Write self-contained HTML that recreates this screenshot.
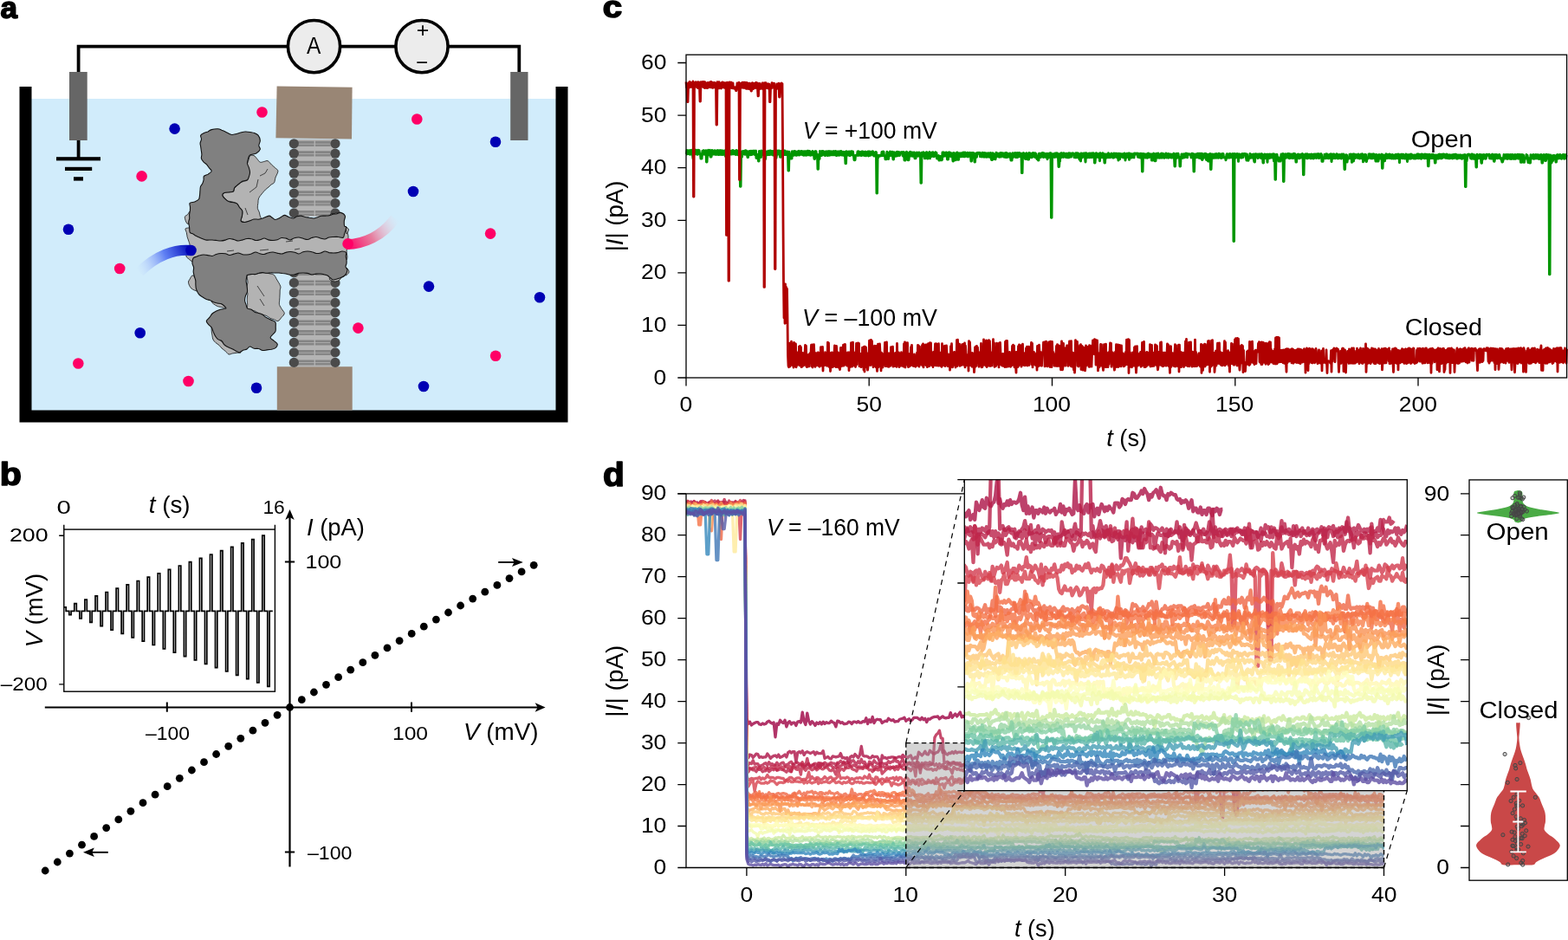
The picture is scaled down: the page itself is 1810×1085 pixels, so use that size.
<!DOCTYPE html>
<html><head><meta charset="utf-8"><title>Figure</title>
<style>html,body{margin:0;padding:0;background:#fff;}svg{display:block;}</style></head>
<body><svg width="1810" height="1085" viewBox="0 0 1810 1085" font-family="Liberation Sans, sans-serif" fill="#000">
<rect x="36" y="114" width="606" height="360" fill="#d1ecfb"/>
<path d="M29.5 100V480.5H648.5V100" fill="none" stroke="#000" stroke-width="14"/>
<path d="M90.6 83V53.6H599.3V83" fill="none" stroke="#000" stroke-width="3.8"/>
<rect x="80" y="83" width="20.7" height="79" fill="#666"/>
<rect x="589.2" y="83" width="20.3" height="79" fill="#666"/>
<path d="M90.6 162V183" stroke="#000" stroke-width="3.8"/>
<rect x="65" y="181.2" width="51" height="4.2" fill="#000"/>
<rect x="75" y="192.8" width="31.2" height="4.2" fill="#000"/>
<rect x="85" y="204.2" width="11" height="4.4" fill="#000"/>
<circle cx="362.5" cy="53.6" r="30.1" fill="#ececec" stroke="#000" stroke-width="3.6"/>
<circle cx="487.0" cy="53.6" r="30.1" fill="#ececec" stroke="#000" stroke-width="3.6"/>
<text transform="translate(353.9 62.4) scale(0.864 1)" font-size="28.4">A</text>
<text transform="translate(480.7 43.2) scale(1.017 1)" font-size="24.5">+</text>
<text transform="translate(480 79.6) scale(1.003 1)" font-size="24">−</text>
<polygon points="319.6,99.6 406.6,100.8 406,160.6 318.4,159.2" fill="#998675"/>
<rect x="319.8" y="423.2" width="86.9" height="50.3" fill="#998675"/>
<rect x="341" y="160.6" width="45" height="89.4" fill="#b4b4b4"/>
<rect x="341" y="312" width="45" height="111.2" fill="#b4b4b4"/>
<path d="M343.8 164.3H362.6M363.9 164.3H381.6M343.8 175.8H362.6M363.9 175.8H381.6M343.8 187.2H362.6M363.9 187.2H381.6M343.8 198.7H362.6M363.9 198.7H381.6M343.8 210.1H362.6M363.9 210.1H381.6M343.8 221.6H362.6M363.9 221.6H381.6M343.8 233H362.6M363.9 233H381.6M343.8 244.4H362.6M363.9 244.4H381.6M343.8 313.4H362.6M363.9 313.4H381.6M343.8 324.9H362.6M363.9 324.9H381.6M343.8 336.4H362.6M363.9 336.4H381.6M343.8 347.9H362.6M363.9 347.9H381.6M343.8 359.4H362.6M363.9 359.4H381.6M343.8 370.9H362.6M363.9 370.9H381.6M343.8 382.4H362.6M363.9 382.4H381.6M343.8 393.9H362.6M363.9 393.9H381.6M343.8 405.4H362.6M363.9 405.4H381.6M343.8 416.9H362.6M363.9 416.9H381.6" stroke="#848484" stroke-width="2.9"/>
<path d="M343.8 167.7H362.6M363.9 167.7H381.6M343.8 179.2H362.6M363.9 179.2H381.6M343.8 190.6H362.6M363.9 190.6H381.6M343.8 202.1H362.6M363.9 202.1H381.6M343.8 213.5H362.6M363.9 213.5H381.6M343.8 225H362.6M363.9 225H381.6M343.8 236.4H362.6M363.9 236.4H381.6M343.8 247.8H362.6M363.9 247.8H381.6M343.8 316.8H362.6M363.9 316.8H381.6M343.8 328.3H362.6M363.9 328.3H381.6M343.8 339.8H362.6M363.9 339.8H381.6M343.8 351.3H362.6M363.9 351.3H381.6M343.8 362.8H362.6M363.9 362.8H381.6M343.8 374.3H362.6M363.9 374.3H381.6M343.8 385.8H362.6M363.9 385.8H381.6M343.8 397.3H362.6M363.9 397.3H381.6M343.8 408.8H362.6M363.9 408.8H381.6M343.8 420.3H362.6M363.9 420.3H381.6" stroke="#868686" stroke-width="2.4"/>
<g fill="#4a4a4a"><circle cx="339.3" cy="165.8" r="5.6"/><circle cx="387" cy="165.8" r="5.6"/><circle cx="339.3" cy="177.2" r="5.6"/><circle cx="387" cy="177.2" r="5.6"/><circle cx="339.3" cy="188.7" r="5.6"/><circle cx="387" cy="188.7" r="5.6"/><circle cx="339.3" cy="200.2" r="5.6"/><circle cx="387" cy="200.2" r="5.6"/><circle cx="339.3" cy="211.6" r="5.6"/><circle cx="387" cy="211.6" r="5.6"/><circle cx="339.3" cy="223.1" r="5.6"/><circle cx="387" cy="223.1" r="5.6"/><circle cx="339.3" cy="234.5" r="5.6"/><circle cx="387" cy="234.5" r="5.6"/><circle cx="339.3" cy="245.9" r="5.6"/><circle cx="387" cy="245.9" r="5.6"/><circle cx="339.3" cy="314.9" r="5.6"/><circle cx="387" cy="314.9" r="5.6"/><circle cx="339.3" cy="326.4" r="5.6"/><circle cx="387" cy="326.4" r="5.6"/><circle cx="339.3" cy="337.9" r="5.6"/><circle cx="387" cy="337.9" r="5.6"/><circle cx="339.3" cy="349.4" r="5.6"/><circle cx="387" cy="349.4" r="5.6"/><circle cx="339.3" cy="360.9" r="5.6"/><circle cx="387" cy="360.9" r="5.6"/><circle cx="339.3" cy="372.4" r="5.6"/><circle cx="387" cy="372.4" r="5.6"/><circle cx="339.3" cy="383.9" r="5.6"/><circle cx="387" cy="383.9" r="5.6"/><circle cx="339.3" cy="395.4" r="5.6"/><circle cx="387" cy="395.4" r="5.6"/><circle cx="339.3" cy="406.9" r="5.6"/><circle cx="387" cy="406.9" r="5.6"/><circle cx="339.3" cy="418.4" r="5.6"/><circle cx="387" cy="418.4" r="5.6"/></g>
<path d="M285.5 188.7C285.7 187.2 286.6 185.8 287.1 184.4C287.6 182.9 287.5 180.8 288.5 180C289.5 179.2 291.6 179 293 179.5C294.4 180 295.5 182 296.7 183.3C297.9 184.6 299 186.7 300.3 187.2C301.6 187.7 303.2 186.8 304.7 186.5C306.2 186.3 307.6 185.1 309.1 185.7C310.6 186.3 312.1 188.8 313.5 190.1C314.9 191.4 316.2 192.3 317.4 193.6C318.7 194.8 320.8 195.6 320.9 197.5C321 199.4 318.7 202.7 318 204.9C317.3 207.1 317.3 209.4 316.5 210.8C315.7 212.2 314.1 212.2 313 213.1C311.9 214 311.1 215 310 216C308.9 217 307.5 217.9 306.3 219C305.2 220.1 304.5 221 303.2 222.6C301.9 224.2 299.7 226.5 298.8 228.5C297.9 230.5 298.1 232.4 297.9 234.4C297.6 236.3 297.1 238.6 297.3 240.3C297.5 242 298.7 243.1 299.2 244.6C299.6 246 299.8 247.6 300.2 249.1C300.6 250.6 302.2 252.6 301.7 253.5C301.2 254.4 298.5 254.2 297 254.5C295.4 254.8 293.8 255.2 292.2 255.3C290.6 255.4 288.9 255 287.3 255.2C285.7 255.4 284.1 256.5 282.6 256.5C281.1 256.5 278.6 256.2 278.1 255C277.6 253.8 279.2 251.1 279.4 249.2C279.7 247.2 280.1 244.8 279.6 243.2C279.1 241.6 277.2 240.8 276.2 239.5C275.2 238.1 274.8 236.1 273.7 235.1C272.6 234.1 271.2 233.9 269.9 233.5C268.6 233 267.2 232.9 265.9 232.5C264.5 232.2 263.4 232.6 261.9 231.4C260.4 230.2 257.3 227 256.8 225.5C256.3 224 257.8 223.2 259 222.6C260.2 222 262.4 221.9 264.1 221.7C265.8 221.4 268.2 221.8 269.3 221C270.4 220.2 269.6 218.3 270.8 216.7C272 215.1 275 212.7 276.7 211.5C278.4 210.3 279.5 210 281 209.4C282.5 208.8 284.7 208.9 285.5 207.8C286.3 206.7 285.7 204.6 285.7 203C285.7 201.4 285.4 199.8 285.4 198.2C285.5 196.7 285.7 195.1 285.7 193.5C285.7 191.9 285.3 190.2 285.5 188.7Z" fill="#b3b3b3" stroke="#111" stroke-width="0.8" stroke-linejoin="round"/>
<path d="M214 264C214.4 263 216.7 263.3 218 262.9C219.3 262.6 220.7 262.1 222 262C223.3 261.9 224.7 262 226 262.1C227.4 262.2 228.7 262.5 230.1 262.5C231.4 262.5 232.8 262 234.1 262C235.5 261.9 236.8 262 238.2 262C239.5 262 240.9 262.2 242.2 262.1C243.6 262 244.9 261.6 246.3 261.6C247.6 261.6 249 261.9 250.3 262C251.7 262.1 253 262.1 254.4 262.2C255.7 262.2 257.1 262.5 258.4 262.4C259.8 262.2 261.1 261.6 262.5 261.5C263.8 261.4 265.2 261.8 266.5 261.8C267.8 261.8 269.2 261.4 270.5 261.5C271.9 261.6 273.2 262.3 274.6 262.4C275.9 262.5 277.3 262.4 278.6 262.2C280 262.1 281.3 261.4 282.7 261.5C284 261.5 285.4 262.4 286.7 262.6C288.1 262.8 289.4 262.6 290.8 262.6C292.1 262.5 293.5 262.3 294.8 262.2C296.2 262.1 297.5 262.2 298.9 262.1C300.2 262 301.6 261.7 302.9 261.6C304.3 261.5 305.6 261.3 307 261.4C308.3 261.5 309.7 262 311 262C312.3 262 313.7 261.5 315 261.5C316.4 261.4 317.7 261.6 319.1 261.6C320.4 261.7 321.8 261.7 323.1 261.7C324.5 261.7 325.8 261.4 327.2 261.4C328.5 261.5 329.9 261.9 331.2 262C332.6 262 333.9 261.9 335.3 261.9C336.6 262 338 262.4 339.3 262.4C340.7 262.4 342 262.1 343.4 262C344.7 262 346.1 262.2 347.4 262.2C348.8 262.2 350.1 262 351.5 262C352.8 262 354.2 262.2 355.5 262.2C356.8 262.2 358.2 262 359.5 261.9C360.9 261.9 362.2 261.6 363.6 261.7C364.9 261.8 366.3 262.5 367.6 262.6C369 262.7 370.3 262.6 371.7 262.6C373 262.6 374.4 262.5 375.7 262.4C377.1 262.4 378.4 262.4 379.8 262.2C381.1 262.1 382.5 261.9 383.8 261.8C385.2 261.7 386.5 261.7 387.9 261.7C389.2 261.7 390.6 261.8 391.9 261.7C393.3 261.7 394.6 261.4 396 261.5C397.3 261.5 399.2 261.1 400 262C400.8 262.9 400.4 265.4 400.7 267.1C401 268.7 401.8 270.5 402 272C402.2 273.5 402 274.7 401.8 276C401.7 277.3 401.1 278.6 401 280C400.9 281.3 401.4 282.7 401.3 284C401.2 285.3 400.5 286.6 400.3 288C400.1 289.3 400.1 290.6 400.2 292C400.3 293.3 400.9 294.7 400.9 296C400.9 297.4 400.8 299.3 400 300C399.2 300.7 397.3 300.5 396 300.4C394.6 300.3 393.3 299.6 391.9 299.6C390.6 299.6 389.2 300.2 387.9 300.2C386.5 300.2 385.2 299.6 383.8 299.6C382.5 299.6 381.1 300.2 379.8 300.4C378.4 300.5 377.1 300.8 375.7 300.8C374.4 300.8 373 300.3 371.7 300.2C370.3 300 369 299.9 367.6 300C366.3 300.1 364.9 300.5 363.6 300.7C362.2 300.8 360.9 300.9 359.6 300.9C358.2 301 356.9 300.9 355.5 300.7C354.2 300.5 352.8 300.1 351.4 300C350.1 299.9 348.8 300.1 347.4 300.3C346.1 300.5 344.7 301 343.4 301.1C342 301.2 340.7 301 339.3 301C338 301 336.6 301.2 335.3 301.2C333.9 301.3 332.6 301.4 331.2 301.3C329.9 301.2 328.5 300.5 327.2 300.5C325.8 300.5 324.5 301.2 323.1 301.3C321.8 301.3 320.4 300.9 319.1 300.8C317.7 300.8 316.4 300.9 315 301C313.7 301.1 312.4 301.4 311 301.4C309.7 301.3 308.3 300.7 307 300.8C305.6 300.8 304.3 301.5 302.9 301.5C301.6 301.6 300.2 300.9 298.9 301C297.5 301 296.2 301.6 294.8 301.6C293.5 301.7 292.1 301.3 290.8 301.3C289.4 301.3 288.1 301.6 286.7 301.6C285.4 301.7 284 301.7 282.7 301.6C281.3 301.5 280 300.9 278.6 300.8C277.3 300.7 275.9 300.9 274.6 301C273.2 301.2 271.9 301.7 270.5 301.7C269.2 301.7 267.8 301 266.5 301C265.1 301.1 263.8 301.8 262.5 301.9C261.1 302 259.8 301.8 258.4 301.7C257.1 301.6 255.7 301.2 254.4 301.2C253 301.2 251.7 301.3 250.3 301.5C249 301.7 247.6 302.3 246.3 302.2C244.9 302.2 243.6 301.2 242.2 301.2C240.9 301.2 239.5 302 238.2 302.2C236.8 302.3 235.5 302.3 234.1 302.2C232.8 302.1 231.4 301.6 230.1 301.6C228.7 301.6 227.4 302.1 226 302.2C224.7 302.2 223.3 302.5 222 302C220.7 301.5 219.5 300.2 218.3 299.2C217.2 298.2 215.4 297.3 215 296C214.6 294.7 215.5 293 215.8 291.5C216.2 290 216.7 288.6 217.2 287.2C217.7 285.8 218.9 284.5 219 283C219.1 281.5 218.3 279.8 217.8 278.2C217.4 276.7 216.6 275.2 216.2 273.6C215.8 272 215.7 270.3 215.4 268.7C215 267.1 213.6 265 214 264Z" fill="#b3b3b3" stroke="#111" stroke-width="0.8" stroke-linejoin="round"/>
<path d="M285.5 317.5C286.2 316.7 288.4 317 289.9 316.7C291.4 316.5 292.9 316.4 294.4 316.2C295.9 316 297.3 315.8 298.8 315.5C300.3 315.2 301.7 314.7 303.2 314.6C304.7 314.5 306.2 314.9 307.7 315.1C309.2 315.4 310.7 315.6 312.2 316C313.7 316.4 315.3 316.5 316.5 317.5C317.7 318.5 318.2 320.4 319.1 321.9C320 323.3 320.9 324.7 321.7 326.2C322.5 327.7 323.6 329.4 323.9 330.8C324.2 332.2 323.4 333.5 323.2 334.9C323.1 336.3 323.1 337.6 323.1 339C323 340.4 323 341.8 322.9 343.2C322.8 344.5 322.7 345.9 322.6 347.3C322.6 348.6 322 349.8 322.4 351.4C322.8 353 324.2 354.9 325.2 356.6C326.2 358.4 328.3 360.1 328.3 361.7C328.3 363.3 326.2 364.9 324.9 366.4C323.7 367.9 322.3 370.2 320.9 370.6C319.5 371 317.9 369.4 316.4 368.8C314.9 368.3 313.3 368 311.9 367.3C310.5 366.6 309.3 365.3 307.8 364.6C306.4 363.9 304.7 363.7 303.2 363.2C301.7 362.7 300 362.5 298.6 361.8C297.1 361.2 296 359.8 294.5 359.1C293 358.5 291.2 358.7 289.7 358.1C288.2 357.6 286.2 356.9 285.5 355.8C284.8 354.7 285.8 353 285.7 351.5C285.7 350.1 285.4 348.7 285.3 347.3C285.2 345.9 285.3 344.5 285.4 343C285.5 341.6 286 340.2 285.9 338.8C285.8 337.4 285.1 335.9 284.9 334.5C284.8 333.1 284.8 331.7 285 330.3C285.2 328.8 285.9 327.4 286 326C286.1 324.6 285.6 323.2 285.5 321.8C285.4 320.3 284.8 318.3 285.5 317.5Z" fill="#b3b3b3" stroke="#111" stroke-width="0.8" stroke-linejoin="round"/>
<path d="M243 374C242.8 374 243.8 376.9 244 378.5C244.2 380 244.1 381.5 244.3 383C244.4 384.6 244.7 386 245 387.5C245.3 389 245.3 390.7 246 392C246.7 393.3 247.9 394.6 249 395.6C250.2 396.7 251.8 397.3 252.9 398.4C254.1 399.5 254.8 400.9 256 402C257.2 403.1 258.9 404.1 260.2 405.3C261.5 406.4 262.6 408.6 264 409C265.4 409.4 267.1 408.2 268.6 407.9C270.2 407.6 271.7 407.5 273.3 407.3C274.9 407.2 277.9 407.4 278 407C278.1 406.6 275.5 405.3 274.1 404.7C272.8 404.1 271.2 404 269.8 403.4C268.5 402.8 267.3 401.7 266 401C264.7 400.2 263.2 399.7 262 399C260.8 398.3 259.6 397.4 258.5 396.5C257.4 395.6 256.4 394.6 255.3 393.7C254.3 392.7 253.3 391.8 252.2 390.8C251.1 389.9 249.8 389.3 249 388C248.2 386.7 248 384.7 247.4 383.2C246.7 381.6 245.8 380.1 245.1 378.6C244.4 377.1 243.2 374 243 374Z" fill="#b3b3b3" stroke="#111" stroke-width="0.8" stroke-linejoin="round"/>
<path d="M219.2 244C218.6 243.8 217.6 246.5 216.6 247.6C215.6 248.7 213.4 248.9 213.3 250.6C213.2 252.3 214.7 256.8 216 258C217.3 259.2 220.2 258.8 221 258C221.8 257.2 220.8 254.9 220.6 253.3C220.5 251.7 220.2 250.2 220 248.6C219.7 247.1 219.8 244.2 219.2 244Z" fill="#b3b3b3" stroke="#111" stroke-width="0.8" stroke-linejoin="round"/>
<path d="M222 318C220.9 318.3 220 320.5 219.3 321.9C218.5 323.3 217.2 324.4 217.5 326.3C217.8 328.2 219.2 331.4 221 333C222.8 334.6 227 336.2 228 336C229 335.8 227 333.4 226.9 332.1C226.8 330.7 227.4 329.3 227.3 328C227.1 326.6 226.3 325.4 226.1 324.1C225.9 322.7 226.7 321 226 320C225.3 319 223.1 317.7 222 318Z" fill="#b3b3b3" stroke="#111" stroke-width="0.8" stroke-linejoin="round"/>
<path d="M244 348C243.5 346.2 245.7 343.2 247 342C248.3 340.8 250.6 340.7 252 341C253.4 341.3 254.1 342.9 255.1 343.9C256.1 344.9 257.2 345.7 258 347C258.8 348.3 259.1 349.9 259.6 351.4C260.2 352.9 261.9 355.3 261.2 355.8C260.5 356.3 257.4 355 255.6 354.5C253.7 354 251.9 354.1 250 353C248.1 351.9 244.5 349.8 244 348Z" fill="#b3b3b3" stroke="#111" stroke-width="0.8" stroke-linejoin="round"/>
<path d="M396 250C395 248.3 391.7 246.6 390 246C388.3 245.4 387.3 246.3 386 246.5C384.7 246.6 383.3 246.1 382 247C380.7 247.9 377.9 250.9 378 252C378.1 253.1 380.9 252.9 382.4 253.4C383.9 253.8 385.4 254.3 386.9 254.5C388.4 254.8 390 254.5 391.6 254.8C393.1 255 395.3 256.8 396 256C396.7 255.2 397 251.7 396 250Z" fill="#b3b3b3" stroke="#111" stroke-width="0.8" stroke-linejoin="round"/>
<path d="M395 318C394.3 319.5 393.5 321.8 392 323C390.5 324.2 388 325.2 386 325C384 324.8 380.4 322.9 380 322C379.6 321.1 382.5 320.3 383.8 319.7C385.2 319 386.7 318.8 388.1 318.2C389.4 317.5 390.6 316.5 391.9 315.8C393.2 315.1 395.5 313.6 396 314C396.5 314.4 395.7 316.5 395 318Z" fill="#b3b3b3" stroke="#111" stroke-width="0.8" stroke-linejoin="round"/>
<path d="M399 262C399.5 261.8 402.3 263.7 402.5 265C402.7 266.3 400.5 269.8 400 270C399.5 270.2 399.9 267.3 399.7 266C399.5 264.6 398.5 262.2 399 262Z" fill="#b3b3b3" stroke="#111" stroke-width="0.8" stroke-linejoin="round"/>
<path d="M400 309C400.5 309.1 403.2 312.5 403 314C402.8 315.5 399.5 318.1 399 318C398.5 317.9 399.8 315.1 400 313.6C400.2 312.1 399.5 308.9 400 309Z" fill="#b3b3b3" stroke="#111" stroke-width="0.8" stroke-linejoin="round"/>
<path d="M231.7 156.2C232.2 155 234.3 154.3 235.6 153.6C237 152.9 238.6 152.5 240.1 151.9C241.5 151.2 242.3 150.1 244.2 149.6C246.1 149.1 249.7 148.7 251.6 148.8C253.5 148.9 254.5 149.6 255.9 150.2C257.3 150.7 258.7 151.4 260 152C261.3 152.6 262.5 153.3 263.8 153.9C265.1 154.5 266.3 155.4 267.8 155.5C269.3 155.6 271.3 154.9 273 154.5C274.7 154.1 276.3 153.4 278 153C279.7 152.6 281.5 152.1 283.2 152C285 151.9 286.8 152.2 288.5 152.5C290.2 152.8 292 152.9 293.6 153.5C295.2 154.2 296.9 154.8 298 156.2C299.1 157.6 300.2 160.1 300.3 162.1C300.4 164.1 298.8 166.3 298.8 168C298.8 169.7 300.8 170.9 300.3 172.4C299.8 173.9 297.8 175.8 295.8 176.9C293.8 178 290.1 177.9 288.5 179C286.9 180.1 286.9 182.1 286.4 183.7C285.9 185.3 285.3 187 285.5 188.7C285.7 190.4 286.9 192 287.4 193.7C287.9 195.4 288.5 197.4 288.5 199C288.5 200.6 288 202.1 287.5 203.6C287 205 286.6 206.9 285.5 207.8C284.4 208.7 282.2 208.2 280.8 208.8C279.3 209.4 278.4 210.2 276.7 211.5C275 212.8 272 215.1 270.8 216.7C269.6 218.3 270.4 220.1 269.3 221C268.2 221.9 265.9 221.6 264.2 221.9C262.4 222.1 260.2 222 259 222.6C257.8 223.2 256.3 224 256.8 225.5C257.3 227 260.4 230.1 261.9 231.4C263.4 232.7 264.3 232.8 265.7 233.2C267 233.6 268.4 233.5 269.8 233.8C271.1 234.1 272.6 234.2 273.7 235.1C274.8 236 275.5 237.9 276.4 239.3C277.4 240.6 279.1 241.6 279.6 243.2C280.1 244.8 279.7 247.2 279.5 249.2C279.2 251.1 277.6 253.8 278.1 255C278.6 256.2 281 256.5 282.6 256.5C284.2 256.5 286.1 255.6 287.9 255C289.6 254.4 291.3 253.3 293 253C294.7 252.7 296.5 253.3 298.2 253.2C299.9 253 301.1 252.7 303.2 252C305.3 251.3 308.8 249.2 310.6 249.1C312.4 249 313 250.6 314.3 251.3C315.5 252.1 316.5 253.5 318 253.5C319.5 253.5 321.6 252.2 323.3 251.3C325.1 250.5 326.6 248.5 328.3 248.4C330 248.3 331.6 249.9 333.3 250.5C335.1 251.1 337 252.1 338.6 252C340.2 251.9 341.3 250.3 342.8 249.8C344.2 249.3 345.8 249 347.4 249.1C349 249.2 350.6 250.2 352.2 250.5C353.9 250.9 355.6 250.9 357.2 251.2C358.9 251.4 360.6 252.1 362.2 252C363.8 251.9 365.1 251.1 366.6 250.7C368 250.2 369.4 249.5 370.9 249.2C372.4 249 374 249.2 375.5 249.1C377 249 378.6 249.1 380.1 248.8C381.5 248.5 382.9 247.6 384.3 247.2C385.8 246.9 387.4 247 388.9 246.7C390.3 246.4 391.6 245 393.2 245.4C394.8 245.8 397.6 247.5 398.3 249.1C399 250.7 397.4 253 397.3 255C397.2 256.9 397.2 259.7 397.6 260.9C398 262.1 399.8 260.9 399.8 262.4C399.8 263.9 398.2 267.8 397.6 269.8C397 271.8 397.3 273.6 396.1 274.2C394.9 274.8 392.4 273.6 390.6 273.5C388.7 273.3 386.8 273.4 385 273.5C383.2 273.6 381.5 273.6 379.8 274C378.1 274.4 376.6 275.8 375 276C373.4 276.2 371.6 275.4 370 274.9C368.3 274.5 366.7 273.6 365 273.5C363.3 273.4 361.5 274 359.8 274.5C358.2 275 356.6 276.4 355 276.5C353.4 276.6 351.6 275.8 350 275.3C348.3 274.9 346.7 274.1 345 274C343.3 273.9 341.4 274.2 339.8 274.7C338.1 275.2 336.6 276.9 335 277C333.4 277.1 331.8 275.5 330.2 275.1C328.5 274.7 326.7 274.2 325 274.5C323.3 274.8 321.9 276.2 320.2 276.7C318.5 277.2 316.7 277.5 315 277.5C313.3 277.5 311.5 277.3 309.8 276.9C308.2 276.5 306.6 275 305 275C303.4 275 301.8 276.3 300.1 276.7C298.5 277.2 296.7 277.7 295 277.5C293.3 277.3 291.8 276 290.2 275.7C288.5 275.3 286.7 275.3 285 275.5C283.3 275.7 281.7 276.4 280 276.9C278.4 277.3 276.7 278.1 275 278C273.3 277.9 271.7 276.9 270.1 276.5C268.4 276.1 266.7 275.4 265 275.5C263.3 275.6 261.8 276.7 260.1 277.1C258.4 277.5 256.7 277.9 255 278C253.3 278.1 251.7 277.7 250 277.5C248.3 277.3 247 277.1 245 277C243 276.9 240.1 277.3 238.3 277.1C236.5 276.9 235.5 276.3 234.1 275.7C232.7 275.2 231.3 274.6 230 274C228.7 273.4 227.5 273 226.3 272.3C225.1 271.7 224.1 270.7 222.9 270.1C221.7 269.4 219.9 269.6 219.2 268.3C218.5 267 218.9 264.3 218.6 262.4C218.4 260.4 217.7 258.2 217.7 256.5C217.7 254.8 218.6 253.6 218.7 252.1C218.9 250.7 218.5 249.2 218.6 247.7C218.7 246.2 219.2 244.8 219.4 243.3C219.5 241.8 219.6 240.3 219.5 238.9C219.5 237.4 218.3 235.4 219.2 234.4C220.1 233.4 223 233.7 224.7 233C226.4 232.3 228.5 231.4 229.5 230C230.5 228.6 230.3 226.6 230.6 224.8C230.8 223.1 230.8 221.2 231 219.6C231.2 218 231 216.7 231.5 215.4C232 214.1 233.2 213 233.8 211.7C234.4 210.4 234.8 209 235.1 207.7C235.4 206.3 234.6 204.5 235.4 203.4C236.2 202.3 238.7 202 240.2 201.1C241.7 200.1 244 198.7 244.2 197.5C244.4 196.3 242.3 195 241.3 193.7C240.4 192.5 239.7 191.1 238.6 189.9C237.5 188.8 236 188 234.9 186.8C233.9 185.6 232.7 184.2 232.4 182.8C232.1 181.4 232.9 179.8 232.9 178.4C232.9 176.9 232.5 175.4 232.3 173.9C232.1 172.5 231.9 171 231.7 169.5C231.5 168 231 166.6 231.1 165.1C231.3 163.6 232.4 162.1 232.5 160.6C232.5 159.1 231.2 157.4 231.7 156.2Z" fill="#808080" stroke="#111" stroke-width="1.1" stroke-linejoin="round"/>
<path d="M223 298C223.8 296.7 225.6 296.8 226.8 296.2C228.1 295.7 229.4 295 230.8 294.7C232.1 294.3 233.5 294 235 294C236.5 294 238.4 294.3 240 294.6C241.7 294.8 243.4 295.7 245 295.5C246.6 295.3 248.2 293.9 249.8 293.4C251.5 292.9 253.3 292.6 255 292.5C256.7 292.4 258.5 292.4 260.2 292.7C261.8 293.1 263.4 294.4 265 294.5C266.6 294.6 268.3 293.5 270 293.1C271.6 292.7 273.4 291.9 275 292C276.6 292.1 278.2 293.4 279.9 293.7C281.5 294.1 283.3 294.1 285 294C286.7 293.9 288.5 293.5 290.2 293C291.8 292.5 293.4 291.1 295 291C296.6 290.9 298.2 292.3 299.9 292.7C301.6 293.1 303.3 293.7 305 293.5C306.7 293.3 308.2 292.2 309.9 291.8C311.5 291.3 313.3 290.9 315 291C316.7 291.1 318.3 291.7 320 292.1C321.7 292.4 323.3 293.1 325 293C326.7 292.9 328.2 291.8 329.9 291.4C331.6 290.9 333.3 290.5 335 290.5C336.7 290.5 338.5 290.8 340.1 291.2C341.8 291.6 343.4 293.1 345 293C346.6 292.9 348.1 291.3 349.8 290.8C351.5 290.3 353.3 290 355 290C356.7 290 358.5 290.3 360.1 290.8C361.8 291.2 363.3 292.3 365 292.5C366.7 292.7 368.5 292.4 370.2 292C371.9 291.6 373.4 290.1 375 290C376.6 289.9 378.2 291.2 379.9 291.6C381.6 291.9 383.3 292 385 292C386.7 292 388.4 291.9 390.1 291.5C391.8 291.2 393.4 290 395 290C396.6 290 398.8 290.5 399.5 291.5C400.2 292.5 399.1 294.4 399.2 295.8C399.3 297.2 399.9 298.6 400 300C400.1 301.4 400.2 302.7 400 304.1C399.9 305.4 398.8 306.7 399 308C399.2 309.3 401.2 310.3 401 312C400.8 313.7 399.5 316.5 398 318C396.5 319.5 394.2 320.2 392 321C389.8 321.8 386.8 323 385 323C383.2 323 382.5 321.6 381.3 320.8C380.1 319.9 379.2 318.7 378 318C376.8 317.3 375.4 317.1 374.1 316.8C372.7 316.4 371.5 316.1 370 316C368.5 315.9 366.6 315.9 365 316.1C363.3 316.3 361.6 317.1 360 317C358.4 316.9 356.8 315.7 355.1 315.4C353.5 315 351.7 315 350 315C348.3 315 346.5 315 344.9 315.3C343.2 315.7 341.7 316.7 340 317C338.3 317.3 336.6 317.4 334.9 317.2C333.3 317.1 331.5 316.3 330 316C328.5 315.7 327.3 315.6 326 315.5C324.7 315.3 323.4 315.1 322 315C320.7 314.9 319.5 315 318 315C316.5 315 314.7 314.8 313 314.9C311.3 314.9 309.7 315.4 308 315.3C306.3 315.3 304.6 314.6 303 314.6C301.4 314.6 300.1 314.9 298.7 315.3C297.2 315.6 295.9 316.4 294.4 316.6C293 316.8 291.5 316.3 290 316.5C288.5 316.7 286.4 317.1 285.5 317.5C284.6 317.9 285 317.8 284.8 319C284.6 320.2 284.1 322.7 284.1 324.5C284.2 326.3 284.8 328 285 330C285.2 332 285.8 334.8 285.5 336.7C285.2 338.6 283.9 340 283.4 341.7C282.9 343.4 282.5 345.4 282.6 347C282.7 348.6 283.5 350 284 351.4C284.5 352.9 284.5 354.8 285.5 355.8C286.5 356.8 288.6 356.6 290.1 357.3C291.5 358 292.6 359.5 294.1 360.2C295.5 360.9 297.2 361 298.7 361.5C300.2 362 301.9 362.4 303.2 363.2C304.5 364 305.4 365.2 306.5 366C307.7 366.8 309 367.5 310.3 368.1C311.6 368.8 313 369.2 314.3 369.8C315.6 370.5 317.4 370.8 318 372C318.6 373.2 318.2 375.5 318.2 377.2C318.2 378.9 318.5 380.9 318 382.4C317.5 383.9 315.9 384.8 314.9 386C313.9 387.2 311.9 388.6 312.1 389.8C312.3 391 314.9 392.1 316.2 393.4C317.6 394.6 319.9 395.7 320.2 397.1C320.5 398.5 319.2 400.6 318 401.6C316.8 402.6 314.8 402.8 313.2 403.2C311.6 403.5 309.9 403.7 308.2 403.9C306.5 404.1 304.8 404.7 303.2 404.5C301.6 404.3 300.1 402.8 298.5 402.5C296.8 402.1 294.8 402.7 293.2 402.3C291.5 401.9 289.9 399.9 288.5 400C287.1 400.1 286.3 402.2 285 402.9C283.6 403.7 281.9 403.6 280.5 404.3C279.1 404.9 278 406.5 276.7 406.7C275.4 406.9 274.1 406 272.8 405.4C271.6 404.8 270.5 403.9 269.3 403.3C268.1 402.7 266.8 402.3 265.6 401.7C264.3 401.2 263.1 400.7 261.9 400C260.7 399.3 259.4 398.4 258.4 397.3C257.4 396.2 257 394.4 255.9 393.5C254.8 392.5 252.8 392.5 251.6 391.6C250.4 390.8 249.6 389.7 248.7 388.3C247.8 386.9 247.1 384.9 246.3 383.2C245.6 381.5 245.1 379.4 244.2 378C243.3 376.6 241.8 375.9 240.8 374.6C239.8 373.4 238.1 372 238.3 370.6C238.5 369.2 240.7 367.9 241.8 366.4C243 365 243.7 363.2 245 362C246.3 360.8 248.2 360 249.8 359.1C251.5 358.3 253.1 357.5 255 357C256.9 356.5 260.8 357 261 356C261.2 355 257.7 352 256 351C254.3 350 252.6 350.4 250.9 350C249.3 349.6 247.4 349.1 246 348.5C244.6 347.9 243.6 347.1 242.3 346.6C241 346.1 239.7 346.1 238.3 345.5C236.9 344.9 235.2 343.8 233.7 342.8C232.3 341.8 230.7 341.1 229.5 339.6C228.3 338.1 227.1 335.5 226.5 333.7C225.9 331.9 226 330.4 225.9 328.8C225.7 327.1 226 325.4 225.8 323.8C225.5 322.2 224.7 320.6 224.3 319C223.9 317.4 223.4 315.6 223.2 313.9C223.1 312.2 223.8 310.3 223.6 308.7C223.4 307.1 222.1 305.8 222 304C221.9 302.2 222.2 299.3 223 298Z" fill="#808080" stroke="#111" stroke-width="1.1" stroke-linejoin="round"/>
<path d="M300 203l6-3 3-5M288 222l8-6 2-9M262 290l8-1M300 289l10-1M330 279l8-1M340 288l6-1M283 240l3 8M297 330l8 12M300 345l5 8" fill="none" stroke="#111" stroke-width="0.7"/>
<defs><linearGradient id="gb" gradientUnits="userSpaceOnUse" x1="221" y1="289" x2="160" y2="316"><stop offset="0" stop-color="#0008b8"/><stop offset="0.45" stop-color="#4a6cf2" stop-opacity="0.85"/><stop offset="1" stop-color="#bcd0ff" stop-opacity="0"/></linearGradient><linearGradient id="gp" gradientUnits="userSpaceOnUse" x1="400" y1="282" x2="457" y2="250"><stop offset="0" stop-color="#ff0066"/><stop offset="0.45" stop-color="#ea6a8e" stop-opacity="0.85"/><stop offset="1" stop-color="#f4d0dc" stop-opacity="0"/></linearGradient></defs>
<path d="M221 289C202 287 180 295 161 314" fill="none" stroke="url(#gb)" stroke-width="12"/>
<path d="M400 282C420 282 442 272 456 252" fill="none" stroke="url(#gp)" stroke-width="12"/>
<g fill="#0000b4"><circle cx="201.6" cy="148.6" r="6.3"/><circle cx="572" cy="163.8" r="6.3"/><circle cx="477" cy="221" r="6.3"/><circle cx="79" cy="264.7" r="6.3"/><circle cx="161.7" cy="384.3" r="6.3"/><circle cx="296" cy="447.7" r="6.3"/><circle cx="495" cy="330.6" r="6.3"/><circle cx="623" cy="343.3" r="6.3"/><circle cx="489" cy="446" r="6.3"/><circle cx="220.5" cy="289" r="6.3"/></g>
<g fill="#ff0066"><circle cx="302.5" cy="129.5" r="6.3"/><circle cx="481.3" cy="137.5" r="6.3"/><circle cx="163.6" cy="203.4" r="6.3"/><circle cx="566.1" cy="269.6" r="6.3"/><circle cx="138.2" cy="310" r="6.3"/><circle cx="90.3" cy="419.5" r="6.3"/><circle cx="217.5" cy="440" r="6.3"/><circle cx="413.4" cy="378.6" r="6.3"/><circle cx="572.1" cy="410.8" r="6.3"/><circle cx="401.6" cy="281.4" r="6.3"/></g>
<text stroke="#000" stroke-width="1.6" stroke-linejoin="round" transform="translate(0.5 20.5) scale(1.010 1)" font-size="34.7" font-weight="bold">a</text>
<text stroke="#000" stroke-width="1.6" stroke-linejoin="round" transform="translate(-0.3 560.3) scale(1.097 1)" font-size="37.6" font-weight="bold">b</text>
<path d="M51.8 816.5H622M334.5 1000.4V596" stroke="#000" stroke-width="2.2" fill="none"/>
<path d="M629.6 816.5l-12 -5.2 3 5.2 -3 5.2z" fill="#000"/>
<path d="M334.5 588l-5.2 12 5.2 -3 5.2 3z" fill="#000"/>
<path d="M192.8 810.6v11.2M475 810.6v11.2M328.9 648.5h11.2M328.9 983.5h11.2" stroke="#000" stroke-width="2"/>
<g fill="#000"><circle cx="52.2" cy="1005" r="4.4"/><circle cx="66.3" cy="995" r="4.4"/><circle cx="80.4" cy="985.1" r="4.4"/><circle cx="94.5" cy="975.2" r="4.4"/><circle cx="108.6" cy="965.4" r="4.4"/><circle cx="122.7" cy="955.6" r="4.4"/><circle cx="136.8" cy="945.9" r="4.4"/><circle cx="150.9" cy="936.3" r="4.4"/><circle cx="165" cy="926.7" r="4.4"/><circle cx="179.1" cy="917.2" r="4.4"/><circle cx="193.2" cy="907.7" r="4.4"/><circle cx="207.3" cy="898.3" r="4.4"/><circle cx="221.4" cy="889" r="4.4"/><circle cx="235.5" cy="879.7" r="4.4"/><circle cx="249.6" cy="870.5" r="4.4"/><circle cx="263.7" cy="861.3" r="4.4"/><circle cx="277.8" cy="852.3" r="4.4"/><circle cx="291.9" cy="843.2" r="4.4"/><circle cx="306" cy="834.3" r="4.4"/><circle cx="320.1" cy="825.3" r="4.4"/><circle cx="334.5" cy="816.5" r="4.4"/><circle cx="348.3" cy="807.7" r="4.4"/><circle cx="362.4" cy="799" r="4.4"/><circle cx="376.5" cy="790.3" r="4.4"/><circle cx="390.6" cy="781.7" r="4.4"/><circle cx="404.7" cy="773.2" r="4.4"/><circle cx="418.8" cy="764.7" r="4.4"/><circle cx="432.9" cy="756.3" r="4.4"/><circle cx="447" cy="747.9" r="4.4"/><circle cx="461.1" cy="739.6" r="4.4"/><circle cx="475.2" cy="731.4" r="4.4"/><circle cx="489.3" cy="723.2" r="4.4"/><circle cx="503.4" cy="715.1" r="4.4"/><circle cx="517.5" cy="707" r="4.4"/><circle cx="531.6" cy="699" r="4.4"/><circle cx="545.7" cy="691.1" r="4.4"/><circle cx="559.8" cy="683.2" r="4.4"/><circle cx="573.9" cy="675.4" r="4.4"/><circle cx="588" cy="667.6" r="4.4"/><circle cx="602.1" cy="659.9" r="4.4"/><circle cx="616.2" cy="652.3" r="4.4"/></g>
<path d="M575.2 649H595" stroke="#000" stroke-width="1.9"/><path d="M603.8 649L591 644 593.6 649 591 654z" fill="#000"/>
<path d="M124.8 983.8H105" stroke="#000" stroke-width="1.9"/><path d="M96 983.8L108.8 978.6 106.3 983.8 108.8 989z" fill="#000"/>
<text transform="translate(352.4 655.6) scale(1.118 1)" font-size="22.5">100</text>
<text transform="translate(355 991.6) scale(1.029 1)" font-size="22.5">–100</text>
<text transform="translate(168 853.5) scale(1.019 1)" font-size="22.5">–100</text>
<text transform="translate(452.9 853.5) scale(1.098 1)" font-size="22.5">100</text>
<text transform="translate(535 853.5) scale(0.995 1)" font-size="28"><tspan font-style="italic">V</tspan> (mV)</text>
<text transform="translate(354 617.9) scale(0.978 1)" font-size="28"><tspan font-style="italic">I</tspan> (pA)</text>
<rect x="73.8" y="611.1" width="243.6" height="187.1" fill="#fff" stroke="#000" stroke-width="1.4"/>
<path d="M68.2 618.2h5.6M68.2 789.9h5.6M73.8 611.1v-5.4M317.4 611.1v-5.4" stroke="#000" stroke-width="1.4"/>
<path d="M73.8 700.9L76.2 700.9L76.2 705.3L79.8 705.3L79.8 709.7L82.1 709.7L82.1 705.3L85.8 705.3L85.8 696.6L88.3 696.6L88.3 705.3L91.9 705.3L91.9 714L94.2 714L94.2 705.3L97.9 705.3L97.9 692.2L100.3 692.2L100.3 705.3L103.9 705.3L103.9 718.4L106.2 718.4L106.2 705.3L110 705.3L110 687.9L112.4 687.9L112.4 705.3L116 705.3L116 722.7L118.3 722.7L118.3 705.3L122 705.3L122 683.5L124.4 683.5L124.4 705.3L128 705.3L128 727.1L130.3 727.1L130.3 705.3L134.1 705.3L134.1 679.2L136.5 679.2L136.5 705.3L140.1 705.3L140.1 731.4L142.4 731.4L142.4 705.3L146.1 705.3L146.1 674.8L148.5 674.8L148.5 705.3L152.1 705.3L152.1 735.8L154.4 735.8L154.4 705.3L158.2 705.3L158.2 670.5L160.6 670.5L160.6 705.3L164.2 705.3L164.2 740.1L166.5 740.1L166.5 705.3L170.2 705.3L170.2 666.1L172.6 666.1L172.6 705.3L176.2 705.3L176.2 744.5L178.5 744.5L178.5 705.3L182.2 705.3L182.2 661.8L184.7 661.8L184.7 705.3L188.3 705.3L188.3 748.8L190.6 748.8L190.6 705.3L194.3 705.3L194.3 657.4L196.7 657.4L196.7 705.3L200.3 705.3L200.3 753.2L202.6 753.2L202.6 705.3L206.4 705.3L206.4 653L208.8 653L208.8 705.3L212.4 705.3L212.4 757.6L214.7 757.6L214.7 705.3L218.4 705.3L218.4 648.7L220.8 648.7L220.8 705.3L224.4 705.3L224.4 761.9L226.7 761.9L226.7 705.3L230.5 705.3L230.4 644.3L232.9 644.3L232.9 705.3L236.5 705.3L236.5 766.3L238.8 766.3L238.8 705.3L242.5 705.3L242.5 640L244.9 640L244.9 705.3L248.5 705.3L248.5 770.6L250.8 770.6L250.8 705.3L254.6 705.3L254.6 635.6L257 635.6L257 705.3L260.6 705.3L260.6 775L262.9 775L262.9 705.3L266.6 705.3L266.6 631.3L269 631.3L269 705.3L272.6 705.3L272.6 779.3L274.9 779.3L274.9 705.3L278.7 705.3L278.7 626.9L281.1 626.9L281.1 705.3L284.7 705.3L284.7 783.7L287 783.7L287 705.3L290.7 705.3L290.7 622.6L293.1 622.6L293.1 705.3L296.7 705.3L296.7 788L299 788L299 705.3L302.8 705.3L302.8 618.2L305.2 618.2L305.2 705.3L308.8 705.3L308.8 792.4L311.1 792.4L311.1 705.3L314.8 705.3" fill="none" stroke="#000" stroke-width="1.7" stroke-linejoin="miter"/>
<text transform="translate(65.5 592.6) scale(1.366 1)" font-size="21.5">0</text>
<text transform="translate(303.4 592.6) scale(1.062 1)" font-size="21.5">16</text>
<text transform="translate(171.7 591.9) scale(0.994 1)" font-size="28"><tspan font-style="italic">t</tspan> (s)</text>
<text transform="translate(10.9 624.5) scale(1.217 1)" font-size="22">200</text>
<text transform="translate(0.8 796.5) scale(1.104 1)" font-size="22">–200</text>
<text transform="translate(49.3 747.5) rotate(-90) scale(0.983 1)" font-size="28"><tspan font-style="italic">V</tspan> (mV)</text>
<text stroke="#000" stroke-width="1.6" stroke-linejoin="round" transform="translate(695.8 20.4) scale(1.134 1)" font-size="35.5" font-weight="bold">c</text>
<path d="M792 178l0.5 0 0.5-4.4 0.5 0.2 0.5 0.3 0.5 3.4 0.5-3.8 0.5 3.4 0.5-3 0.5 4.1 0.5-4.8 0.5 4 0.5-3.7 0.5 4.5 0.5-5 0.5 4.9 0.5 4.7 0.5-5.1 0.5-4.2 0.5 3.7 0.5 0.6 0.5-3.9 0.5-0.7 0.5 1 0.5-0.7 0.5 4.7 0.5-4.2 0.5 4.2 0.5-4.9 0.5 3.9 0.5-3.7 0.5 3.7 0.5 0.6 0.5-0.1 0.5 5.4 0.5 0 0.5 0 0.5-5.5 0.5-3.4 0.5 3.8 0.5-4.2 0.5 4.3 0.5-4 0.5 3.5 0.5 0.6 0.5-0.4 0.5-4 0.5 13.2 0.5 0 0.5-8.7 0.5-4 0.5-0.9 0.5 0.6 0.5 4.4 0.5-4.5 0.5-0.6 0.5 7.6 0.5 0 0.5 0 0.5-2.8 0.5-4.5 0.5 0.3 0.5 0.3 0.5 3.9 0.5-3.8 0.5 3.8 0.5-4.4 0.5 4.1 0.5 0.5 0.5-0.7 0.5-3.6 0.5 4.3 0.5-4.3 0.5-0.4 0.5 0.2 0.5 4.7 0.5 0 0.5-4.8 0.5 4.6 0.5-4 0.5-0.6 0.5 4.7 0.5-4.3 0.5 3.9 0.5-4 0.5 4.5 0.5-4.3 0.5 3.7 0.5-3.4 0.5-0.4 0.5-0.3 0.5 6.6 0.5 0 0.5 0 0.5-1.8 0.5-0.9 0.5-4.1 0.5 4 0.5-3.5 0.5 3.4 0.5 1 0.5-0.1 0.5-4 0.5 3.7 0.5-3.8 0.5 3.8 0.5-4.1 0.5 0.5 0.5-0.9 0.5 4.2 0.5-3.7 0.5 3.5 0.5-3 0.5 3.2 0.5-3.5 0.5 4.3 0.5-5 0.5 4.5 0.5-4 0.5 4.2 0.5 0.3 0.5-0.6 0.5-4.2 0.5 0.4 0.5-0.2 0.5 41.3 0.5 0 0.5-36.9 0.5 2.7 0.5 0 0.5-6.4 0.5 3.1 0.5-3.3 0.5 3.3 0.5-3.1 0.5-0.2 0.5 3.8 0.5-4.6 0.5 0.7 0.5 3.7 0.5-3.8 0.5 4.1 0.5 3.1 0.5 0 0.5-3.4 0.5 0.4 0.5-4.1 0.5 4.2 0.5-0.7 0.5 0.8 0.5-4.5 0.5 4.3 0.5-0.2 0.5-0.2 0.5-3.8 0.5 0.5 0.5 0 0.5-0.6 0.5 4.1 0.5 0.4 0.5-3.9 0.5-0.6 0.5 8.3 0.5 0 0.5-3.9 0.5-0.2 0.5 0 0.5 7.6 0.5 0 0.5-11.4 0.5 3.8 0.5 0.2 0.5-3.9 0.5 6.8 0.5-7.5 0.5 4.9 0.5-0.8 0.5 0.2 0.5-3.7 0.5 3.3 0.5-0.1 0.5 0.3 0.5 5.4 0.5 0 0.5-4.9 0.5-0.5 0.5-3.2 0.5 3.2 0.5 0.5 0.5-0.2 0.5-4.1 0.5 4.1 0.5-3.7 0.5 3.7 0.5-4.5 0.5 4.2 0.5-3.9 0.5 4 0.5-3.4 0.5-0.2 0.5 3.4 0.5 1 0.5-4.4 0.5 0.2 0.5 0.2 0.5 0 0.5 3.2 0.5 4.1 0.5 0 0.5-3.2 0.5-5.1 0.5 4.2 0.5-3.8 0.5-0.4 0.5 1 0.5-0.9 0.5 0.5 0.5 6.6 0.5 0 0.5 0 0.5-6.7 0.5 3.6 0.5-3.9 0.5 4.8 0.5-4.4 0.5 0.1 0.5-0.7 0.5 4.5 0.5-4.4 0.5 0.6 0.5 0 0.5 3.8 0.5-0.4 0.5-3.2 0.5 0 0.5 3.2 0.5 18.9 0.5 0 0.5-21.8 0.5 3 0.5 0.9 0.5-0.9 0.5 4.8 0.5 0 0.5 0 0.5-8.3 0.5 4.3 0.5-0.9 0.5-2.9 0.5 4 0.5-4.8 0.5 4 0.5-3.7 0.5 0.3 0.5 4.2 0.5 0 0.5-4 0.5 3.6 0.5-3.7 0.5-0.3 0.5-0.4 0.5 4.6 0.5-3.9 0.5 3.5 0.5-3.8 0.5 0.1 0.5-0.4 0.5-0.1 0.5 4.2 0.5 0.1 0.5-3.4 0.5-0.4 0.5 4.4 0.5-0.5 0.5-4.1 0.5 4.2 0.5-4.2 0.5 4.5 0.5-4.1 0.5-0.1 0.5-0.7 0.5 4.5 0.5-4.5 0.5 4.1 0.5-3.9 0.5 4.3 0.5-4 0.5 4.5 0.5-0.9 0.5 0.5 0.5-0.3 0.5 0.1 0.5-4.2 0.5 4.3 0.5 0.4 0.5-0.9 0.5 5.1 0.5 0 0.5-8.7 0.5 3.9 0.5-3.9 0.5 3.9 0.5 0.2 0.5-0.4 0.5 16.8 0.5 0 0.5-16.6 0.5 4.9 0.5 0 0.5-9 0.5 1 0.5 2.9 0.5 0.1 0.5 1 0.5-4.9 0.5 3.8 0.5-4 0.5 0.9 0.5-0.1 0.5 3.9 0.5-3.8 0.5 4.3 0.5-4.5 0.5 4 0.5-4.2 0.5 3.9 0.5-4.1 0.5 4.9 0.5-0.4 0.5-3.7 0.5-0.9 0.5 4.6 0.5-4.2 0.5-0.2 0.5 4 0.5 0 0.5-3.8 0.5 3.6 0.5-3.7 0.5 3.8 0.5-3.4 0.5-0.7 0.5 0.4 0.5 3.8 0.5-4 0.5-0.3 0.5 0.1 0.5 4.9 0.5-4.2 0.5 3.9 0.5-4.2 0.5 3.7 0.5-3.8 0.5 4.3 0.5-4.1 0.5-0.3 0.5 0.8 0.5 3.2 0.5-4.2 0.5 4.3 0.5 0 0.5-3.3 0.5-0.2 0.5 3.9 0.5-3.6 0.5 3.3 0.5-3.5 0.5 3.3 0.5 9.9 0.5 0 0.5-14 0.5 0.6 0.5 0.4 0.5 3.4 0.5-3.9 0.5 3.9 0.5-4.2 0.5 0 0.5 4.8 0.5-0.5 0.5-3.7 0.5-0.8 0.5 0.1 0.5 4 0.5 0.1 0.5-3.8 0.5 4.6 0.5 0.1 0.5 4.9 0.5 0 0.5 0 0.5-5.3 0.5 0.2 0.5-0.2 0.5-0.1 0.5-0.3 0.5-3.9 0.5 4.3 0.5-4.6 0.5 4.2 0.5-0.1 0.5 0.3 0.5-3.7 0.5 3.8 0.5-3.6 0.5 3.9 0.5-4.6 0.5 3.8 0.5-3.9 0.5 4 0.5-3.3 0.5 3.8 0.5-3.9 0.5 0.2 0.5-0.6 0.5 4.7 0.5-0.7 0.5-0.1 0.5-3.6 0.5 3.6 0.5-4.1 0.5 5 0.5-4.9 0.5 4.4 0.5-4.3 0.5 4.2 0.5-3.8 0.5 3.5 0.5-3 0.5-0.8 0.5 0.6 0.5-0.9 0.5 0.5 0.5 4.2 0.5 0.4 0.5-0.7 0.5-0.4 0.5 0.3 0.5-3.7 0.5 0.4 0.5 47.1 0.5 0 0.5-40.5 0.5 0 0.5-3.3 0.5 0.4 0.5 0.5 0.5-0.9 0.5 0.8 0.5-0.1 0.5-0.2 0.5-0.1 0.5-4.1 0.5 3.6 0.5 0.6 0.5-4.7 0.5 0.3 0.5 4.3 0.5 0 0.5 0.5 0.5 3.6 0.5 0 0.5 0 0.5-3.9 0.5-4.6 0.5 4.5 0.5-3.5 0.5 7.4 0.5-3.8 0.5-0.6 0.5 0.5 0.5-4.6 0.5 1.1 0.5 3 0.5-3.1 0.5 3.8 0.5-4.7 0.5 4.1 0.5 4.6 0.5 0 0.5-8.2 0.5 4.4 0.5-0.8 0.5 0.4 0.5 0.5 0.5-0.6 0.5-4.2 0.5 4.3 0.5-4.5 0.5 4.5 0.5-4.3 0.5 0.9 0.5-0.4 0.5 3.5 0.5-3.5 0.5 0 0.5 0.2 0.5-0.2 0.5-0.3 0.5 0.1 0.5 3.8 0.5 0.6 0.5-4.5 0.5 0.3 0.5 9.1 0.5 0 0.5 0 0.5-5.3 0.5-3.6 0.5-0.8 0.5 0.8 0.5 3.4 0.5 5.2 0.5 0 0.5 0 0.5-4.9 0.5-4.1 0.5 0.7 0.5-1 0.5 4.5 0.5-3.9 0.5 3.9 0.5-3.7 0.5 4.1 0.5-4.3 0.5 0.4 0.5-0.3 0.5-0.1 0.5 6.8 0.5 0 0.5 0 0.5-3.2 0.5 0.7 0.5-4.2 0.5 3.9 0.5 0.2 0.5-0.7 0.5 0.5 0.5-4 0.5 4 0.5-0.5 0.5 0 0.5 31.8 0.5 0 0.5-35.1 0.5 0.3 0.5-0.3 0.5 4.1 0.5-4.6 0.5 4.7 0.5-3.8 0.5 6.2 0.5 0 0.5-2.3 0.5-0.3 0.5-4.5 0.5 0.2 0.5 7 0.5 0 0.5-2.7 0.5 0.1 0.5-0.4 0.5-4.3 0.5 7.2 0.5-6.5 0.5 3.9 0.5-0.5 0.5 0.8 0.5-4.5 0.5 0.5 0.5-0.7 0.5 4.4 0.5 0.5 0.5-0.1 0.5-4 0.5 3.3 0.5-4.1 0.5 3.9 0.5-3.1 0.5 6.4 0.5 0 0.5 0 0.5-2.9 0.5-0.4 0.5 5.3 0.5 0 0.5-4.6 0.5 0 0.5 4.4 0.5 0 0.5 0 0.5-0.7 0.5-8 0.5 3.9 0.5-4.1 0.5 4.3 0.5-3.9 0.5 3.6 0.5-3.3 0.5-0.3 0.5-0.3 0.5 4.3 0.5-4.1 0.5 7.8 0.5 0 0.5 0 0.5-7.7 0.5-0.5 0.5 1.1 0.5 3.4 0.5-4.1 0.5 4.2 0.5-0.5 0.5 0.5 0.5-3.5 0.5 3 0.5 6.1 0.5 0 0.5-9.6 0.5 4.6 0.5 3.7 0.5 0 0.5 0 0.5-3.9 0.5-4.4 0.5 4.4 0.5-4.8 0.5 8.3 0.5 0 0.5 0 0.5-7.4 0.5 3.9 0.5-3.8 0.5 3.3 0.5-3.4 0.5 3.8 0.5-4 0.5 3.9 0.5-3.8 0.5 3.6 0.5-4.4 0.5 4.7 0.5-4.2 0.5 4.3 0.5-4.9 0.5 0.8 0.5 0.3 0.5 3.3 0.5-3.4 0.5 3.6 0.5-4.2 0.5 4.6 0.5-0.8 0.5-3.1 0.5-0.3 0.5-0.5 0.5 0.4 0.5 4.1 0.5 5.3 0.5 0 0.5-9.5 0.5 4 0.5-4 0.5 4.5 0.5-4.2 0.5 3.8 0.5 6.4 0.5 0 0.5-9.8 0.5 3 0.5-3.1 0.5 4.1 0.5-4.8 0.5 0.2 0.5-0.3 0.5 0.8 0.5-0.2 0.5-0.3 0.5-0.3 0.5 4.5 0.5-0.5 0.5-0.1 0.5-2.9 0.5 3.8 0.5-4.8 0.5 4 0.5-3.9 0.5 3.8 0.5 1 0.5-4.7 0.5 0.3 0.5 0 0.5 0.3 0.5 4.2 0.5-4.3 0.5 3.5 0.5 0.6 0.5-0.2 0.5-4.1 0.5 4.1 0.5-3.6 0.5 3.1 0.5 1 0.5-4.8 0.5 4.4 0.5 3.4 0.5 0 0.5 0 0.5-7.7 0.5 0.7 0.5 0 0.5 3.3 0.5 2.8 0.5 0 0.5 0.3 0.5-3.1 0.5-4.4 0.5 4.4 0.5-3.8 0.5 0 0.5 3.5 0.5 0.1 0.5-3 0.5 3.8 0.5-4.2 0.5-0.4 0.5 4.2 0.5 0.1 0.5-4.5 0.5 0.6 0.5 0.3 0.5-0.6 0.5 0.7 0.5 3.5 0.5-3.9 0.5 3.8 0.5 0.4 0.5 0.1 0.5-5 0.5 5 0.5-4.8 0.5 4.9 0.5-0.6 0.5-0.1 0.5-3.3 0.5 3.5 0.5-3.5 0.5 3.2 0.5-3.6 0.5 3.8 0.5 4.1 0.5 0 0.5 0 0.5-4.5 0.5-3.7 0.5 4.6 0.5-0.9 0.5-3.3 0.5-0.3 0.5 0.5 0.5-0.7 0.5 4.9 0.5-4.9 0.5 4.5 0.5-4.5 0.5 4.9 0.5-5.1 0.5 4.4 0.5-4 0.5 3.7 0.5-4 0.5 4 0.5-3.3 0.5 3.9 0.5-3.8 0.5 22.2 0.5 0 0.5-22.7 0.5 0.1 0.5-0.3 0.5 4.5 0.5 0.2 0.5-3.8 0.5 5.8 0.5 0 0.5 0 0.5-6.7 0.5 4.7 0.5-0.8 0.5 3.5 0.5 0 0.5 0 0.5-7.6 0.5 4.7 0.5-4.1 0.5 4.4 0.5-4.3 0.5 3.5 0.5 1 0.5-1 0.5-4.1 0.5-0.1 0.5 0.6 0.5 3.6 0.5-3.6 0.5 4.1 0.5-4.4 0.5 4.9 0.5-4.3 0.5 3.2 0.5 3 0.5 0 0.5 0 0.5 1.3 0.5 0 0.5-7.7 0.5 3.6 0.5 0.5 0.5-4.1 0.5 4.2 0.5-3.9 0.5-0.3 0.5-0.6 0.5 0.4 0.5-0.4 0.5 4.9 0.5-3.9 0.5-0.6 0.5 0.5 0.5 0.1 0.5 3.7 0.5-3.6 0.5 3 0.5-3.4 0.5 6.4 0.5-2.3 0.5-4 0.5 3.5 0.5 0.4 0.5-4.2 0.5-0.3 0.5 4.8 0.5-4.9 0.5 74.5 0.5 0 0.5-69.7 0.5-0.4 0.5-3.4 0.5 3.6 0.5-0.3 0.5-3.5 0.5 3.9 0.5-4.5 0.5 4 0.5-3.9 0.5 3.9 0.5-4.2 0.5 0.6 0.5-0.1 0.5 3.6 0.5 11.7 0.5 0 0.5-6.4 0.5 0 0.5-8.9 0.5 3.9 0.5-4.4 0.5 4.7 0.5-4.3 0.5 3.7 0.5 0 0.5 0.6 0.5-4.7 0.5 4.1 0.5-3.5 0.5 3.8 0.5-3.3 0.5 3.6 0.5-4.1 0.5 0 0.5 4.4 0.5-0.3 0.5-3.9 0.5 4.3 0.5-5.1 0.5 4.8 0.5-0.7 0.5-3.7 0.5 0.7 0.5 3.2 0.5-3.7 0.5 0 0.5-0.4 0.5 0.3 0.5-0.1 0.5 0.2 0.5 4.3 0.5-0.7 0.5 0.9 0.5-0.1 0.5-4.9 0.5 5 0.5-4.9 0.5 4.2 0.5-4.3 0.5 4.9 0.5-4.4 0.5 3.5 0.5 3.1 0.5 0 0.5 0 0.5 2 0.5-9 0.5 4.2 0.5-0.1 0.5 0.7 0.5-4.5 0.5 0 0.5 0 0.5-0.3 0.5 0.1 0.5 4.1 0.5 5.8 0.5-10.2 0.5 0.2 0.5 4.5 0.5-3.9 0.5 4.3 0.5-4.2 0.5-0.2 0.5-0.2 0.5 4.5 0.5-4.6 0.5 4.5 0.5-3.9 0.5 3.5 0.5-4.2 0.5 4.5 0.5-4.6 0.5 4 0.5-4.1 0.5 0.6 0.5 0.2 0.5 10.4 0.5 0 0.5-6 0.5-5 0.5-0.2 0.5 0.1 0.5 4.4 0.5-0.3 0.5 0.4 0.5-3.7 0.5 3.3 0.5-3.7 0.5 8.4 0.5-8.9 0.5 5 0.5-3.9 0.5 3.1 0.5-3.7 0.5 4.4 0.5-4.9 0.5 4.7 0.5-4.1 0.5 3.4 0.5 7.2 0.5 0 0.5-10.1 0.5 3.6 0.5 0.5 0.5 0 0.5-4 0.5 3.2 0.5-0.1 0.5-4.3 0.5 5 0.5-0.6 0.5 0.1 0.5 0.4 0.5-3.7 0.5-0.2 0.5-0.7 0.5 0.5 0.5 0.1 0.5 4.2 0.5-0.2 0.5 0.2 0.5-4.8 0.5 4.4 0.5-3.7 0.5-0.6 0.5 0.2 0.5-0.2 0.5 0 0.5 4.6 0.5-3.8 0.5 3.1 0.5 3.9 0.5-7.8 0.5 6.6 0.5 0 0.5-6.4 0.5 3.5 0.5 0.2 0.5-0.1 0.5-3.2 0.5 3.4 0.5-3.2 0.5 3.7 0.5-4.3 0.5 4.3 0.5-4.8 0.5 0.8 0.5 7.2 0.5-3.6 0.5 0.6 0.5-0.2 0.5-4.5 0.5 4 0.5-3.3 0.5 3.6 0.5-4.5 0.5 7.3 0.5-7.1 0.5 0.1 0.5 4.1 0.5 0.4 0.5 0.2 0.5-4.2 0.5 0 0.5 3.6 0.5-3.5 0.5 3.5 0.5 0.4 0.5-4.7 0.5 0.2 0.5 0.2 0.5-0.5 0.5 0.9 0.5-0.6 0.5 0.4 0.5-0.7 0.5 4.2 0.5 0.1 0.5-0.2 0.5-3.5 0.5 4.2 0.5-4 0.5 4.2 0.5-4.8 0.5 4.1 0.5-3.9 0.5 20.6 0.5 0 0.5-20.6 0.5 4.3 0.5 0.3 0.5-4.2 0.5 3.4 0.5 0.4 0.5 0.4 0.5-4 0.5 3.3 0.5-0.2 0.5 1.1 0.5-4.9 0.5 0.7 0.5-0.8 0.5 4.3 0.5-3.4 0.5 0 0.5-0.2 0.5 0.2 0.5-0.1 0.5 7.1 0.5 0 0.5 0 0.5-7.4 0.5-0.5 0.5 4.8 0.5-4.4 0.5 8.1 0.5 0 0.5 0 0.5-7.5 0.5-0.9 0.5 4.5 0.5 0.1 0.5-0.5 0.5-4.3 0.5 5 0.5-1 0.5 1.1 0.5-0.2 0.5 0.1 0.5-4.5 0.5-0.3 0.5-0.2 0.5 5 0.5-0.7 0.5-3.4 0.5-0.5 0.5 4.1 0.5 0.5 0.5-0.5 0.5-3.6 0.5 3.5 0.5-4.4 0.5 4.8 0.5-0.6 0.5 0 0.5-3.5 0.5 4.4 0.5-4.6 0.5 3.8 0.5-3.4 0.5 3.4 0.5 0.3 0.5-3.7 0.5 0.1 0.5 4 0.5-0.2 0.5-0.1 0.5-3.8 0.5-0.2 0.5-0.6 0.5 4.2 0.5 10.6 0.5 0 0.5-10.4 0.5-3.4 0.5-0.8 0.5 4.9 0.5-4.1 0.5 3.4 0.5-4.4 0.5 4.1 0.5 0.8 0.5-0.8 0.5 10.7 0.5 0 0.5-9.9 0.5 0 0.5-4.2 0.5 3.9 0.5-3.7 0.5 4.2 0.5-0.3 0.5-0.4 0.5-3.9 0.5 4.1 0.5-3.9 0.5 0 0.5-0.7 0.5 0.9 0.5-0.9 0.5 4.6 0.5-4 0.5 0 0.5 0.5 0.5-0.4 0.5-0.1 0.5 0.5 0.5 0 0.5 0 0.5 3.6 0.5-0.7 0.5-4 0.5 0.4 0.5-0.1 0.5 3.7 0.5 16.8 0.5 0 0.5-15.7 0.5-4.4 0.5 3.5 0.5 0.3 0.5-3.7 0.5 3.4 0.5-4 0.5 4.1 0.5-4.2 0.5 0.2 0.5 4.7 0.5-0.1 0.5-4.8 0.5 5.1 0.5-4 0.5 3.1 0.5-4.2 0.5 7.2 0.5 0 0.5-6.7 0.5 0.2 0.5 4.2 0.5-4.1 0.5-0.2 0.5-0.5 0.5 4.3 0.5-4.1 0.5 6.9 0.5 0 0.5 0 0.5-6.3 0.5 7.7 0.5 0 0.5 0 0.5-8 0.5 4.1 0.5-4.6 0.5 18.1 0.5 0 0.5-13.6 0.5-4 0.5 0 0.5 4.4 0.5-0.5 0.5 0.4 0.5 0.1 0.5-4.4 0.5 3.8 0.5-0.3 0.5 0.7 0.5-4.6 0.5 4.5 0.5-3.9 0.5 4 0.5-3.9 0.5 4 0.5-4.9 0.5 4.4 0.5-4 0.5 4.1 0.5-3.7 0.5 4.3 0.5-4.3 0.5 4.1 0.5-4.6 0.5 0.7 0.5-0.8 0.5 4.3 0.5 0 0.5 0 0.5 0 0.5 0 0.5 3 0.5-3.1 0.5-3.4 0.5-0.7 0.5 4.2 0.5 0.2 0.5-3.7 0.5 3.8 0.5-4.3 0.5 4.3 0.5-4.7 0.5 4 0.5-3.5 0.5 0.5 0.5-0.3 0.5 4 0.5-4.6 0.5 4.2 0.5 96.8 0.5 0 0.5-101.1 0.5 4.5 0.5-4.1 0.5 4.1 0.5-3.5 0.5-0.2 0.5-0.7 0.5 0.8 0.5-0.3 0.5 8.3 0.5-8.3 0.5 4.1 0.5-4.2 0.5 0.5 0.5 3 0.5 0.6 0.5 0.1 0.5 0 0.5-4.7 0.5 4.2 0.5-0.1 0.5-3.9 0.5-0.1 0.5-0.1 0.5 0.1 0.5 0.6 0.5-0.2 0.5 4.3 0.5 2.9 0.5-7 0.5 4.3 0.5-0.1 0.5 3 0.5-2.8 0.5-0.6 0.5 0.4 0.5-4.9 0.5 4.8 0.5-3.9 0.5 3.8 0.5-0.2 0.5-3.5 0.5 3.2 0.5 0.7 0.5-4.2 0.5 6.8 0.5 2.1 0.5 0 0.5-9.1 0.5-0.2 0.5 0.5 0.5-0.3 0.5 0.1 0.5 3.6 0.5 0.9 0.5-0.3 0.5-4.2 0.5 0 0.5 0 0.5 0.1 0.5-0.1 0.5 4.4 0.5-4.2 0.5-0.5 0.5 0.9 0.5 3.3 0.5 6.1 0.5 0 0.5-9.5 0.5 3.4 0.5-3.8 0.5 4.3 0.5-3.9 0.5 3.2 0.5-3.4 0.5-0.1 0.5 9 0.5-9 0.5 4.1 0.5-0.5 0.5-3.6 0.5 4.2 0.5-4.3 0.5 4 0.5-0.1 0.5-3.5 0.5-0.4 0.5 3.5 0.5-3.1 0.5 3.9 0.5-4.6 0.5 8 0.5-3.4 0.5-4.2 0.5 29.1 0.5 0 0.5-28.9 0.5 4.2 0.5-4.4 0.5 4 0.5-0.1 0.5-0.4 0.5 4.3 0.5 0 0.5 0 0.5-0.5 0.5 0.5 0.5-3.7 0.5-4.2 0.5 3.6 0.5-3.3 0.5 3.5 0.5-4.3 0.5 31.9 0.5 0 0.5-27.4 0.5-3.8 0.5-0.4 0.5 4.2 0.5 0.1 0.5-4.3 0.5 0.1 0.5 0.5 0.5-0.8 0.5 0.8 0.5 3.7 0.5-4.6 0.5 5.1 0.5-4.4 0.5 3.9 0.5-4.2 0.5 3.9 0.5-3.7 0.5 4.1 0.5-3.8 0.5 4 0.5-4.9 0.5 4 0.5-4 0.5 4.6 0.5-4.4 0.5 4.4 0.5 4.8 0.5 0 0.5-5.1 0.5-0.2 0.5-3.6 0.5-0.1 0.5 0.3 0.5 4.4 0.5 0.1 0.5-0.9 0.5-3.5 0.5 3.5 0.5 0 0.5-3.9 0.5-0.1 0.5-0.3 0.5 0.6 0.5 23.5 0.5 0 0.5-23 0.5 3.6 0.5-3.9 0.5-0.5 0.5 0.5 0.5 0.2 0.5 4.2 0.5-5.1 0.5 5 0.5-0.9 0.5 0.2 0.5-3.6 0.5 3.7 0.5-3.9 0.5 4.4 0.5 0.2 0.5-0.2 0.5-4.7 0.5 4.3 0.5-3.7 0.5 4.3 0.5-0.7 0.5 0.7 0.5-4.9 0.5 4.2 0.5-3.5 0.5-0.6 0.5 0 0.5 4.4 0.5-4.2 0.5 3.8 0.5-4.2 0.5 0.4 0.5-0.4 0.5 4.8 0.5-4.6 0.5 3.9 0.5-3.2 0.5-0.3 0.5-0.7 0.5 1 0.5 7.6 0.5 0 0.5 0 0.5-3.9 0.5-0.6 0.5 0.8 0.5-4.4 0.5 4.2 0.5 0.3 0.5-0.6 0.5-4.4 0.5 0.6 0.5-0.2 0.5 4.5 0.5-0.4 0.5 0.5 0.5-3.9 0.5 3.5 0.5-4.1 0.5 3.6 0.5 0.6 0.5-4.7 0.5 8.8 0.5-4.4 0.5 0.3 0.5 0.2 0.5-4.6 0.5 4.6 0.5-4.7 0.5 4.3 0.5 0.4 0.5-0.3 0.5-0.1 0.5 0.1 0.5-4.6 0.5 0.3 0.5 0.3 0.5 4.6 0.5-0.4 0.5-0.1 0.5 0.1 0.5-4.1 0.5 0.4 0.5 3.5 0.5-0.3 0.5 0.9 0.5-4.9 0.5 0.8 0.5-0.1 0.5 3.1 0.5-3.8 0.5 4.6 0.5 12.9 0.5 0 0.5-13.4 0.5 0.4 0.5-3.7 0.5 0.1 0.5 8.1 0.5-4.1 0.5-1 0.5 0.7 0.5 0.3 0.5-0.1 0.5-4.6 0.5 4.1 0.5 0.3 0.5-4.7 0.5 0.6 0.5 8.8 0.5-4.9 0.5-0.6 0.5-3.9 0.5 8 0.5-8 0.5 4.1 0.5-3.3 0.5 3.7 0.5-3.8 0.5 3.4 0.5-3.1 0.5-0.2 0.5 0 0.5 3.7 0.5-4.5 0.5 4 0.5 0 0.5 1.1 0.5-4.1 0.5-0.2 0.5-0.6 0.5 4.4 0.5-4 0.5-0.7 0.5 1 0.5 8 0.5-1.6 0.5-2.3 0.5-4 0.5-0.6 0.5 0.4 0.5-0.2 0.5 7.9 0.5 0 0.5-3.4 0.5-0.8 0.5 0.2 0.5 0.2 0.5-4.7 0.5 0.1 0.5 0.3 0.5-0.4 0.5 0.8 0.5 4.1 0.5-3.9 0.5 3.8 0.5-4.6 0.5 4.6 0.5-4.5 0.5-0.4 0.5 4.3 0.5 0.3 0.5-3.8 0.5 3.8 0.5 3.7 0.5 0 0.5-7.6 0.5 0.4 0.5 7.2 0.5 0 0.5 0 0.5-3.3 0.5-4.2 0.5 4 0.5-0.4 0.5 0.6 0.5-0.8 0.5-3.5 0.5-0.5 0.5 16.3 0.5 0 0.5-11.8 0.5-3.6 0.5 3 0.5 3.9 0.5 0 0.5-3.2 0.5-3.8 0.5-0.9 0.5 4.7 0.5-3.9 0.5 3.9 0.5-4 0.5 3.5 0.5-3.2 0.5 3.4 0.5-4.4 0.5 4.6 0.5-3.9 0.5 3.8 0.5-3.4 0.5 3.9 0.5-0.2 0.5-4.1 0.5 3.8 0.5 0.5 0.5-0.3 0.5-0.3 0.5-3.4 0.5 4.2 0.5-4.7 0.5-0.1 0.5 0.3 0.5 3.8 0.5-3.6 0.5 3.7 0.5-4.4 0.5 3.9 0.5-3.6 0.5 9.2 0.5-8.7 0.5 3.1 0.5-3.6 0.5 0.2 0.5-0.4 0.5 4.4 0.5-4 0.5 4.1 0.5-4.4 0.5 4 0.5-0.1 0.5 0.8 0.5-0.4 0.5-0.3 0.5-4.2 0.5 4.3 0.5-0.2 0.5 4.2 0.5-7.6 0.5 4 0.5-4 0.5 4.2 0.5-4 0.5 3.5 0.5-4.2 0.5 4.8 0.5-5 0.5 4.3 0.5-3.7 0.5 0.4 0.5 3.1 0.5-0.1 0.5 0.7 0.5-3.7 0.5 2.9 0.5 0.9 0.5-3.8 0.5 3.6 0.5-3.6 0.5 3.4 0.5-4.5 0.5 4.3 0.5-4.3 0.5 4.7 0.5-4.5 0.5 0.6 0.5 3.8 0.5-3.9 0.5 3.5 0.5 0.9 0.5-5.1 0.5 4.4 0.5-0.1 0.5-4 0.5 3.8 0.5 0.1 0.5-3.1 0.5 3.6 0.5-4.7 0.5 4.6 0.5-3.5 0.5 3.5 0.5-4.4 0.5 0.8 0.5-0.3 0.5 13.1 0.5 0 0.5-8.6 0.5-4.9 0.5 4.4 0.5-3.6 0.5 3.3 0.5-3.7 0.5 3.9 0.5-4 0.5 4 0.5-4.3 0.5 0.3 0.5 0.1 0.5 3.5 0.5 0.9 0.5 4.9 0.5 0 0.5-9.1 0.5 3.9 0.5 0 0.5-3.6 0.5 3.9 0.5-4.3 0.5 4.3 0.5-4.9 0.5-0.1 0.5 4.2 0.5-3.8 0.5 3.8 0.5 0.6 0.5-4.7 0.5 4.4 0.5-3.7 0.5 3.2 0.5-4 0.5 1.1 0.5-0.8 0.5-0.2 0.5 0.6 0.5 3.5 0.5-3.5 0.5-0.4 0.5-0.3 0.5 4.3 0.5-3.7 0.5 3.9 0.5-3.6 0.5 3.2 0.5 0.7 0.5-4.1 0.5 0.4 0.5 3.3 0.5-3.5 0.5-0.1 0.5 3.4 0.5 0.5 0.5-4 0.5 3.7 0.5-4.1 0.5 4.2 0.5-4.1 0.5-0.2 0.5 0.9 0.5-0.9 0.5 0.1 0.5 4.7 0.5-0.4 0.5 0.2 0.5-3.9 0.5-0.1 0.5 3.3 0.5-0.1 0.5-3.1 0.5 3.4 0.5-3.4 0.5 3.1 0.5-2.9 0.5 4.1 0.5-0.3 0.5-0.5 0.5-3.4 0.5 3.3 0.5-3.5 0.5 0.4 0.5-0.8 0.5 37.1 0.5 0 0.5-29.7 0.5 0 0.5-3.1 0.5-4.4 0.5 0.3 0.5 0.3 0.5-0.9 0.5 0.5 0.5 0.6 0.5-0.1 0.5 3.5 0.5-4.2 0.5 4.8 0.5-5.1 0.5 4.8 0.5-4.6 0.5 4.6 0.5 0.3 0.5 0.1 0.5-4.6 0.5 3.8 0.5 0.2 0.5 0 0.5 10.3 0.5 0 0.5-14.7 0.5 4.1 0.5-3.5 0.5 3.8 0.5-0.5 0.5 0 0.5-3.6 0.5 3.9 0.5-4.1 0.5 4.6 0.5 5.2 0.5 0 0.5-9.4 0.5 4.3 0.5-4.2 0.5 4.3 0.5-4.7 0.5 4.2 0.5-3.8 0.5 4 0.5 0.3 0.5-0.9 0.5-4 0.5 0.1 0.5 0.7 0.5 0.2 0.5-0.6 0.5 0.6 0.5-1.1 0.5 4.5 0.5-3.8 0.5 3.3 0.5 0.6 0.5 0.2 0.5-4.3 0.5-0.5 0.5 4.9 0.5-4.6 0.5 0.3 0.5 7.4 0.5 0 0.5-2.8 0.5-5 0.5 4 0.5-3.2 0.5-0.7 0.5 0.5 0.5 3.7 0.5-3.5 0.5 3.1 0.5-3.2 0.5-0.6 0.5 0.2 0.5 4.1 0.5 0.3 0.5-0.1 0.5-0.5 0.5 2.6 0.5 1.9 0.5 0 0.5-2 0.5-2.5 0.5-3.9 0.5 3.7 0.5 0.7 0.5-0.3 0.5-0.1 0.5-4.2 0.5 4.7 0.5-0.1 0.5 0.4 0.5-4.9 0.5 0.9 0.5-0.6 0.5 4.1 0.5-4.1 0.5 4.4 0.5-0.6 0.5-4 0.5 4.8 0.5-4.1 0.5 3.8 0.5-4.5 0.5 0.3 0.5 4.4 0.5-4 0.5 3.3 0.5 0.6 0.5-4.8 0.5 4.8 0.5-4.2 0.5-0.1 0.5 0.2 0.5-0.6 0.5-0.2 0.5 4.7 0.5-0.5 0.5 0.5 0.5-4.6 0.5 0 0.5 0.5 0.5 8.4 0.5 0 0.5 0 0.5-8.7 0.5 0.2 0.5 4.1 0.5-3.9 0.5 8.3 0.5 0 0.5-4.2 0.5-0.2 0.5 0.1 0.5-0.4 0.5-4 0.5 4.2 0.5-3.5 0.5 3.5 0.5 4.8 0.5 0 0.5 0 0.5-5.2 0.5 5.6 0.5 0 0.5-9.3 0.5 3.7 0.5 0 0.5 0.3 0.5-3.6 0.5 3.4 0.5-3.9 0.5 4.7 0.5-4.3 0.5 4 0.5-3.8 0.5-0.7 0.5 0.9 0.5 3.3 0.5-3.9 0.5 3.6 0.5-3.6 0.5 4.3 0.5-4.1 0.5 4.4 0.5-4.3 0.5 3.7 0.5 0.5 0.5 0 0.5-4.9 0.5 4 0.5 5.6 0.5 0 0.5-5.1 0.5-4.2 0.5-0.1 0.5 4 0.5-3.7 0.5 6.5 0.5 0 0.5 0 0.5-7.1 0.5 4.8 0.5-4.4 0.5 3.8 0.5-3.7 0.5 4 0.5-4 0.5 137.9 0.5 0 0.5-133.5 0.5-4.2 0.5 4.1 0.5 4.9 0.5-2.4 0.5 0 0.5 0 0.5-6.1 0.5 3 0.5 0.9 0.5-4 0.5 3.6 0.5-0.1 0.5 4.1 0.5 0 0.5-7.8 0.5-0.5 0.5 3.9 0.5 0.3 0.5-4.2 0.5 4 0.5-3.3 0.5 3 0.5-4 0.5 4 0.5-3.1 0.5 4 0.5-3.9 0.5 0.1 0.5-0.8 0.5-0.3 0.5 0 0.5 4.8 0.5-0.1 0.5-4.2 0.5-0.2 0.5 4.1 0.5-4 0.5 0" fill="none" stroke="#009600" stroke-width="3" stroke-linejoin="round"/>
<path d="M792 94.5l0.5 6.7 0.5-0.2 0.5 16.7 0.5 0 0.5-16.5 0.5-5.6 0.5 5.5 0.5-6.8 0.5 6.2 0.5-5.4 0.5 0.1 0.5 5 0.5 0.3 0.5 0.1 0.5 0.1 0.5-6.7 0.5 133 0.5 0 0.5-125.5 0.5-6.1 0.5 0.1 0.5-0.8 0.5 1 0.5 0 0.5 5.1 0.5-5.8 0.5 6.5 0.5-6.8 0.5 0.2 0.5 5.9 0.5-0.4 0.5 16.6 0.5 0 0.5-22.3 0.5 5.6 0.5-5.1 0.5 0.7 0.5-1.4 0.5 1.1 0.5 4.9 0.5-6.1 0.5 6.5 0.5 0.6 0.5-6.7 0.5 6.5 0.5-5.5 0.5 5.2 0.5 0 0.5 0.6 0.5-6.2 0.5 5.7 0.5-5.2 0.5-0.5 0.5 0.1 0.5 4.9 0.5-5.7 0.5 6.1 0.5-6.4 0.5 0.7 0.5 0 0.5 6.2 0.5 0.1 0.5-0.9 0.5-5.1 0.5 5.3 0.5-5.3 0.5 0.6 0.5 5.9 0.5-1.2 0.5 43.3 0.5 0 0.5-49.3 0.5 6.7 0.5-5.4 0.5 5.8 0.5-7.2 0.5 7.3 0.5-0.6 0.5-0.7 0.5-4.7 0.5 6.1 0.5-6.7 0.5 5.4 0.5-5.9 0.5 0.4 0.5 0.1 0.5 5.8 0.5-5.5 0.5 5.3 0.5-4.6 0.5 5.7 0.5-6.4 0.5 175.8 0.5 0 0.5-176.3 0.5 1.3 0.5 4.8 0.5 223 0.5 0 0.5-229.4 0.5 6.9 0.5-0.4 0.5-5.7 0.5-0.6 0.5 0.9 0.5 5.7 0.5 0.2 0.5-5.9 0.5 5.6 0.5 0.5 0.5 0.2 0.5-1.3 0.5 1.4 0.5-1.6 0.5 3.9 0.5 0 0.5-3.6 0.5-5.1 0.5 6.2 0.5-5.5 0.5-1 0.5-0.3 0.5 112.1 0.5 0 0.5-111.1 0.5 0 0.5-0.2 0.5 5 0.5-5 0.5-1 0.5 0.6 0.5 5.7 0.5-0.1 0.5-6.2 0.5 0.9 0.5-0.9 0.5 6.7 0.5-5.9 0.5 6.5 0.5-6.9 0.5 6.4 0.5-5.8 0.5 6.3 0.5-6.3 0.5 6.4 0.5-1.4 0.5-5 0.5 5.8 0.5 0.7 0.5 2.4 0.5 0 0.5-9.2 0.5-0.1 0.5 0.2 0.5 6.8 0.5-6.3 0.5-0.1 0.5 0.3 0.5 4.6 0.5 0.3 0.5-6.1 0.5 0.2 0.5 5.7 0.5-5.3 0.5 6 0.5 8.8 0.5 0 0.5-14.3 0.5 6.3 0.5-6.5 0.5 6 0.5 0 0.5-0.8 0.5-0.2 0.5 0.6 0.5-6.1 0.5 6.8 0.5-6.7 0.5 1.1 0.5 234.4 0.5 0 0.5-235.7 0.5 6.5 0.5-6.6 0.5 5.8 0.5-4.2 0.5 4.2 0.5-4.6 0.5 5 0.5-4.9 0.5 5.4 0.5-5.1 0.5 20.5 0.5 0 0.5-15.1 0.5-1.1 0.5 0.5 0.5-6.3 0.5 0.7 0.5-0.4 0.5 0.2 0.5 0.1 0.5 5.5 0.5-5.4 0.5 214.1 0.5 0 0.5-207.3 0.5-0.2 0.5-1.4 0.5-4.7 0.5 5.2 0.5-0.3 0.5 0.8 0.5-6.5 0.5 15.9 0.5 0 0.5-9 0.5-1.2 0.5-5.6 0.5-0.2 0.5 1.2 0.5-0.6 0.5 66.8 0.5 90.9 0.5 72.7 0.5 40 0.5-31.7 0.5 38 0.5-45.5 0.5 44.9 0.5-41.2 0.5 35.1 0.5-33.3 0.5 34.4 0.5 42.3 0.5 12 0.5 1.7 0.5-1 0.5-26.6 0.5 26.9 0.5-15.3 0.5 0.4 0.5-13.9 0.5 27.1 0.5-23.9 0.5 24.3 0.5-25 0.5 27.5 0.5-28.9 0.5 26.9 0.5-25.8 0.5 26.3 0.5-25.7 0.5 26.8 0.5-1.8 0.5-0.4 0.5-14.6 0.5 1.4 0.5-0.7 0.5 13.2 0.5-21.1 0.5 22 0.5-22.3 0.5 21.9 0.5-20.7 0.5 22.9 0.5 0 0.5-1.3 0.5-14.9 0.5 14.9 0.5-13.5 0.5-0.6 0.5 13.2 0.5-12.4 0.5-10.5 0.5 8.9 0.5-8.2 0.5 24 0.5 0.3 0.5-1.3 0.5-12.3 0.5 13.1 0.5-13.8 0.5 13.7 0.5-14.1 0.5-1 0.5 1.4 0.5-0.8 0.5-10.2 0.5 24.7 0.5-25 0.5 26.1 0.5-24.3 0.5 22 0.5-24 0.5 12.1 0.5-1.2 0.5 14.8 0.5-15.8 0.5 13.7 0.5-11.7 0.5 12.2 0.5-14.4 0.5 1 0.5-1.6 0.5 1 0.5 15 0.5 0.5 0.5-15.9 0.5 14.4 0.5-21.1 0.5 21.5 0.5-20.4 0.5 19.3 0.5-20.6 0.5 27.5 0.5-18.4 0.5 0 0.5-0.1 0.5 12.1 0.5-14.9 0.5 3.3 0.5-0.6 0.5 0.1 0.5 12.8 0.5-1.6 0.5-25.6 0.5 26.1 0.5-25.3 0.5 27.5 0.5-14 0.5-1.5 0.5 20.6 0.5-6.4 0.5-14.9 0.5 2.3 0.5-2.7 0.5 17 0.5-16.1 0.5 13.1 0.5 2.1 0.5-15 0.5-9 0.5 22.5 0.5-21.6 0.5 23.9 0.5-24.3 0.5 9.5 0.5 1 0.5 13.6 0.5-16.7 0.5 17.3 0.5-16.2 0.5 15.1 0.5 3.6 0.5-4 0.5-21.2 0.5 21.3 0.5-21.4 0.5 21.1 0.5-12.4 0.5-2.5 0.5-9.3 0.5 23.9 0.5-24.4 0.5 9.7 0.5-10 0.5 23.5 0.5-11.3 0.5 11.6 0.5 0.5 0.5 0.5 0.5-15.4 0.5 14.8 0.5-14.7 0.5 20.7 0.5-20.6 0.5 15 0.5-12 0.5 13.4 0.5-27.8 0.5 25.5 0.5-25.6 0.5 27.5 0.5-27.9 0.5 26.4 0.5-14.8 0.5 14.8 0.5-14 0.5 13.5 0.5 2.5 0.5-2.5 0.5-24.5 0.5 24.2 0.5-24.1 0.5 10.4 0.5-11.1 0.5 13.1 0.5-12.7 0.5 26.4 0.5-1 0.5 1.1 0.5-14.4 0.5 15.2 0.5-14.6 0.5 14.2 0.5-22.1 0.5 22.1 0.5-21.7 0.5 25.5 0.5-26.9 0.5 28.9 0.5-28.8 0.5 23.8 0.5-23.2 0.5 8.5 0.5-1.9 0.5 14.2 0.5 5.6 0.5-3.6 0.5-15.2 0.5 13.2 0.5-28.4 0.5 27.6 0.5-28.1 0.5 28.8 0.5-29.2 0.5 28.5 0.5-27.2 0.5 15.6 0.5-1.8 0.5 16.4 0.5-2.3 0.5 1.1 0.5-23.5 0.5 21.7 0.5-21.4 0.5 24.3 0.5-24.3 0.5 24 0.5 4.9 0.5-5.6 0.5-25.5 0.5 26.4 0.5-26.2 0.5 25 0.5-25.4 0.5 10.3 0.5 2.4 0.5 18.2 0.5-20.8 0.5 15.1 0.5-13.8 0.5 15.6 0.5-15.2 0.5 11.9 0.5-12.1 0.5 0.8 0.5-13.9 0.5 27.1 0.5-24.6 0.5 24.6 0.5-27.6 0.5 26.7 0.5-13.8 0.5 15.3 0.5-15.3 0.5 15.5 0.5-15.4 0.5 13.2 0.5-13.3 0.5 14.4 0.5-21.6 0.5 7.1 0.5-6.6 0.5 19.8 0.5-20.8 0.5 22.9 0.5-14.6 0.5 13 0.5 0.4 0.5 0.6 0.5-15 0.5 0.5 0.5 1.6 0.5 13.8 0.5-26.9 0.5 24.4 0.5-11.8 0.5 12 0.5-14.2 0.5 16.8 0.5-3 0.5-11.9 0.5 0.5 0.5 12.9 0.5-15.5 0.5 14.1 0.5 0.3 0.5 1.1 0.5-14.1 0.5 15.1 0.5-26.3 0.5 24.1 0.5-26.2 0.5 29.2 0.5-28.3 0.5 25.2 0.5-24.5 0.5 12.4 0.5-13.2 0.5 25 0.5 3 0.5-14.3 0.5 12.8 0.5 0.8 0.5-14.8 0.5 13 0.5-20.5 0.5 20.9 0.5-23.2 0.5 23 0.5-0.3 0.5 1.2 0.5-0.4 0.5 0.8 0.5-13.7 0.5 11.7 0.5 1.1 0.5 1.5 0.5-1.8 0.5 0.5 0.5-14.7 0.5 14.7 0.5-23.4 0.5 8.2 0.5-7.7 0.5 24.1 0.5-23 0.5 20.9 0.5-12.6 0.5-0.6 0.5-1.2 0.5 14.4 0.5-22.5 0.5 23.7 0.5-25.3 0.5 27 0.5-25.4 0.5 22.5 0.5-14.3 0.5 14.2 0.5-22.9 0.5 23.7 0.5-23.8 0.5 22.7 0.5 3.1 0.5-1 0.5-26.1 0.5 25.9 0.5-25 0.5 25 0.5-26.9 0.5 11.9 0.5-11.7 0.5 25.2 0.5-14 0.5 14.9 0.5-14.8 0.5 16.5 0.5-17.2 0.5 15 0.5-13.1 0.5-1.8 0.5-9.7 0.5 25 0.5-25.2 0.5 25.3 0.5-23.5 0.5 8.8 0.5-10.1 0.5 25 0.5-25.4 0.5 25.3 0.5-1 0.5-0.3 0.5-13.5 0.5 0.7 0.5 15 0.5 0.4 0.5-26.6 0.5 24.6 0.5 0.2 0.5-12.7 0.5-8.4 0.5 21.4 0.5-22.7 0.5 23.6 0.5-22.2 0.5 20.4 0.5-22.1 0.5 8.4 0.5 1.6 0.5 13.9 0.5-13 0.5 12.2 0.5 0.6 0.5-13.5 0.5 18.1 0.5-4.5 0.5-22.9 0.5 21.3 0.5-24.3 0.5 24.1 0.5 3.1 0.5-2.7 0.5-12.3 0.5 0.2 0.5-2.8 0.5 15.2 0.5-13.8 0.5 16.3 0.5-17.5 0.5 14.1 0.5-28.2 0.5 30.2 0.5-30.4 0.5 16.4 0.5 0.1 0.5 11.8 0.5-23.4 0.5 25.3 0.5-22.6 0.5 21.4 0.5 0.4 0.5-0.9 0.5-23 0.5 8.8 0.5-9 0.5 23.7 0.5-24 0.5 23.3 0.5-24.5 0.5 27.9 0.5-24.7 0.5 8.4 0.5 1.9 0.5 12.1 0.5-11.9 0.5 11.5 0.5-11.5 0.5 18.4 0.5-34.5 0.5 15.9 0.5-14.5 0.5 11.6 0.5 15 0.5-13 0.5 0.9 0.5 13.8 0.5-15.9 0.5 0.5 0.5 14.7 0.5-1.8 0.5 8.8 0.5-7.1 0.5-21.7 0.5 22.5 0.5-23.5 0.5 22.5 0.5-22.8 0.5 7.1 0.5-5.8 0.5 8.5 0.5-2 0.5 16 0.5-16.3 0.5 15 0.5-12.8 0.5 11.4 0.5-24.1 0.5 27.4 0.5-15 0.5 14.6 0.5-15.1 0.5 13.1 0.5-29.7 0.5 28.7 0.5-12.3 0.5 12.9 0.5-27.3 0.5 28.4 0.5-29.2 0.5 30.6 0.5-14.9 0.5 0.1 0.5-15.4 0.5 28.8 0.5-29.5 0.5 27.9 0.5-26.9 0.5 28.8 0.5-12.9 0.5 12.6 0.5-14.2 0.5 14 0.5-15.6 0.5 0 0.5-14.7 0.5 17.5 0.5-13.4 0.5 27.6 0.5-0.8 0.5-15.4 0.5 15.3 0.5-1.3 0.5-25.1 0.5 24.4 0.5-23.2 0.5 11.8 0.5-12.5 0.5 27.3 0.5-28.1 0.5 24.8 0.5-25.1 0.5 11.9 0.5 13.2 0.5 0.7 0.5-11.6 0.5 12.6 0.5-13.9 0.5 13.8 0.5-13.5 0.5 14 0.5-13.6 0.5 14.5 0.5-29.3 0.5 27.9 0.5-28.7 0.5 29.9 0.5-30.1 0.5 13.6 0.5 1.8 0.5 14.3 0.5-14.4 0.5 13.9 0.5-16 0.5 14.1 0.5 2.7 0.5-1 0.5-13.9 0.5 13.2 0.5-22.3 0.5 22 0.5-23.2 0.5 11.3 0.5-10.3 0.5 24.7 0.5-17.5 0.5 0.3 0.5 16.7 0.5 6.9 0.5-23.9 0.5 14.8 0.5-14.4 0.5 16.8 0.5-23.9 0.5 22.6 0.5-24.4 0.5 10.1 0.5-8.8 0.5 21.7 0.5-22.2 0.5 24.6 0.5-24.7 0.5 22.4 0.5-23.7 0.5 24.1 0.5-0.4 0.5-11.8 0.5-1.4 0.5 14.2 0.5-13.7 0.5 12.9 0.5-19.2 0.5 19.5 0.5-21.3 0.5 21.9 0.5-21.1 0.5 20.3 0.5-21.1 0.5 21.4 0.5-15 0.5 1.8 0.5-0.4 0.5-1.3 0.5-11.3 0.5 25.4 0.5-24.3 0.5 27.5 0.5-14.3 0.5-1 0.5-2.3 0.5 14.1 0.5-11.3 0.5 12 0.5-11.7 0.5 12.6 0.5-14.4 0.5 19.5 0.5-27.6 0.5 23.7 0.5-22.6 0.5 21.8 0.5-24.2 0.5 9.6 0.5-0.3 0.5 14.4 0.5-15.3 0.5 15.1 0.5 0.5 0.5-12.9 0.5-1.6 0.5-0.7 0.5-11.8 0.5 13.6 0.5-13.9 0.5 28 0.5-27.5 0.5 26.4 0.5-27.6 0.5 14.9 0.5 13.5 0.5 0.3 0.5-0.7 0.5-15.6 0.5-11.7 0.5 27.1 0.5-27.2 0.5 28.8 0.5-29.4 0.5 13 0.5-12 0.5 28.5 0.5-29.2 0.5 15.1 0.5-3.5 0.5 1.4 0.5 1.9 0.5 12.7 0.5-1.6 0.5 1.8 0.5-13.3 0.5-0.6 0.5-9.1 0.5 23.2 0.5-24.8 0.5 8.6 0.5-7 0.5 23.1 0.5-23.4 0.5 22.7 0.5-22.2 0.5 9.7 0.5 17.6 0.5-4.1 0.5-28.9 0.5 29.3 0.5 3.8 0.5-3.4 0.5-27.2 0.5 12.9 0.5-2.2 0.5 14.9 0.5-12.8 0.5 13.1 0.5-20.9 0.5 6.4 0.5-8.8 0.5 7.7 0.5-7.6 0.5 23.4 0.5-16.2 0.5 1.8 0.5-14 0.5 26.7 0.5-25.6 0.5 27.3 0.5-28.7 0.5 29.4 0.5-16.5 0.5 13.9 0.5-13.4 0.5 13.9 0.5 6 0.5-18.5 0.5 21.6 0.5-7.6 0.5-29.9 0.5 17 0.5-15 0.5 13.7 0.5-13.9 0.5 27.9 0.5-14.5 0.5 15.2 0.5-15.7 0.5 1.3 0.5-9.9 0.5 23.3 0.5-24.4 0.5 28.9 0.5-27.4 0.5 9 0.5-8.5 0.5 27.6 0.5-4.8 0.5 1.3 0.5-22.3 0.5 20.4 0.5 6.1 0.5-4.4 0.5-24.6 0.5 23.1 0.5-20.9 0.5 6.8 0.5-7.4 0.5 20.8 0.5-12.1 0.5 14.1 0.5-24.6 0.5 24.6 0.5-24.4 0.5 23.2 0.5-1.5 0.5 2.5 0.5-13.7 0.5-3.2 0.5-13.2 0.5 15.5 0.5-15.6 0.5 13.6 0.5-14.8 0.5 17.5 0.5-17.1 0.5 29.1 0.5-27 0.5 13.1 0.5-14.4 0.5 13.8 0.5 21.2 0.5-5.9 0.5-14.2 0.5 16 0.5-3.2 0.5 1.5 0.5-24.8 0.5 24.4 0.5-24 0.5 24.6 0.5-0.9 0.5 2.2 0.5 3.8 0.5-6.4 0.5-23.4 0.5 9.5 0.5-9 0.5 25.4 0.5-26.3 0.5 26.4 0.5-2.4 0.5-0.9 0.5-12.1 0.5 15.5 0.5-16.8 0.5 13.6 0.5-13.4 0.5-0.8 0.5-10.3 0.5 11 0.5-10.9 0.5 27.2 0.5-15 0.5 12.3 0.5-13.6 0.5 2.1 0.5-0.9 0.5 15.6 0.5 3.4 0.5-5.1 0.5-15.9 0.5 15.1 0.5-23.6 0.5 25.8 0.5-24.4 0.5 22.3 0.5-23.4 0.5 25.5 0.5-23.9 0.5 20.7 0.5-21.8 0.5 23.9 0.5-15.2 0.5 15.7 0.5-24.1 0.5 21.8 0.5-12.8 0.5 12.6 0.5-12.6 0.5 15.1 0.5-0.3 0.5-0.1 0.5-13.1 0.5 11.7 0.5-14.7 0.5 14.3 0.5-28.6 0.5 28.3 0.5-28.6 0.5 29.1 0.5-29.3 0.5 38.9 0.5-38.1 0.5 31.2 0.5-16.7 0.5 14.6 0.5-12.2 0.5 13.5 0.5 0.9 0.5-3.4 0.5-13.5 0.5 2.1 0.5-1 0.5 14.2 0.5-21.3 0.5 5.2 0.5-6 0.5 21.6 0.5 8.6 0.5-8.3 0.5-22.3 0.5 21.9 0.5 0.5 0.5-0.8 0.5-0.1 0.5-0.3 0.5-12.8 0.5 13.3 0.5-14.8 0.5 16.8 0.5-15 0.5 14.1 0.5-26.9 0.5 12.7 0.5-12.6 0.5 26.2 0.5-27.3 0.5 29.2 0.5-3 0.5 3 0.5-16.6 0.5 16 0.5-0.6 0.5-16.1 0.5 2 0.5-1.4 0.5 14.2 0.5-13.5 0.5-0.6 0.5 13.8 0.5-23.3 0.5 25.4 0.5-24.3 0.5 23.9 0.5-24.2 0.5 24.2 0.5-13.4 0.5-2.1 0.5 0.3 0.5 15 0.5-14.5 0.5 13.1 0.5-23.1 0.5 9.9 0.5-9.5 0.5 23.2 0.5-22.1 0.5 22.8 0.5 4.6 0.5-3.3 0.5-17.2 0.5 14.1 0.5-13.7 0.5 14.4 0.5-25.6 0.5 12.6 0.5-13.1 0.5 27 0.5 0.1 0.5 0.6 0.5-15.5 0.5 15.4 0.5-1 0.5-14.5 0.5 1.2 0.5-1 0.5 14.5 0.5 0.4 0.5-12.8 0.5-1.7 0.5-10.8 0.5 24.7 0.5-23.7 0.5 24.6 0.5-22.8 0.5 21.8 0.5 8.8 0.5-23 0.5-7.7 0.5 23.8 0.5-2.8 0.5 0.9 0.5-13.8 0.5 12.9 0.5-12.3 0.5 12.9 0.5 1.5 0.5-16.8 0.5-8.2 0.5 25.3 0.5-24.4 0.5 23.7 0.5-14.4 0.5 13.3 0.5-14.7 0.5 16.4 0.5-24.7 0.5 30.8 0.5-30.8 0.5 25.5 0.5-1.3 0.5-16.1 0.5 17.4 0.5-16.9 0.5 0.4 0.5 13.8 0.5-12.9 0.5-0.9 0.5 16.3 0.5-15.1 0.5-0.4 0.5 1.4 0.5-15.6 0.5 28 0.5-30.4 0.5 29.6 0.5-13.9 0.5 15.5 0.5-14.8 0.5 13.1 0.5-25.8 0.5 27.7 0.5-27.2 0.5 24.9 0.5-25.5 0.5 26 0.5-14.4 0.5 16.5 0.5-17 0.5 0.3 0.5 16.1 0.5-1.7 0.5-14.3 0.5 16.3 0.5-30.7 0.5 30.6 0.5-16.2 0.5 14.7 0.5 1.4 0.5-0.6 0.5-0.6 0.5-0.1 0.5-12.4 0.5-1.2 0.5 0.4 0.5 13.5 0.5 1.5 0.5-0.6 0.5-25.1 0.5 33 0.5-32.6 0.5 24 0.5 5.6 0.5-6 0.5-22.8 0.5 10.3 0.5-11.7 0.5 25.8 0.5-25.6 0.5 8.9 0.5 1.2 0.5 13.6 0.5-13.9 0.5 13.3 0.5-26.9 0.5 27.2 0.5-27.3 0.5 14.3 0.5 21.5 0.5-23.7 0.5 14.5 0.5 3 0.5-29.9 0.5 28.7 0.5-29.3 0.5 27.7 0.5-11.9 0.5 11.5 0.5-12.4 0.5 22 0.5-6.7 0.5-1.4 0.5-16.3 0.5 16.9 0.5-13.9 0.5-1.5 0.5-10.4 0.5 23.3 0.5-23.1 0.5 10.9 0.5-11.3 0.5 23.6 0.5-13.4 0.5 14.7 0.5-12.5 0.5 13.3 0.5-14.2 0.5 14.4 0.5-1 0.5 0.1 0.5-0.3 0.5-14.8 0.5-12.2 0.5 28.2 0.5-26.7 0.5 25.6 0.5-13.4 0.5 11.9 0.5-11.8 0.5 12.3 0.5-15.1 0.5 16.9 0.5 0.3 0.5-0.5 0.5 7.7 0.5-22.4 0.5-0.2 0.5 13.3 0.5-23.5 0.5 8.9 0.5-8.4 0.5 22.9 0.5-13.5 0.5 14.9 0.5-15.5 0.5 15.6 0.5-29.3 0.5 15.3 0.5-16.5 0.5 28.9 0.5-27.9 0.5 30.4 0.5-31.7 0.5 28.2 0.5-27.5 0.5 30.2 0.5 0.4 0.5 5.5 0.5-7.6 0.5 0 0.5-20.6 0.5 5.5 0.5-6.2 0.5 20.7 0.5-19.7 0.5 30.4 0.5-25.3 0.5 16.1 0.5 1.2 0.5-3.3 0.5 10.1 0.5-7.5 0.5-0.5 0.5-2.2 0.5-12.4 0.5 14.5 0.5-15.6 0.5 0.9 0.5 0.9 0.5 14.9 0.5-27.1 0.5 26.1 0.5-24.1 0.5 10.5 0.5-12 0.5 23.2 0.5-24 0.5 12.3 0.5-0.8 0.5 13.4 0.5-13.3 0.5 15 0.5-13.8 0.5 11.2 0.5-14 0.5 15.5 0.5-14.3 0.5 0.6 0.5-1 0.5 1.2 0.5-9.7 0.5 7.5 0.5-9.2 0.5 22.9 0.5-14 0.5 15 0.5-23.4 0.5 25.4 0.5-25.7 0.5 25.6 0.5-24.5 0.5 7.6 0.5-8.3 0.5 23 0.5-21.8 0.5 22 0.5-14.7 0.5 16.5 0.5-24.1 0.5 21.6 0.5-20.2 0.5 21.3 0.5-22.1 0.5 23.8 0.5-24.6 0.5 23.8 0.5-25.2 0.5 23.5 0.5-23.1 0.5 22.1 0.5-13.8 0.5 14.7 0.5-12 0.5-0.9 0.5 13 0.5 1.5 0.5-13.5 0.5 11.6 0.5-14.8 0.5 17.1 0.5-30.1 0.5 14.2 0.5-14.8 0.5 30.6 0.5-30.5 0.5 29.2 0.5-29.3 0.5 28.2 0.5-27.6 0.5 28 0.5-12.2 0.5-1.3 0.5-0.1 0.5 13.4 0.5-13.2 0.5 0.1 0.5-0.2 0.5 14.4 0.5-14.8 0.5 1 0.5 14.3 0.5-1 0.5-14.3 0.5-0.9 0.5 16 0.5 10.2 0.5-26.6 0.5 16.1 0.5-15.8 0.5 2 0.5-2 0.5 14.2 0.5-12.6 0.5 12.1 0.5-12.7 0.5 1.4 0.5-2.3 0.5 15.8 0.5-16.2 0.5 14 0.5-13.5 0.5 16.1 0.5-14 0.5 11.6 0.5-12.4 0.5 13.4 0.5-13.1 0.5 13.4 0.5-14 0.5 14.4 0.5-0.5 0.5-15.1 0.5 1.6 0.5 14.2 0.5-16 0.5 16 0.5-2.3 0.5 3.1 0.5-16.2 0.5 13.8 0.5-13.3 0.5 14.2 0.5 0 0.5-1 0.5-12.6 0.5-0.4 0.5-1.5 0.5 15.2 0.5-12.5 0.5 24.9 0.5-13.2 0.5-11.6 0.5-3.5 0.5 15.4 0.5-13.8 0.5 24.1 0.5-22.3 0.5 14.2 0.5-17.4 0.5 2.7 0.5-0.9 0.5 0.2 0.5 12.7 0.5 1.8 0.5-16 0.5 16.4 0.5-16 0.5 2.4 0.5-0.8 0.5 13.5 0.5 0.7 0.5-1.2 0.5-13.8 0.5-1.4 0.5 3 0.5 11.8 0.5 0.1 0.5 2.5 0.5-2.8 0.5-0.6 0.5-12.5 0.5 14.7 0.5-1.8 0.5 2.4 0.5-2.3 0.5 1.9 0.5-14 0.5 23.1 0.5-23.2 0.5 14.1 0.5-16.4 0.5 14.7 0.5-0.5 0.5 1.7 0.5-0.3 0.5-0.1 0.5 1.1 0.5-15.2 0.5 14.2 0.5 12.5 0.5-12.6 0.5-0.2 0.5-0.9 0.5 0.5 0.5-0.1 0.5-0.1 0.5 1.9 0.5-2.4 0.5-11.9 0.5 24.4 0.5-24.8 0.5 12.8 0.5-13 0.5-0.5 0.5-0.6 0.5-1.1 0.5 0.4 0.5 15.5 0.5-14 0.5 0.1 0.5 0.7 0.5-2.6 0.5 3.2 0.5-0.5 0.5-1.7 0.5 15.3 0.5 11.1 0.5-9.8 0.5-1.9 0.5 0.7 0.5-13.3 0.5 14.3 0.5-14.4 0.5 12.6 0.5-15.4 0.5-0.2 0.5 0.1 0.5 26.6 0.5-24.1 0.5 11.7 0.5-12.5 0.5 12.6 0.5 13.6 0.5-13.8 0.5 1.2 0.5-0.5 0.5-11.6 0.5 12.7 0.5-1.5 0.5 2.9 0.5-16.5 0.5 1.2 0.5 15.1 0.5-0.1 0.5-14.9 0.5 15 0.5-17.2 0.5 16.4 0.5-14.3 0.5 15.3 0.5-17.4 0.5 15.4 0.5-12.3 0.5 14.2 0.5-0.7 0.5-1.6 0.5 1.2 0.5-0.9 0.5-15.2 0.5 15.3 0.5-0.5 0.5-11.7 0.5-1.1 0.5 15.7 0.5-2.8 0.5-13.3 0.5-1.8 0.5 14.3 0.5 1 0.5 1.9 0.5-14.1 0.5 14.5 0.5-17.1 0.5 14.3 0.5-13.5 0.5 15 0.5-15.3 0.5 14.4 0.5-20.4 0.5 32.5 0.5-12.2 0.5-12.5 0.5-2.6 0.5 17.3 0.5-15.3 0.5 14.6 0.5-15.1 0.5 13.6 0.5 0.2 0.5 2.3 0.5-15.6 0.5 14.2 0.5-16.3 0.5 15.2 0.5-14.8 0.5 14.2 0.5-13.9 0.5 16.4 0.5 0.1 0.5 0.5 0.5-16.9 0.5 16.9 0.5-15.3 0.5 13.7 0.5-13.5 0.5 11.9 0.5-12.7 0.5 15 0.5-16.3 0.5 13.7 0.5 3.4 0.5-2.5 0.5-12.8 0.5 14.9 0.5 0.2 0.5-16.7 0.5 24.2 0.5-9.1 0.5 1.4 0.5-1.7 0.5-15.1 0.5 16.6 0.5-15.3 0.5-1.6 0.5 1.9 0.5 14.9 0.5-15.9 0.5 1.1 0.5-0.7 0.5-0.2 0.5 0.2 0.5 13.2 0.5-14.8 0.5 17.8 0.5-14.4 0.5 14.4 0.5-1.5 0.5-1.5 0.5 2.5 0.5-1.4 0.5-14.9 0.5 16.3 0.5 10.4 0.5-13.2 0.5-13.9 0.5 16.3 0.5-16.7 0.5 15.1 0.5-14.6 0.5 16.8 0.5-15.3 0.5 13.6 0.5-13.5 0.5 22.8 0.5-22.4 0.5 12.8 0.5-12.4 0.5 14 0.5-1.2 0.5 0.5 0.5-13.9 0.5 13.2 0.5-14.9 0.5 15.2 0.5-14.6 0.5 14.5 0.5 0.5 0.5 1.2 0.5-15 0.5-1 0.5-0.6 0.5 13.7 0.5 3.1 0.5-16.1 0.5 0.9 0.5 14.5 0.5-16.5 0.5 16 0.5-16.4 0.5 14.5 0.5-13.1 0.5-0.8 0.5 16.9 0.5-1 0.5-15.4 0.5 14.4 0.5-14.3 0.5 14.9 0.5-16.1 0.5 0.3 0.5 16.5 0.5 0.7 0.5-3.1 0.5 2.5 0.5-1.1 0.5 1.1 0.5-14.7 0.5 13.6 0.5-15.5 0.5 14 0.5-12 0.5-0.8 0.5-1.3 0.5 14.9 0.5-14.8 0.5 2.1 0.5 12.8 0.5-13.9 0.5-0.4 0.5 16.4 0.5-17.2 0.5 14.9 0.5 1.8 0.5-0.4 0.5-14.5 0.5 15 0.5-16.8 0.5 1.5 0.5-1.6 0.5 14.6 0.5-11.9 0.5 14.2 0.5-14.7 0.5 14 0.5-14.7 0.5 13.2 0.5 2.2 0.5-16.3 0.5 2.2 0.5 25.5 0.5-27.9 0.5 17 0.5-17.3 0.5 1.4 0.5 0.5 0.5-0.3 0.5 0.9 0.5 13.3 0.5-13.5 0.5 12.3 0.5-12.8 0.5 12.5 0.5-12.8 0.5 23.2 0.5-8.3 0.5-16.7 0.5 0.3 0.5 16.3 0.5 10.5 0.5-11.2 0.5-15.3 0.5 14.7 0.5-13.7 0.5 16.3 0.5-16.6 0.5 14.8 0.5-15.5 0.5 1.7 0.5-1.8 0.5 27.2 0.5-2.2 0.5-0.8 0.5-22.2 0.5 15.2 0.5-14.3 0.5-1 0.5 14 0.5-15.5 0.5-0.2 0.5 15 0.5-0.6 0.5-14.7 0.5 2.6 0.5 25.6 0.5-26 0.5 13.5 0.5-16 0.5 16.8 0.5-15.5 0.5 14.8 0.5 0.6 0.5-0.2 0.5-14.4 0.5 25.5 0.5-12.7 0.5 2.1 0.5-0.5 0.5 0.6 0.5-13.9 0.5-3.1 0.5 1.9 0.5 15.6 0.5-1.2 0.5-0.2 0.5 1 0.5-16.1 0.5-0.2 0.5 13.9 0.5-13.6 0.5 14.3 0.5-12.4 0.5 11.6 0.5-13.1 0.5 13.5 0.5-14.5 0.5 14 0.5-0.4 0.5-14.5 0.5 2.5 0.5 13.8 0.5-13.4 0.5 12.4 0.5-13.1 0.5 15.2 0.5-13.9 0.5-2.9 0.5-0.5 0.5 16.4 0.5-14.2 0.5 0.5 0.5 0.2 0.5-0.5 0.5-2 0.5 14 0.5-13.7 0.5 0.4 0.5 13.4 0.5 0.1 0.5-13.7 0.5 0.2 0.5 1.3 0.5-2 0.5 2.4 0.5-0.8 0.5 1.1 0.5 13.6 0.5 9.3 0.5-11 0.5 2.2 0.5-15.5 0.5-0.6 0.5-0.2 0.5 15.7 0.5-1.5 0.5-14.1 0.5 13.8 0.5-12.3 0.5 13.5 0.5-12.9 0.5 11.7 0.5-13.6 0.5-0.4 0.5 1.4 0.5-0.1 0.5 0.7 0.5-1.2 0.5-0.2 0.5-1.3 0.5 3.3 0.5-3.2 0.5-0.3 0.5 15.7 0.5-14.7 0.5 16.5 0.5-16.3 0.5 14.3 0.5-14.1 0.5-1 0.5 2.8 0.5-1.3 0.5 12.7 0.5-14.1 0.5 0.3 0.5 13.8 0.5-13.7 0.5 16.1 0.5-13.9 0.5 22 0.5-24 0.5 14.6 0.5-13.9 0.5 16.2 0.5-16.7 0.5 15 0.5-12.9 0.5 21.4 0.5-7.2 0.5-0.4 0.5-16.6 0.5 0.9 0.5 15.1 0.5-14.9 0.5-0.8 0.5 1.5 0.5-0.6 0.5 14.4 0.5 0.7 0.5-1.7 0.5-11.7 0.5 11.3 0.5-11.9 0.5 14.7 0.5-16.6 0.5-0.1 0.5 1.1 0.5 12.8 0.5-12.9 0.5-1.4 0.5 1.2 0.5 15.1 0.5-14.6 0.5 0.8 0.5-1.7 0.5 14.9 0.5-0.5 0.5 9.6 0.5-24.2 0.5 1.3 0.5 14.1 0.5-1.1 0.5-14.6 0.5 15 0.5 12.4 0.5-10.4 0.5-16.8 0.5-0.1 0.5 1.4 0.5 15.2 0.5-1.6 0.5 2.1 0.5-17.7 0.5 0.9 0.5-0.6 0.5 15.8 0.5-15.5 0.5 14 0.5-14.9 0.5 17.4 0.5-14.4 0.5 12.3 0.5-13.8 0.5-0.7 0.5 26.7 0.5-27.4 0.5 2.2 0.5 15.8 0.5-0.9 0.5-1 0.5 11.6 0.5-13 0.5-11.6 0.5 13.5 0.5-15.9 0.5-0.5 0.5 1.9 0.5 15.6 0.5-15.3 0.5 15.4 0.5-0.1 0.5-2.8 0.5 2.6 0.5-16.6 0.5 0 0.5-0.5 0.5 1.1 0.5 14.7 0.5-14.1 0.5-1.8 0.5-0.1 0.5 14.7 0.5 2.2 0.5-1.8 0.5-0.3 0.5 0.1 0.5-13.7 0.5 14 0.5-0.2 0.5-0.5 0.5-12.4 0.5 14.8 0.5-13.7 0.5 12.7 0.5-14.8 0.5-4 0.5 28.4 0.5-8.1 0.5 0.3 0.5 7.9 0.5-23 0.5 14.3 0.5-15.3 0.5 1 0.5 13.3 0.5 1.6 0.5-17.5 0.5 1.8 0.5 12.6 0.5 3 0.5-17.8 0.5 16.4 0.5-13.6 0.5 13.7 0.5-15.4 0.5 15.2 0.5-14 0.5 13.1 0.5-12.9 0.5 0.9 0.5 12 0.5 2.6 0.5-3.4 0.5 2.6 0.5-16.4 0.5 1.4 0.5-0.7 0.5 13.8 0.5-14.1 0.5-0.2 0.5 0 0.5 15.3 0.5-16.2 0.5 27.4 0.5-26 0.5 15.5 0.5-14.4 0.5-2.4 0.5 16.7 0.5-16.5 0.5 2.2 0.5-2.6 0.5 3.2 0.5 13.2 0.5-13.2 0.5 12 0.5 2.1 0.5-13.9 0.5 12.5 0.5-0.7 0.5-14.7 0.5 14.3 0.5-12.4 0.5 15.2 0.5-16.5" fill="none" stroke="#b00000" stroke-width="2.8" stroke-linejoin="round"/>
<rect x="792" y="63.2" width="1016.6" height="372.8" fill="none" stroke="#000" stroke-width="1.3"/>
<text transform="translate(754.5 443.6) scale(1.150 1)" font-size="23">0</text>
<text transform="translate(740 383) scale(1.150 1)" font-size="23">10</text>
<text transform="translate(740 322.4) scale(1.150 1)" font-size="23">20</text>
<text transform="translate(740 261.9) scale(1.150 1)" font-size="23">30</text>
<text transform="translate(740 201.3) scale(1.150 1)" font-size="23">40</text>
<text transform="translate(740 140.7) scale(1.150 1)" font-size="23">50</text>
<text transform="translate(740 80.1) scale(1.150 1)" font-size="23">60</text>
<text transform="translate(784.6 474.8) scale(1.150 1)" font-size="23">0</text>
<text transform="translate(988.6 474.8) scale(1.150 1)" font-size="23">50</text>
<text transform="translate(1191.9 474.8) scale(1.150 1)" font-size="23">100</text>
<text transform="translate(1403.1 474.8) scale(1.150 1)" font-size="23">150</text>
<text transform="translate(1614.8 474.8) scale(1.150 1)" font-size="23">200</text>
<path d="M782.3 436H792M782.3 375.4H792M782.3 314.8H792M782.3 254.3H792M782.3 193.7H792M782.3 133.1H792M782.3 72.5H792M792 436V445.6M1003.2 436V445.6M1214.5 436V445.6M1425.8 436V445.6M1637 436V445.6" stroke="#000" stroke-width="1.3"/>
<text transform="translate(1277.2 514.9) scale(0.972 1)" font-size="28"><tspan font-style="italic">t</tspan> (s)</text>
<text transform="translate(719 290.3) rotate(-90) scale(0.984 1)" font-size="28">|<tspan font-style="italic">I</tspan>| (pA)</text>
<text transform="translate(926.8 160.1) scale(0.949 1)" font-size="28"><tspan font-style="italic">V</tspan> = +100 mV</text>
<text transform="translate(926.1 376) scale(0.958 1)" font-size="28"><tspan font-style="italic">V</tspan> = –100 mV</text>
<text transform="translate(1628.7 170.1) scale(1.041 1)" font-size="28">Open</text>
<text transform="translate(1621.7 386.9) scale(1.024 1)" font-size="28">Closed</text>
<text stroke="#000" stroke-width="1.6" stroke-linejoin="round" transform="translate(696.1 560.6) scale(1.069 1)" font-size="38" font-weight="bold">d</text>
<defs><g id="tr" fill="none" stroke-opacity="0.8" stroke-linejoin="round"><path vector-effect="non-scaling-stroke" stroke="#9e0142" d="M-38 878l1-1 1-6 1 1 1-1 1 4 1-2 1 3 1-9 1 12 1-6 1 2 1-2 1-1 1 3 1 1 1-4 1 0 1 3 1-5 1-2 1 6 1-3 1-5 1 4 1 1 1-2 1-1 1 5 1 3 1-4 1-2 1 4 1 2 1-4 1 3 1 2 1-5 1-512 1-14 1 5 1-8 1 3 1 2 1 2 1 0 1-5 1-1 1 3 1-2 1 1 1 5 1 2 1-4 1-2 1 2 1-35 1 33 1-3 1 11 1-5 1-2 1 7 1-16 1 10 1 3 1-7 1 4 1 0 1-7 1 9 1 1 1-3 1 25 1-22 1-8 1 28 1-19 1-8 1 7 1-4 1-6 1 7 1-3 1 4 1-5 1 6 1-5 1 4 1-2 1 0 1 5 1-3 1-2 1-9 1 14 1-1 1-4 1 2 1-4 1 0 1 1 1 4 1-1 1-4 1 5 1 0 1-2 1 3 1-3 1 0 1 3 1-1 1 9 1-14 1 10 1-6 1 13 1-15 1 7 1 2 1-1 1 0 1-8 1 3 1 2 1-1 1 7 1-3 1-2 1 2 1-5 1 1 1 0 1 5 1 1 1 1 1 2 1-8 1 3 1 2 1-5 1 3 1 5 1 0 1 0 1-3 1-2 1 5 1-5 1 3 1-9 1 8 1-1 1 3 1 2 1 1 1 0 1 1 1-6 1 3 1 3 1-3 1-1 1 1 1 0 1 12 1-12 1 5 1 4 1-6 1 5 1 5 1-12 1 3 1-3 1 6 1-7 1-8 1 9 1-3 1 8 1 3 1-8 1 6 1-9 1 6 1-6 1 7 1-8 1-4 1 11 1 6 1-10 1 5 1-3 1-1 1 3 1 3 1-9 1 5 1 0 1-6 1 10 1 2 1-6 1 6 1-6 1-1 1 6 1-5 1 1 1 4 1-1 1-2 1-6 1 0 1 8 1-6 1 3 1-4 1 3 1-5 1 10 1-9 1 2 1-1 1 4 1-9 1 5 1 0 1 3 1 0 1-3 1 1 1-2 1 3 1-2 1-2 1 3 1 1 1 5 1-9 1 2 1 4 1-11 1 8 1-4 1 3 1 19 1-16 1 10 1-12 1-7 1 2 1 9 1-1 1-5 1-8 1 8 1 9 1 9 1-15 1-1 1 6 1-7 1 7 1-6 1 23 1-19 1-2 1-3 1 4 1-7 1 5 1 0 1 4 1-7 1 10 1-6 1-3 1 9 1 1 1-7 1-2 1 3 1-2 1 1 1 31 1-28 1-1 1 0 1-1 1 2 1 1 1-4 1 0 1 8 1-7 1-2 1 7 1-7 1-1 1 5 1-5 1 1 1 2 1-2 1-2 1 1 1-1 1 7 1-7 1 1 1 10 1-9 1 6 1 0 1-5 1-4 1 6 1 1 1 1 1-2 1 4 1 0 1-8 1 7 1-4 1-2 1 2 1 7 1-2 1-9 1 6 1-1 1 1 1-1 1-3 1 8 1-6 1 20 1-2 1-18 1 5 1-3 1-3 1-1 1 6 1 1 1-2 1 0 1-3 1 0 1 2 1-6 1 12 1-7 1 0 1 14 1-12 1-1 1-11 1 7 1 5 1 3 1-7 1 8 1-9 1 2 1 4 1-2 1 3 1-5 1 0 1-3 1 2 1 1 1 6 1-1 1-3 1-5 1 14 1-10 1-2 1 9 1-1 1-18 1 9 1 2 1 6 1-4 1-2 1 2 1 4 1-8 1 4 1-3 1 12 1-1 1-3 1-4 1 3 1-10 1 8 1-5 1 0 1 2 1 1 1 4 1 1 1-1 1-4 1 5 1-3 1 5 1-7 1-6 1 7 1 9 1-7 1-2 1 3 1-2 1-21 1-3 1 1 1 1 1-4 1 0 1 5 1 2 1-3 1 1 1 0 1 1 1-1 1 2 1 3"/><path vector-effect="non-scaling-stroke" stroke="#ad1246" d="M-38 871l1 3 1 1 1 0 1-6 1 3 1-1 1-2 1-2 1 5 1-3 1 11 1-8 1 0 1-1 1 8 1-10 1 3 1-2 1 2 1 0 1 4 1-9 1 5 1 6 1-7 1 1 1-3 1-6 1 9 1 4 1-5 1-5 1 7 1 0 1 3 1 0 1-5 1-592 1-15 1 8 1-1 1-6 1 4 1 5 1-1 1-8 1 2 1-2 1 1 1 0 1 8 1-5 1-6 1 4 1 2 1 1 1-4 1 6 1-7 1 2 1 2 1 3 1-6 1 11 1 3 1-4 1 3 1 0 1-25 1 23 1 2 1-3 1 5 1-10 1 6 1 2 1-2 1-2 1 2 1 2 1-7 1 6 1-3 1 0 1 0 1 6 1-18 1 2 1 2 1-4 1-1 1 6 1-1 1-1 1 1 1 1 1 7 1-11 1 1 1-3 1 3 1-13 1 14 1 3 1-3 1 7 1-4 1-5 1 7 1 21 1-22 1-2 1 0 1-1 1-3 1 0 1 5 1-3 1 1 1 0 1-7 1-15 1 25 1-6 1 1 1-3 1 3 1 0 1 1 1 0 1-2 1 0 1 2 1 1 1-2 1 6 1-4 1 0 1-3 1 4 1 2 1-9 1 2 1 3 1-5 1 17 1-4 1-4 1 4 1 6 1-7 1-1 1 10 1-4 1-3 1-1 1 3 1 1 1 6 1 14 1-21 1 4 1-7 1-2 1 4 1-1 1 4 1-4 1 5 1-4 1 2 1 0 1-1 1 1 1 3 1 6 1-12 1-5 1 13 1-16 1 7 1-7 1 2 1 4 1-10 1 7 1 0 1-3 1 4 1-1 1-2 1 5 1-6 1 5 1-3 1-1 1 2 1 0 1 2 1-6 1 3 1 0 1 7 1-8 1 6 1-8 1 5 1-1 1 2 1-3 1-3 1 1 1 33 1-27 1-3 1 5 1-6 1 0 1-2 1 7 1 2 1-8 1 7 1-2 1 3 1-12 1 6 1 2 1-6 1 6 1 4 1-3 1-4 1 4 1-3 1 4 1-2 1-1 1-3 1 9 1 0 1 0 1-4 1 2 1 6 1-1 1-4 1 4 1 1 1-1 1 0 1 7 1-1 1-4 1 0 1 2 1 2 1 3 1-3 1 5 1-3 1-2 1-6 1 5 1-2 1 4 1 1 1 2 1-4 1-4 1 10 1-6 1-2 1 0 1-4 1 6 1-1 1 2 1-1 1-1 1 0 1-4 1-1 1 1 1-4 1 2 1-1 1 2 1-2 1-6 1 4 1 4 1-11 1 3 1 0 1-4 1 0 1 5 1-7 1 4 1 0 1-4 1 6 1 0 1-4 1-3 1 6 1-2 1 3 1-1 1-5 1 5 1 0"/><path vector-effect="non-scaling-stroke" stroke="#b81e48" d="M-38 872l1 1 1 4 1-10 1 8 1 7 1-15 1 12 1-11 1 7 1 4 1 0 1-9 1-1 1 0 1 7 1-4 1 2 1 0 1 1 1 0 1-1 1-6 1 11 1-15 1 14 1-7 1 2 1-1 1 0 1 1 1-1 1-2 1 6 1-5 1 7 1-5 1-2 1-611 1-12 1 4 1-2 1 8 1-9 1 1 1 0 1-7 1 3 1 1 1 3 1 2 1-6 1 8 1-6 1 2 1-3 1 0 1 6 1-5 1 1 1 3 1 1 1-8 1 3 1 1 1 4 1 2 1-6 1 1 1 2 1 1 1-4 1 2 1-5 1-5 1 3 1 4 1 2 1-8 1 2 1 5 1-9 1-1 1 13 1-11 1 10 1-2 1 4 1-3 1-2 1 2 1 3 1-2 1 0 1-4 1 6 1-1 1 5 1-5 1 0 1-1 1 3 1-2 1-2 1 7 1 1 1-5 1-4 1 7 1-5 1 10 1-9 1 3 1-7 1-6 1 13 1-2 1-3 1 8 1-5 1-3 1-1 1 2 1 1 1-3 1 2 1-1 1 6 1-4 1 3 1 0 1 10 1-10 1 1 1-7 1 6 1 7 1-11 1 3 1-5 1 4 1-3 1 4 1-2 1-3 1 6 1-3 1-24 1 24 1-3 1 4 1-1 1-2 1 4 1-6 1 6 1 59 1 7 1 3 1 7 1-18 1-1 1-59 1 1 1 2 1-4 1 0 1 2 1 1 1-3 1 1 1-1 1 1 1-9 1 4 1 3 1 0 1 2 1 2 1 6 1-8 1 2 1-7 1 1 1 0 1 1 1 2 1-2 1 6 1-7 1 1 1 3 1-1 1-2 1 1 1 1 1-1 1 1 1-4 1 2 1-10 1 8 1 0 1-9 1 21 1-8 1-4 1 2 1 0 1 1 1 1 1-6 1 6 1 6 1-9 1 3 1-5 1 5 1 73 1 4 1-16 1 4 1 8 1-1 1-72 1 4 1-11 1 5 1 1 1 3 1 7 1-6 1 0 1-9 1 10 1-8 1 4 1 1 1-6 1-1 1 3 1 0 1 2 1 0 1-26 1 19 1 1 1-3 1 4 1-1 1-4 1 8 1-9 1 6 1-4 1 3 1-10 1 12 1 8 1-5 1 2 1 1 1-4 1-1 1 10 1-2 1-4 1 2 1 0 1-1 1-2 1 1 1 2 1-3 1-4 1 6 1-7 1 2 1 5 1-3 1 0 1 0 1 10 1-10 1-5 1 6 1-9 1 2 1 10 1-2 1-4 1 1 1 0 1 3 1-5 1 0 1-6 1 10 1 0 1-1 1 3 1-5 1 2 1-7 1 5 1 6 1 18 1-24 1 3 1-3 1 4 1 1 1-1 1-6 1 2 1 5 1-5 1 4 1 1 1-7 1 7 1-2 1 1 1 2 1-3 1-1 1 1 1-3 1 3 1-7 1 10 1-6 1 4 1-1 1-1 1 0 1 0 1-5 1 4 1 5 1-6 1 0 1 9 1-3 1 1 1-5 1 0 1 2 1 0 1-2 1-3 1 1 1-2 1 9 1-6 1 1 1 2 1-1 1 2 1-4 1-2 1 9 1-5 1-5 1 4 1 1 1 1 1 2 1-5 1 2 1-2 1 5 1-7 1 4 1 2 1-5 1 4 1 1 1-3 1 2 1 3 1-2 1-14 1 12 1 2 1 2 1-1 1 0 1 2 1-9 1 6 1-8 1 9 1-8 1 6 1 2 1-6 1 12 1-9 1 3 1-11 1 10 1 1 1-2 1 1 1 4 1-3 1-2 1-1 1 2 1-3 1 3 1-2 1 3 1-6 1 2 1 1 1 0 1 3 1-3 1 11 1-7 1-2 1-6 1-1 1 6 1-3 1 2 1-1 1 1 1 3 1-6 1 6 1-4 1-2 1 4 1-2 1 2 1 5"/><path vector-effect="non-scaling-stroke" stroke="#ba2049" d="M-38 878l1 4 1-7 1 6 1-8 1 5 1-2 1-6 1 2 1 9 1-2 1 2 1-3 1-10 1 10 1-3 1 0 1 0 1-1 1 0 1 7 1-2 1-4 1 0 1 5 1-2 1 0 1-5 1 2 1-2 1-3 1 10 1-4 1-1 1-1 1 6 1 4 1-5 1-622 1-27 1 7 1 0 1-2 1 0 1-4 1 6 1-1 1 0 1-5 1 2 1 0 1 5 1-7 1 3 1 3 1-2 1 3 1-3 1 0 1 3 1-2 1-1 1-2 1-3 1 7 1-5 1-1 1 18 1-5 1-2 1 2 1 2 1 1 1 1 1 1 1-3 1 17 1-17 1-1 1 2 1 1 1 3 1-3 1-4 1 8 1-7 1 5 1-8 1 3 1 0 1 2 1-1 1-4 1-1 1-1 1 10 1-8 1 3 1 2 1 8 1-14 1 7 1-1 1-3 1-1 1 4 1-2 1-3 1 1 1 0 1-1 1-1 1 6 1-4 1-2 1 8 1-1 1-2 1-11 1 9 1-4 1 3 1 0 1 0 1 0 1-3 1 6 1-6 1 3 1-2 1-1 1 2 1 2 1-1 1 4 1-4 1 4 1-1 1-3 1 6 1 3 1-5 1-1 1 3 1-7 1 1 1 1 1 3 1 0 1 0 1 0 1-1 1-2 1 3 1 2 1 1 1-4 1 4 1-6 1 6 1-5 1 3 1-3 1-8 1 10 1 5 1-6 1 3 1 3 1-3 1-1 1 1 1-5 1 3 1 1 1-3 1 4 1-6 1 4 1 4 1-7 1 3 1 1 1 8 1-13 1 4 1-10 1 11 1-2 1-6 1 7 1-2 1 1 1-7 1 5 1 1 1 0 1-1 1 0 1-6 1 6 1-1 1 2 1 0 1 1 1 2 1 3 1-7 1 6 1-5 1-1 1-2 1 4 1-4 1 7 1-1 1-2 1-1 1 3 1-1 1 1 1-1 1-1 1 2 1-4 1 5 1-2 1-2 1 0 1 2 1-4 1 8 1-1 1-6 1 2 1 5 1-3 1-4 1-4 1 1 1 8 1-2 1-5 1 5 1-2 1-1 1 0 1 1 1 14 1-28 1 15 1 4 1 2 1-8 1 9 1-4 1-7 1 9 1-17 1 14 1-5 1-1 1 6 1-1 1-1 1 1 1-2 1-11 1 9 1 5 1-1 1-1 1 0 1 1 1-18 1 18 1-2 1 6 1-5 1 1 1 1 1 2 1-1 1-1 1 6 1-6 1-14 1 22 1-10 1 5 1-1 1-4 1 2 1 3 1 2 1 5 1-5 1-4 1 1 1-3 1 0 1 0 1 1 1 2 1 9 1-5 1-5 1-5 1 10 1-6 1-2 1 3 1-4 1 4 1 2 1-2 1-3 1 1 1 3 1 2 1-5 1 0 1 5 1-3 1 1 1 1 1-4 1 2 1 4 1-11 1 0 1 2 1-10 1 16 1-8 1 3 1 4 1-5 1 2 1-5 1 8 1-1 1 0 1-3 1 0 1-1 1 10 1-10 1 9 1-6 1 3 1-7 1 7 1 10 1-10 1 7 1-9 1 1 1-2 1 1 1 1 1-3 1 1 1 8 1-7 1 3 1-6 1 3 1 2 1-2 1-2 1 1 1 1 1 1 1 1 1-7 1-2 1 6 1 1 1 2 1 1 1-5 1 7 1-4 1-5 1 7 1-1 1 0 1-5 1 3 1 2 1-1 1 2 1 1 1 2 1-1 1-4 1 5 1 9 1-12 1-3 1-4 1-10 1 14 1-2 1 3 1-1 1-4 1 0 1 4 1 0 1-2 1-1 1-16 1 28 1-13 1 3 1 1 1-4 1 2 1 0 1 2 1 13 1-2 1 0 1 0 1 4 1-6 1 1 1 2"/><path vector-effect="non-scaling-stroke" stroke="#c1274a" d="M-38 872l1 2 1 3 1-4 1 6 1 2 1-2 1-8 1-2 1 11 1 2 1-6 1 3 1-3 1-1 1 5 1-5 1 5 1 3 1-6 1 6 1-11 1 8 1-3 1 9 1-9 1-3 1 9 1-11 1 7 1-5 1 8 1-5 1 3 1-3 1-4 1-3 1 13 1-635 1-9 1 1 1-2 1 2 1 1 1 1 1-4 1 4 1-3 1 1 1 2 1-5 1 3 1-2 1 3 1 3 1-5 1 7 1-12 1 10 1-2 1 1 1-6 1 6 1-1 1 0 1 2 1-13 1 11 1-2 1-3 1-1 1 3 1-15 1 30 1-16 1-4 1 5 1 1 1-2 1-3 1 2 1 4 1-6 1 3 1 4 1-4 1-1 1 3 1 2 1-3 1-5 1-1 1 4 1-5 1-8 1 16 1-9 1 6 1 1 1-4 1 5 1 1 1 0 1 5 1-7 1-2 1-1 1-3 1 8 1-1 1 0 1-1 1 4 1-2 1-1 1-4 1 1 1-5 1 4 1 3 1-3 1 0 1 8 1-17 1 4 1 4 1 3 1 2 1-2 1 4 1 2 1-8 1 6 1-5 1 7 1-1 1-4 1-1 1 1 1 2 1-2 1-5 1 6 1 3 1-22 1 35 1-14 1-4 1 8 1-2 1-3 1-3 1 0 1 0 1 1 1-4 1 3 1-2 1 6 1-2 1 2 1 2 1-5 1 4 1-4 1 1 1-3 1-9 1 15 1-3 1-3 1 2 1-3 1 0 1-2 1 7 1 0 1-3 1-4 1 3 1 6 1-9 1 2 1-5 1 8 1-5 1 3 1-2 1 2 1-2 1 5 1-3 1-1 1 4 1-2 1 5 1-5 1-1 1 0 1 7 1-3 1-4 1 2 1-2 1 3 1-3 1 0 1 7 1-1 1-1 1-2 1-1 1-7 1 6 1 0 1 2 1 4 1-2 1-6 1 4 1-1 1 3 1-2 1-5 1 3 1 1 1-5 1-3 1 16 1 4 1-4 1-1 1 1 1 1 1 3 1-4 1-4 1 13 1-6 1-2 1 6 1-9 1 2 1 1 1 2 1-2 1 3 1-3 1 4 1-2 1-7 1 5 1 15 1-17 1 1 1 6 1-15 1-3 1 4 1-4 1 8 1-3 1 2 1 18 1-25 1 1 1-2 1 1 1 0 1 2 1-4 1-2 1 9 1-6 1 1 1 2 1-1 1-2 1 1 1 6 1-1 1-1 1 2 1-9 1 6 1 0 1-5 1 6 1 7 1-7 1-5 1 5 1-16 1 15 1 1 1 1 1 5 1-4 1 6 1-6 1 0 1 1 1-2 1 0 1 4 1-9 1 1 1 10 1-4 1-1 1 6 1-7 1-3 1 2 1-2 1 5 1-4 1 3 1 0 1-1 1-3 1 8 1-3 1-2 1 2 1 2 1-1 1-1 1 0 1-3 1 4 1 15 1-17 1-6 1 6 1 0 1 1 1-9 1 1 1 6 1-3 1 3 1-2 1 3 1-3 1-2 1 4 1-2 1-3 1-1 1 14 1-9 1 8 1-13 1 3 1 2 1 1 1 1 1-5 1 8 1-28 1 20 1 2 1-4 1 2 1-7 1 12 1-3 1 5 1-4 1 2 1-1 1-1 1-3 1 7 1 2 1-11 1 3 1-6 1 11 1 0 1 2 1 2 1-8 1-4 1 3 1 3 1-8 1-11 1 21 1-5 1 2 1-1 1 7 1 1 1-14 1 6 1 3 1 1 1-1 1 1 1 1 1 0 1 2 1-4 1-2 1 1 1 7 1-3 1 0 1 1 1-1 1 3 1-8 1 16 1-13 1 1 1-3 1-4 1 4 1-2 1 3 1 3 1-1 1-5 1 2 1 2 1 2 1-4 1 1 1-4 1 3 1 5 1-3 1-2 1-2 1-1 1 4 1-2"/><path vector-effect="non-scaling-stroke" stroke="#d23a4e" d="M-38 871l1 11 1-3 1-3 1-2 1-5 1 5 1 1 1-3 1 8 1-1 1-5 1 5 1-4 1 1 1-2 1 10 1-14 1 5 1 4 1 0 1-9 1 2 1 3 1-2 1 0 1 2 1 0 1 4 1-10 1 10 1-4 1 3 1-4 1 10 1-15 1 11 1-6 1-651 1-13 1 2 1 3 1-1 1 0 1 1 1 0 1 3 1-6 1 4 1-3 1 3 1 7 1-6 1 0 1 0 1-1 1-2 1 3 1 0 1-1 1-1 1 0 1-6 1 2 1 2 1 4 1 0 1-3 1-3 1 4 1 1 1 0 1-3 1-1 1 1 1-1 1 5 1 13 1-18 1 7 1-5 1-1 1 4 1-1 1-4 1 0 1 2 1 5 1-4 1-2 1 4 1 1 1-5 1 1 1 0 1 5 1 7 1-12 1 2 1 0 1-1 1 3 1-2 1-5 1 4 1-3 1 2 1 2 1-1 1 2 1-2 1-1 1 6 1-3 1-2 1 9 1-11 1 1 1-9 1 13 1-1 1-8 1 3 1 2 1-2 1-3 1 7 1-5 1 4 1 0 1 2 1-6 1 7 1-8 1 7 1-1 1-6 1 0 1 7 1-2 1-6 1-2 1 4 1-1 1-9 1 10 1 1 1-2 1 3 1-4 1-3 1-2 1 7 1-3 1-2 1 2 1-6 1 14 1-9 1 5 1 3 1-1 1 1 1 2 1-7 1 1 1 4 1 5 1-14 1 6 1-2 1 4 1 0 1-4 1 1 1 6 1-2 1-2 1 3 1 0 1 9 1-10 1 2 1-1 1-5 1 3 1 3 1-3 1-2 1-6 1 12 1-20 1 13 1 4 1-2 1-3 1 0 1 4 1-1 1 5 1-6 1-2 1 2 1-1 1 6 1-4 1 5 1-2 1 3 1-4 1 2 1-7 1 3 1-1 1 5 1-3 1 2 1-3 1-1 1 3 1 3 1-3 1 4 1-5 1-4 1 3 1 0 1-1 1 2 1-2 1-1 1 6 1-1 1-3 1-1 1-3 1 6 1-9 1 12 1-9 1 6 1 2 1-4 1 1 1 3 1 0 1 2 1 5 1 0 1-3 1-2 1-4 1-6 1 6 1 4 1-7 1 3 1-8 1 6 1-6 1 2 1 4 1-1 1-4 1 7 1 0 1-4 1-3 1 7 1-3 1 4 1 0 1 2 1-6 1 3 1-2 1-4 1 6 1 0 1-2 1 3 1-2 1 0 1 2 1-6 1 0 1 3 1-3 1 6 1-3 1-3 1 4 1-5 1 9 1-4 1 2 1 0 1-1 1-3 1 5 1-3 1-1 1-4 1 8 1-3 1-2 1-3 1 7 1-3 1 3 1-3 1-2 1-4 1 1 1 0 1 3 1 2 1 1 1 13 1-16 1-52 1 0 1 52 1 2 1-2 1 1 1 2 1-2 1-2 1 3 1-2 1 1 1-3 1 0 1-2 1 7 1 1 1-1 1-2 1 0 1-1 1 2 1-2 1-2 1-50 1 0 1 53 1-4 1 2 1 3 1-3 1-3 1 1 1 11 1-6 1-7 1 0 1 1 1 3 1-2 1-1 1 4 1-13 1 13 1-1 1-4 1 4 1 0 1-2 1 1 1 1 1-1 1 1 1-3 1 5 1-3 1 5 1 2 1-1 1-4 1 2 1-1 1 1 1-3 1-7 1 8 1-2 1 5 1-2 1 0 1-1 1 0 1-6 1 5 1 0 1 5 1-4 1-1 1 0 1 4 1-5 1 0 1 4 1 0 1 8 1-12 1 2 1 0 1 2 1-5 1 3 1 3 1-2 1-7 1 9 1-1 1-1 1 0 1 0 1 5 1-3 1-4 1 2 1 6 1-1 1-2 1-3 1 3 1 2 1-3 1 2 1 1 1 0 1-3 1 1 1 9 1-11 1 3 1 2"/><path vector-effect="non-scaling-stroke" stroke="#d7414e" d="M-38 877l1-11 1 5 1 0 1-2 1 5 1-4 1-3 1 6 1 3 1-10 1 4 1 3 1-1 1 1 1 1 1-10 1 8 1-8 1 3 1-1 1 6 1-8 1 6 1-5 1 12 1-9 1 2 1-4 1 2 1 6 1-3 1-5 1 2 1-78 1 86 1-6 1 1 1-654 1-22 1 7 1 6 1 1 1-25 1 18 1 6 1-3 1-2 1 0 1 0 1 3 1-3 1 2 1 5 1-2 1 0 1-4 1-4 1 4 1 1 1 0 1-1 1 2 1 4 1-3 1 3 1-4 1 0 1 2 1-1 1 0 1-1 1 0 1 3 1-6 1 6 1-5 1 4 1-3 1-2 1 2 1 1 1 6 1-10 1 4 1-2 1 2 1 0 1 2 1-3 1-1 1 3 1 2 1 0 1-5 1 1 1 2 1-3 1-2 1 4 1-2 1 1 1 3 1-4 1-2 1 1 1 4 1-2 1 2 1-3 1 2 1-3 1 0 1 2 1 0 1-1 1 0 1 2 1-3 1-3 1 5 1 4 1-2 1-6 1 5 1 1 1 0 1 1 1-2 1-9 1 8 1-3 1-1 1-2 1 1 1 2 1 4 1 0 1-23 1 23 1-4 1-1 1 6 1-2 1-3 1 3 1-7 1 9 1-7 1 2 1 1 1 0 1 2 1 0 1-1 1 6 1-6 1-2 1 3 1-5 1 0 1 2 1-11 1 12 1 1 1 5 1-10 1 0 1 4 1 3 1-1 1 5 1-7 1 0 1 5 1-4 1 1 1-4 1 6 1 4 1-7 1 0 1 0 1 7 1-5 1 1 1-4 1-1 1-2 1 4 1 2 1 0 1-4 1 6 1-3 1 4 1-3 1 2 1-2 1 1 1 2 1-4 1-11 1-3 1-1 1 4 1 3 1-4 1 0 1 0 1 2 1-7 1 3 1 3 1 2 1-2 1-6 1 1 1 3 1 3 1-1 1 1 1-13 1 10 1-20 1 22 1 1 1-4 1 4 1-1 1 1 1 0 1 3 1 13 1-5 1 6 1-4 1-1 1 10 1-16 1 8 1-1 1 1 1-4 1-4 1 11 1-3 1 3 1 0 1 1 1-13 1 7 1 5 1-2 1 2 1-3 1 6 1-1 1-3 1 4 1-4 1 1 1 1 1-4 1-1 1 6 1-3 1-1 1 0 1-3 1-12 1 12 1 5 1 0 1-3 1 1 1 3 1-2 1-2 1 0 1-1 1-2 1 4 1 2 1 13 1-15 1-1 1 1 1 1 1 1 1-4 1 4 1-3 1-5 1 11 1-5 1-1 1 4 1-2 1 8 1-8 1 0 1-1 1-6 1 6 1-3 1 0 1 3 1 5 1-8 1 4 1-5 1 0 1 2 1 4 1-2 1 0 1 3 1-2 1 3 1-8 1 2 1 1 1-2 1 1 1-1 1 0 1-2 1 3 1 10 1-6 1 1 1-3 1-1 1 3 1-6 1-86 1 0 1 91 1-4 1 6 1-4 1 2 1-4 1-65 1-16 1 0 1 103 1-22 1 3 1-3 1 2 1 0 1 2 1-4 1 3 1-1 1 2 1-4 1 1 1-1 1 1 1 3 1 0 1-5 1 2 1 0 1-3 1 1 1-2 1 4 1-3 1 6 1-10 1 8 1 0 1-3 1-2 1 5 1-3 1 5 1-3 1-1 1 1 1 2 1-1 1 1 1 0 1-8 1 9 1 8 1-7 1-3 1 1 1-4 1 1 1-1 1 1 1 3 1-4 1 1 1-2 1 1 1-4 1 7 1-2 1 3 1 1 1-2 1-1 1 9 1-11 1-11 1 4 1 5 1-4 1 4 1 1 1 1 1-4 1 0 1 5 1-1 1 0 1-2 1 11 1-8 1 0 1-5 1 3 1 1 1 3 1-3 1-1 1-2 1 7 1-8 1-1 1 4"/><path vector-effect="non-scaling-stroke" stroke="#ef6645" d="M-38 876l1-2 1-4 1 4 1-3 1 3 1 2 1-5 1 2 1 0 1 0 1 7 1-6 1-5 1 4 1-2 1 10 1-11 1-1 1 6 1-4 1 0 1-81 1 80 1 1 1-6 1 7 1 3 1 4 1-6 1 3 1-6 1 8 1 2 1-6 1-2 1 1 1 5 1-692 1-8 1-3 1-2 1 3 1 4 1 1 1-6 1 3 1-3 1 3 1-7 1 5 1-2 1 7 1-5 1 1 1 0 1-4 1 5 1 1 1-2 1 1 1 1 1-1 1-1 1-4 1 1 1-3 1 7 1 2 1-3 1 2 1 5 1-6 1-3 1 5 1-6 1 8 1-1 1 1 1 2 1-6 1 4 1-3 1-2 1 4 1 0 1-2 1-2 1 3 1-2 1 6 1-5 1 0 1-2 1 2 1 2 1-5 1 0 1-4 1 4 1 2 1-6 1 2 1-1 1 16 1-15 1 5 1-6 1 3 1 1 1 0 1-6 1 7 1-2 1 1 1-5 1 1 1 3 1 2 1-2 1-1 1 0 1-2 1 2 1-2 1 4 1-7 1 4 1-2 1 1 1-2 1-4 1 10 1-2 1 0 1-1 1 1 1-2 1 1 1 3 1-4 1 0 1 6 1-5 1 1 1-1 1 2 1 0 1-1 1-3 1 1 1 2 1 4 1-8 1 4 1 0 1-2 1 10 1-9 1 22 1-18 1-5 1 4 1-1 1-3 1 1 1-4 1 4 1-3 1 2 1 2 1 0 1 6 1-8 1 0 1-2 1 6 1 1 1-4 1 18 1-15 1-4 1 5 1 2 1-4 1-3 1 1 1-10 1 11 1 0 1 1 1-3 1 5 1-7 1 5 1-1 1 2 1-6 1 4 1 1 1-2 1-3 1-2 1 3 1 3 1 2 1-4 1 2 1 0 1-1 1-3 1 4 1-4 1 2 1 1 1 2 1-3 1 4 1 1 1-1 1-1 1 1 1-6 1 0 1-4 1 7 1-3 1 1 1-1 1 0 1 5 1-6 1 0 1 1 1 2 1 0 1-1 1-2 1-3 1 3 1 2 1 4 1-1 1-2 1 2 1-4 1-2 1 5 1-5 1-1 1 2 1 3 1 7 1-2 1 1 1-2 1-4 1 2 1-1 1 3 1-4 1 2 1 1 1 4 1-1 1 3 1-5 1-16 1 21 1-10 1-1 1 1 1 3 1 0 1 3 1-3 1 0 1 1 1 1 1-2 1 3 1-1 1 0 1 1 1 0 1 0 1-4 1 2 1-4 1-1 1 4 1 1 1 1 1 0 1 1 1-6 1 4 1 0 1-2 1 2 1 1 1 0 1 0 1 3 1-5 1 0 1 2 1 3 1-8 1 1 1 5 1-1 1 0 1 5 1 2 1-4 1 0 1 6 1-6 1 2 1 2 1-1 1-3 1 2 1 2 1-3 1 5 1-3 1-7 1 7 1 3 1-2 1 9 1-13 1 5 1-1 1 1 1-2 1-1 1 0 1 2 1 2 1-2 1-2 1 0 1 0 1-2 1 3 1-8 1-5 1 10 1-2 1 2 1-3 1 4 1 6 1-2 1 0 1 4 1 2 1 4 1-5 1-4 1 4 1 1 1-4 1 2 1 1 1 0 1 1 1-1 1-4 1 6 1 0 1-1 1 1 1-5 1 4 1-11 1 12 1 5 1-5 1 0 1 4 1-8 1 2 1 2 1-2 1-6 1 3 1 2 1-14 1 5 1-2 1-2 1 3 1-4 1 0 1 13 1-10 1-3 1 1 1 0 1 0 1 1 1-1 1 1 1-1 1 1 1-2 1 2 1 0 1 0 1 0 1-10 1 9 1-8 1-3 1 0 1 5 1-3 1 0 1-4 1-1 1 3 1 4 1-8 1 0 1-7 1 12 1-3 1 12 1-9 1-12 1 11 1-1 1-7 1 6 1-1"/><path vector-effect="non-scaling-stroke" stroke="#f46d43" d="M-38 861l1 11 1-1 1-3 1 2 1 1 1-5 1-3 1 3 1 4 1-5 1 0 1-2 1 6 1-5 1 3 1-2 1 7 1-1 1 4 1-10 1-1 1 4 1-5 1 3 1 4 1-3 1 3 1-5 1 1 1 1 1 3 1 1 1 0 1-3 1-3 1 1 1 1 1-687 1-10 1 3 1-3 1 2 1-6 1 10 1-5 1 0 1-3 1 1 1 2 1-8 1 10 1-5 1 0 1 2 1 4 1-4 1 2 1-5 1 1 1 4 1-5 1-3 1 5 1 0 1 1 1 2 1-1 1 7 1-7 1-2 1-6 1 4 1 3 1-2 1 4 1-6 1 6 1-6 1 4 1-3 1 1 1 3 1-4 1 5 1 3 1-9 1-5 1 5 1-2 1 1 1 0 1 2 1 1 1-2 1 3 1-5 1 7 1-7 1 0 1 2 1 2 1 1 1-6 1 4 1 0 1 5 1-7 1-3 1 0 1 4 1 1 1-3 1-6 1 5 1 2 1 0 1 6 1-6 1-2 1 1 1-4 1-4 1 5 1 1 1-1 1-2 1 1 1 1 1 1 1-1 1-4 1 4 1 15 1-17 1-5 1 8 1 1 1-3 1-1 1 3 1-1 1-9 1 8 1 1 1 2 1-2 1-3 1 2 1-8 1 11 1-3 1 3 1-2 1 3 1 1 1 10 1-2 1 1 1-6 1 19 1-5 1-1 1 1 1-1 1 2 1-2 1 1 1 2 1-2 1-2 1 1 1-2 1-6 1 6 1 1 1 4 1-4 1 0 1 1 1 8 1-7 1 1 1-1 1 0 1-3 1 8 1-7 1 1 1-3 1-10 1 2 1-2 1-4 1 9 1-2 1-1 1 1 1-3 1 1 1-2 1 0 1 6 1-6 1 2 1-1 1-1 1 1 1 0 1 2 1-2 1-6 1 6 1 0 1 0 1 4 1-6 1 2 1 2 1 1 1-4 1 0 1 2 1 3 1 0 1-1 1-1 1 0 1 0 1-3 1 0 1 3 1 4 1-3 1-5 1 2 1 2 1-2 1 3 1-2 1-1 1-1 1 20 1-16 1 0 1 0 1-2 1 3 1-11 1 10 1-2 1 0 1 0 1 3 1-1 1 3 1-5 1 2 1-2 1 2 1 2 1-6 1 5 1-4 1 5 1-2 1 0 1-3 1 5 1-4 1 0 1 3 1-4 1 1 1-1 1-1 1 5 1 1 1-5 1 6 1-1 1-4 1 3 1 3 1-5 1 0 1-1 1 7 1-2 1-11 1 9 1 1 1-1 1 2 1-3 1 2 1-2 1 1 1-2 1 2 1 1 1-6 1 5 1 1 1-2 1-2 1-1 1-2 1 18 1-17 1-1 1 2 1-1 1 1 1 4 1-3 1 1 1-5 1 5 1-3 1 6 1-7 1 1 1 3 1 3 1-7 1-5 1 6 1 5 1-11 1 8 1 2 1-4 1-1 1 4 1-2 1 2 1-2 1 3 1-3 1 0 1 2 1-2 1 3 1-4 1-1 1 3 1 0 1-3 1-1 1 1 1 1 1 0 1-2 1 0 1 4 1 0 1 1 1-5 1 0 1 4 1-2 1 2 1 0 1-3 1 1 1-3 1 1 1 5 1 3 1-8 1 1 1 2 1-1 1-2 1 4 1 3 1-8 1 2 1 4 1 1 1-4 1-3 1 7 1-5 1 2 1-1 1 1 1 0 1-3 1-1 1 2 1 0 1 3 1 2 1-2 1-16 1 16 1 2 1-2 1 1 1-10 1 10 1-1 1 4 1-3 1 3 1-2 1 0 1-5 1 3 1 11 1-8 1-1 1-14 1 13 1 3 1 0 1-2 1-3 1 14 1-15 1 11 1-8 1 2 1-3 1 0 1 3 1 0 1-4 1 1 1 2 1-1 1 3 1-4 1 8 1 0 1-4 1 1"/><path vector-effect="non-scaling-stroke" stroke="#f57245" d="M-38 868l1-3 1-2 1 1 1 3 1-3 1-1 1 5 1-43 1 0 1 44 1-7 1 5 1-4 1-2 1 6 1-2 1 3 1-3 1 4 1-3 1 1 1 3 1 2 1-7 1-6 1 2 1 10 1 1 1-3 1 3 1-7 1-1 1 7 1-2 1-1 1 1 1-3 1-688 1-7 1-2 1-3 1 4 1-2 1 6 1-7 1 16 1-15 1-1 1 4 1-4 1 3 1-2 1-1 1 2 1 3 1-3 1 2 1-1 1-3 1 1 1 3 1-2 1 1 1-6 1 6 1-6 1 8 1-3 1 1 1-4 1 1 1-3 1 0 1 3 1-1 1 1 1 1 1 3 1-1 1 2 1-5 1 0 1 1 1 2 1-5 1 4 1-1 1 2 1-1 1-1 1-1 1 1 1 3 1-6 1 5 1-1 1 0 1 1 1 0 1-1 1-6 1 5 1 6 1-9 1 7 1-5 1-2 1 1 1 1 1 1 1-1 1 4 1 10 1 0 1 1 1 2 1-1 1 3 1-5 1-7 1 7 1-1 1 1 1-1 1-3 1 1 1 0 1-10 1 11 1 2 1 0 1-4 1 0 1 2 1 0 1 3 1-1 1 0 1-1 1 12 1-10 1 5 1-4 1-14 1-1 1 2 1-5 1 2 1 1 1 2 1-3 1 2 1-2 1 0 1 1 1 0 1-2 1 0 1 1 1-5 1 6 1-4 1 8 1-5 1-2 1 3 1-5 1 8 1-5 1 4 1-8 1 8 1-9 1 5 1 1 1-2 1 4 1 13 1-10 1-4 1-2 1 4 1 0 1-3 1-2 1 5 1 1 1-1 1-1 1-2 1 5 1-7 1 6 1-6 1 1 1 0 1 0 1 3 1 0 1-3 1 1 1 0 1 2 1 3 1-7 1-1 1 3 1 1 1-2 1 5 1-7 1 3 1-2 1-2 1 3 1 1 1-2 1 0 1 1 1-2 1 4 1 0 1-2 1 2 1-6 1 3 1 5 1-5 1 10 1-6 1-1 1-1 1-1 1-2 1 0 1 5 1-17 1 17 1-3 1 2 1 2 1-4 1 5 1-5 1 6 1-2 1 1 1 2 1-6 1 1 1-6 1 6 1-2 1 3 1-2 1-5 1 6 1-2 1-2 1 2 1 3 1-3 1 5 1-1 1-2 1-2 1 0 1 4 1-3 1 1 1 0 1 2 1-1 1-2 1 1 1-1 1 2 1 3 1-12 1 10 1-5 1 3 1 1 1-3 1 2 1 1 1 1 1-1 1 1 1-2 1 1 1 0 1 1 1 0 1 0 1 0 1-1 1 0 1-2 1 3 1 1 1-3 1 1 1-2 1 0 1-2 1 2 1 3 1 0 1 1 1-4 1-4 1 7 1-2 1 2 1 3 1-13 1 3 1 2 1 2 1 4 1-5 1 1 1 4 1-7 1 3 1-2 1 1 1 11 1-8 1 0 1 0 1-1 1 0 1 6 1-7 1 3 1-2 1 3 1 1 1-2 1 1 1-4 1 1 1 1 1-1 1 3 1-2 1 2 1-20 1 19 1 4 1-5 1-4 1 4 1-2 1-1 1 6 1 2 1-5 1 0 1-1 1 3 1 0 1 0 1-5 1 2 1 2 1-1 1-4 1 3 1 3 1-7 1 8 1-4 1 4 1-1 1-2 1-2 1 0 1-1 1 2 1 2 1-5 1 3 1-4 1 1 1-4 1 8 1-1 1 1 1-1 1-2 1 5 1 0 1-4 1 2 1 1 1-3 1 1 1 3 1-1 1 1 1-3 1 2 1-1 1 4 1-6 1 2 1-2 1 4 1 0 1 2 1-4 1 3 1-2 1 3 1-4 1 0 1 2 1 2 1-5 1-3 1 5 1 2 1-3 1 3 1-3 1 3 1 1 1-3 1 10 1-11 1 1 1 1 1-6 1 7"/><path vector-effect="non-scaling-stroke" stroke="#f7814c" d="M-38 864l1 6 1-5 1 1 1 4 1 1 1-3 1 4 1-4 1-1 1 1 1 0 1 4 1 0 1-5 1 0 1-57 1 60 1-1 1 1 1-6 1 5 1-3 1-2 1 4 1-1 1 3 1 0 1-2 1 2 1-1 1-1 1-3 1 6 1 0 1 1 1-7 1 0 1-694 1-8 1 2 1-1 1-4 1 4 1-2 1 1 1-3 1 3 1-1 1-1 1 0 1 1 1-4 1 5 1-1 1 3 1-6 1 2 1 2 1 0 1-2 1 4 1-3 1 2 1-2 1 0 1-2 1 0 1 1 1 2 1-14 1 11 1 3 1 4 1-4 1-1 1 1 1 1 1-1 1 0 1 1 1-1 1 2 1-3 1 4 1-4 1-6 1 8 1-2 1 2 1 0 1-7 1 2 1 3 1-5 1 7 1 0 1-8 1 9 1-6 1 4 1 2 1 1 1-2 1 2 1-3 1-2 1 1 1 5 1-1 1-3 1 0 1 1 1-5 1 2 1 6 1-6 1 1 1-2 1 2 1 3 1-3 1 2 1-2 1-2 1 3 1-4 1 2 1 0 1 0 1 2 1-3 1 3 1 0 1-2 1-2 1 0 1 3 1-1 1 6 1-5 1 2 1-5 1 1 1-1 1-4 1 6 1-2 1 13 1-12 1 1 1-3 1-3 1 2 1 3 1-3 1 1 1 3 1-1 1-1 1 0 1 1 1 2 1 12 1-16 1 3 1-3 1 0 1 0 1 2 1-2 1-1 1 6 1-8 1 3 1-1 1-2 1 4 1 1 1-1 1 6 1-4 1-1 1 1 1-7 1 2 1 6 1 0 1-4 1-4 1 4 1 2 1-1 1 4 1-3 1 1 1 0 1-1 1-1 1-1 1 1 1 0 1 3 1-2 1-1 1-1 1 0 1 3 1-1 1 2 1-3 1 0 1 4 1-2 1 1 1 6 1-8 1 0 1 0 1-6 1 5 1 0 1 3 1-3 1 1 1 0 1-2 1 3 1 3 1 4 1-6 1 1 1-6 1 0 1 1 1-1 1 1 1-1 1 2 1 2 1 1 1-3 1 1 1 1 1 0 1-8 1 7 1-4 1 1 1 1 1-1 1 4 1-3 1 1 1 1 1-5 1 4 1 1 1-2 1 3 1-5 1 0 1-1 1 6 1-5 1 3 1-4 1 5 1-5 1 1 1-4 1 3 1 5 1-4 1 7 1 0 1-5 1-3 1 3 1 1 1-4 1 5 1-1 1 1 1-5 1 4 1 0 1 2 1-2 1 2 1-1 1-3 1-3 1 6 1-1 1-1 1 5 1-4 1 1 1 0 1-1 1-3 1 2 1 5 1-3 1-2 1 0 1 0 1 1 1-4 1 8 1 2 1-7 1-2 1 3 1-4 1-1 1 6 1-4 1 3 1-2 1 5 1 0 1-6 1 5 1-1 1 1 1-4 1 6 1 0 1-2 1-4 1-10 1 16 1-2 1-2 1 1 1 8 1-8 1 3 1 2 1 3 1-4 1 0 1-3 1 3 1 0 1-3 1 1 1 5 1-1 1 4 1-7 1-4 1 10 1-4 1-9 1 6 1 1 1 3 1-5 1 2 1 0 1 2 1 0 1-3 1 3 1-4 1 3 1 7 1-5 1-6 1 5 1-3 1-2 1 0 1 3 1 0 1 0 1-3 1 1 1 9 1-5 1-1 1 7 1 0 1-2 1 1 1 4 1-3 1-1 1 5 1 2 1-16 1 4 1-7 1-5 1 10 1 0 1-2 1 3 1 0 1-3 1 3 1 1 1-5 1 3 1 0 1-4 1 9 1-3 1 2 1-8 1 4 1 2 1-3 1 5 1-7 1 3 1-1 1-3 1 3 1 0 1-3 1 2 1 4 1 0 1-1 1 1 1 1 1-4 1-1 1 2 1 0 1-2 1 2 1 0 1 2 1-5"/><path vector-effect="non-scaling-stroke" stroke="#f99153" d="M-38 877l1-10 1 10 1-14 1 1 1 13 1-1 1-4 1 0 1-1 1-7 1 10 1-4 1-6 1 9 1 1 1 2 1-1 1-5 1 4 1-3 1 1 1 6 1-8 1-7 1 7 1-4 1 2 1 8 1-3 1-4 1 2 1 4 1-3 1 5 1-9 1 4 1 0 1-707 1-6 1-9 1 2 1 2 1 1 1-6 1 8 1-1 1-1 1-2 1-3 1 4 1-1 1 2 1 16 1-19 1 6 1 1 1-8 1 4 1-20 1 20 1-3 1 3 1-3 1 2 1-6 1 5 1 0 1 0 1 0 1 2 1-1 1-3 1 1 1-2 1 1 1 5 1-6 1 5 1 1 1-2 1 0 1-4 1 1 1-1 1 5 1-3 1-2 1 2 1 3 1-4 1 4 1-1 1-1 1 1 1-2 1-3 1 5 1 1 1-5 1 2 1 0 1 4 1-7 1 5 1 1 1 0 1 1 1 2 1-3 1 0 1 1 1 0 1 0 1 0 1 2 1 0 1-6 1 0 1 6 1-5 1-4 1 5 1 1 1 6 1-5 1 1 1-1 1 0 1-4 1 4 1 0 1 0 1 2 1-4 1 5 1-1 1-5 1 2 1 1 1-5 1 5 1-2 1 2 1-5 1-4 1 2 1 0 1 0 1-2 1 2 1-5 1 2 1 8 1 1 1-1 1 1 1 2 1-4 1 4 1-2 1 1 1-1 1 1 1-1 1 3 1 0 1-1 1-11 1 9 1 2 1 4 1-3 1 0 1 1 1-13 1 12 1-8 1 5 1 6 1-8 1-2 1-3 1 10 1-1 1 0 1-1 1 3 1 0 1-2 1 1 1 4 1-5 1-2 1 0 1-2 1 2 1 6 1-1 1 0 1 0 1-3 1 1 1 0 1 8 1-8 1 6 1-7 1 5 1-3 1-3 1 4 1 0 1-3 1 0 1-1 1-2 1 3 1 2 1 1 1-2 1-3 1 13 1-8 1 0 1-3 1-1 1 3 1-2 1 3 1 7 1-8 1-2 1-10 1 11 1-2 1 2 1-2 1 1 1-2 1 2 1 2 1 0 1-5 1 3 1 0 1 7 1-8 1 1 1-1 1 2 1 2 1-7 1 6 1-7 1 2 1-1 1 1 1 9 1-8 1-5 1 4 1 3 1-2 1-3 1 3 1 3 1-1 1 0 1-4 1 11 1-10 1 1 1-3 1 1 1 4 1-5 1 4 1-2 1-1 1 3 1-1 1 2 1 2 1-3 1-3 1 0 1-1 1 3 1-1 1 6 1-5 1 0 1-1 1 1 1-1 1-2 1 7 1-2 1 2 1-2 1-1 1 1 1-1 1-6 1 5 1 1 1-4 1 2 1 2 1 0 1-1 1 2 1 1 1-5 1 3 1 1 1 3 1-4 1-2 1 1 1 3 1-8 1 7 1 0 1-3 1 3 1-4 1-1 1-1 1 3 1-1 1 2 1-3 1 3 1 12 1-11 1 2 1-5 1 3 1-2 1 1 1-2 1 1 1-2 1 2 1 3 1-3 1 0 1 12 1-9 1 2 1-4 1 1 1-2 1 4 1-2 1 1 1-3 1 4 1-4 1 0 1 2 1-1 1 4 1-2 1-2 1 4 1-1 1-2 1-1 1-1 1 3 1-1 1 1 1 0 1-17 1 14 1 2 1 16 1-22 1 4 1 15 1-14 1-2 1 0 1 2 1-7 1 3 1 0 1 7 1 0 1-4 1 0 1 1 1 1 1 5 1-8 1 1 1-18 1 21 1 1 1-2 1 2 1-5 1 0 1-4 1 7 1-2 1-3 1 4 1-2 1 1 1 1 1-1 1-2 1 0 1 2 1-4 1 3 1 1 1 1 1-6 1 3 1-1 1 0 1 2 1-1 1-6 1 7 1-4 1 4 1-3 1 0 1 1 1 2 1-3 1 5 1-5"/><path vector-effect="non-scaling-stroke" stroke="#fb9d59" d="M-38 866l1-6 1 12 1-12 1 2 1 4 1-4 1 0 1 0 1 2 1 9 1-10 1-1 1-2 1 5 1 1 1-5 1 2 1 2 1-3 1-1 1 6 1 2 1-6 1-6 1 9 1-7 1 12 1-6 1 1 1-1 1 3 1-1 1-1 1-1 1-6 1 7 1-3 1-704 1-9 1 2 1 0 1 1 1-2 1 0 1-2 1 3 1-11 1 13 1 3 1-8 1 3 1-2 1 0 1 2 1 1 1-2 1 3 1-1 1-2 1 5 1-2 1-1 1 1 1 0 1-3 1 3 1-6 1 1 1 3 1-4 1 6 1-3 1 2 1-2 1-1 1 0 1 2 1-2 1-4 1 7 1-5 1 1 1 0 1-2 1 0 1 1 1 0 1 1 1 1 1 2 1-4 1 5 1-3 1-1 1-3 1 2 1 1 1-3 1 1 1 0 1 1 1 2 1-7 1 6 1 9 1-8 1-6 1-4 1 8 1 1 1-5 1 3 1 4 1-3 1 1 1 2 1-1 1-3 1 2 1-2 1 2 1-3 1 5 1-2 1-6 1 5 1-2 1 3 1 1 1-1 1-2 1 2 1 0 1 1 1 0 1-3 1-4 1 5 1 3 1-6 1 0 1 6 1 0 1 6 1-8 1-3 1 3 1-1 1 3 1-4 1 3 1-1 1 1 1 4 1-8 1 4 1 1 1 0 1-1 1-3 1 12 1-9 1 2 1-4 1 1 1 1 1-3 1 1 1 2 1-3 1 2 1-2 1 2 1-2 1 1 1 2 1-4 1 0 1-2 1 10 1-7 1 4 1-3 1-1 1-1 1 6 1-6 1 0 1 3 1 0 1-1 1-3 1 2 1 2 1-3 1 5 1-4 1 2 1 0 1-1 1 3 1-5 1 3 1-2 1 4 1-5 1 6 1-3 1 3 1-2 1 5 1-4 1 0 1-1 1 1 1-2 1 4 1-4 1 3 1-1 1 1 1-1 1 0 1 1 1 1 1 5 1-7 1 2 1 0 1 0 1-3 1 4 1-7 1 2 1 2 1-4 1 4 1 1 1-1 1-1 1-1 1 1 1 0 1-3 1 5 1 2 1-14 1 10 1 4 1-5 1 0 1 3 1-1 1 1 1 2 1-2 1-3 1 4 1-1 1-2 1 3 1-3 1 15 1-16 1-2 1 3 1-2 1 4 1-4 1 4 1-1 1-5 1 3 1-1 1 0 1 1 1 4 1-5 1-1 1 0 1 1 1 5 1-6 1 5 1-6 1 2 1 0 1-7 1 8 1 0 1-2 1-2 1 2 1 0 1 2 1-4 1 5 1-2 1-3 1 4 1-4 1 0 1 1 1 1 1 5 1-6 1 2 1 1 1-2 1-2 1 3 1-5 1 5 1-4 1 4 1 2 1-4 1 2 1 1 1-5 1-2 1 3 1 2 1-3 1 3 1 0 1 14 1-11 1-2 1-2 1 1 1-3 1 5 1 2 1-7 1 4 1 0 1 5 1-1 1-5 1 2 1 0 1-5 1 4 1-1 1 4 1-3 1 2 1 11 1-1 1-5 1 3 1 0 1 0 1-1 1 2 1-3 1 1 1 4 1-4 1-3 1 6 1-6 1 2 1 1 1 2 1 0 1-8 1 0 1-1 1-2 1-1 1-1 1 6 1-3 1 12 1-11 1-1 1-1 1 0 1 1 1-1 1-3 1 3 1 1 1-1 1-2 1 1 1 0 1 8 1-8 1-2 1 0 1 3 1 0 1 1 1-2 1 11 1-9 1 0 1-3 1 4 1-4 1-3 1 5 1-10 1 12 1-5 1 3 1-4 1 5 1 2 1-4 1 4 1-3 1-3 1 2 1-1 1 3 1 2 1 0 1-5 1 2 1-1 1 0 1 1 1 3 1 0 1 1 1-3 1 1 1-1 1-6 1 7 1 0 1-2 1 2 1 1"/><path vector-effect="non-scaling-stroke" stroke="#fdad60" d="M-38 867l1 1 1 4 1-5 1-3 1 2 1 9 1-16 1 7 1 6 1-6 1-3 1 1 1 5 1-6 1 4 1-1 1 2 1 1 1 0 1-2 1 1 1-2 1-3 1 3 1 2 1 1 1 3 1-7 1-3 1 0 1 5 1-8 1 2 1 6 1 0 1-6 1 7 1-715 1-17 1 2 1 2 1 1 1 2 1 2 1-4 1-1 1 2 1-1 1 1 1-1 1 3 1-4 1-3 1 7 1-3 1 3 1-4 1-3 1 3 1-2 1 4 1 0 1-13 1 10 1-11 1-1 1 3 1 2 1-2 1-1 1 3 1-7 1 2 1 2 1-3 1 3 1 0 1 0 1 0 1 2 1 0 1-1 1-3 1 15 1 3 1-3 1-4 1 3 1 2 1 4 1-4 1-2 1 4 1 4 1-2 1-2 1-8 1 7 1 3 1-1 1 3 1-3 1 3 1 0 1-1 1 1 1 5 1-8 1 3 1 2 1-4 1-1 1-1 1 6 1 0 1-4 1-1 1 1 1 1 1-1 1 2 1 0 1 1 1-1 1 0 1-10 1 1 1 0 1-2 1-1 1 0 1 2 1-2 1 1 1-1 1 2 1-1 1 1 1-8 1 8 1-4 1 5 1-1 1 0 1 0 1-1 1-2 1 4 1 3 1-8 1 2 1 7 1 4 1 1 1-2 1 4 1-6 1 4 1 2 1 0 1 2 1-4 1 0 1 0 1 0 1-1 1 0 1-1 1 2 1-2 1-1 1 2 1-1 1 1 1 0 1-1 1-1 1 3 1 0 1-4 1 1 1 1 1 2 1-1 1-1 1-3 1 2 1 1 1-4 1 4 1-1 1-3 1 4 1-1 1-6 1 4 1-1 1-5 1 4 1-2 1 5 1-4 1 0 1 0 1 7 1-8 1 2 1 0 1 3 1-4 1 4 1-2 1-8 1-2 1 0 1-2 1 1 1 1 1 0 1 1 1-1 1 2 1-1 1-4 1-3 1 7 1 2 1-1 1-2 1 1 1 0 1-1 1-1 1-3 1 5 1 0 1-12 1 10 1 1 1 9 1-2 1 1 1 5 1-5 1 4 1-5 1 5 1 0 1-1 1-3 1 1 1 1 1 7 1-12 1 5 1-1 1-1 1 0 1-5 1 7 1-1 1 2 1-1 1-2 1 3 1-2 1 1 1 0 1 1 1 0 1 0 1 2 1-1 1-1 1-2 1 0 1 1 1 0 1-2 1 0 1 3 1-11 1 1 1-4 1-1 1 4 1 1 1 0 1-1 1 0 1-4 1 4 1 9 1-5 1 7 1 4 1-7 1-2 1 3 1 0 1-13 1 11 1 2 1-2 1 5 1-5 1 3 1 1 1-2 1 0 1-2 1 4 1-2 1-1 1 1 1 3 1-3 1-4 1 3 1 5 1 5 1-10 1 2 1 0 1 0 1-3 1 1 1-1 1 1 1 0 1-1 1 0 1-3 1 1 1 5 1-3 1-1 1 6 1 0 1 0 1-5 1 0 1-2 1 4 1 1 1-15 1 9 1 1 1 2 1-4 1 5 1-13 1 10 1 1 1-2 1 4 1-3 1 3 1 1 1-4 1 1 1-6 1 6 1 0 1 0 1-2 1 0 1-5 1 5 1-1 1 2 1-10 1 10 1-2 1 4 1-1 1-2 1-1 1 2 1-2 1-9 1 10 1 5 1-2 1-3 1 8 1-7 1 0 1 3 1-2 1-4 1 4 1-4 1 5 1 2 1-3 1-2 1 2 1 3 1-2 1-3 1 1 1 1 1 1 1 1 1-3 1-4 1 6 1 4 1-1 1-5 1 2 1 1 1 4 1-2 1-5 1 2 1 4 1-1 1-2 1-3 1 0 1 8 1-6 1-2 1 2 1 6 1-2 1-2 1-3 1 3 1 1 1-3 1-1 1 1 1 1 1-2 1-3"/><path vector-effect="non-scaling-stroke" stroke="#fec877" d="M-38 868l1-3 1-1 1-4 1 7 1 1 1-5 1 7 1-6 1 2 1-1 1 1 1-1 1 9 1-9 1 1 1 6 1 2 1-12 1 6 1-3 1 1 1-1 1 0 1 1 1-2 1 3 1 4 1-7 1-1 1 2 1 9 1-7 1-11 1 6 1-2 1 6 1 0 1-726 1-9 1 0 1-5 1 11 1-3 1 1 1-2 1 1 1-4 1-1 1-1 1 4 1-2 1 1 1 2 1-5 1 4 1-3 1 1 1-1 1 1 1-2 1 3 1-2 1 1 1 0 1-1 1 3 1-2 1-1 1-1 1 3 1-7 1 4 1 1 1 1 1 0 1-3 1 0 1-2 1 0 1 1 1 4 1-2 1-3 1 4 1-1 1 4 1-2 1 0 1 3 1-2 1-4 1 0 1 5 1 1 1 0 1 0 1 2 1-2 1-4 1 1 1-1 1 0 1-1 1 1 1 7 1-1 1-3 1-10 1 7 1 1 1 0 1 1 1 0 1 2 1-2 1 1 1-1 1 0 1-2 1 5 1-2 1-5 1-10 1 14 1-1 1-2 1-1 1 5 1-4 1 4 1-1 1 0 1-5 1 11 1-9 1 0 1 5 1-1 1 0 1-4 1 1 1-3 1 3 1 1 1-3 1 3 1-3 1 4 1 2 1-2 1-1 1 1 1-1 1 3 1 2 1-4 1-2 1-2 1 3 1 1 1 1 1-6 1 2 1 2 1-6 1 4 1 2 1 16 1-3 1-3 1 3 1 0 1-5 1 5 1 3 1-3 1 1 1-4 1 1 1 5 1-4 1 2 1 0 1 0 1-2 1 1 1-4 1 1 1 2 1 2 1 3 1-6 1 1 1 2 1-3 1 2 1-3 1 4 1 2 1-11 1-6 1 2 1 0 1-4 1 3 1-1 1 3 1-1 1-1 1-1 1 2 1-8 1-2 1 4 1 2 1 0 1 0 1-3 1-5 1 10 1-3 1 3 1 7 1-10 1 3 1-2 1 3 1-4 1 9 1-4 1-1 1 2 1 1 1-4 1-3 1 5 1 0 1-3 1 4 1-2 1 2 1-3 1-1 1 2 1 0 1 1 1-1 1 1 1 1 1-8 1 4 1 4 1-4 1 0 1 0 1 0 1 4 1-6 1 5 1-1 1 9 1-9 1 1 1 1 1-2 1-2 1-6 1 9 1 1 1-1 1 0 1 0 1-3 1 5 1 0 1-1 1-1 1-4 1 2 1 2 1-1 1 3 1 0 1-2 1-2 1 0 1 2 1 3 1 1 1-3 1 1 1 1 1 0 1-3 1-2 1 3 1 7 1-9 1 4 1 6 1-8 1-2 1 5 1-5 1 3 1 2 1-2 1 3 1-2 1 2 1 0 1-1 1-2 1 0 1-2 1 2 1-3 1 2 1-3 1 6 1-2 1 0 1 0 1-3 1 2 1-2 1 2 1 1 1-2 1-1 1 2 1 0 1 0 1 0 1 2 1-2 1 1 1-2 1 0 1 2 1-1 1-3 1 4 1-2 1 2 1-1 1-1 1-2 1 2 1 0 1 1 1 0 1-1 1-2 1-1 1 3 1-5 1 5 1-1 1-9 1 7 1 0 1-8 1 9 1-5 1 6 1-2 1 0 1 3 1-1 1-4 1 2 1-1 1 4 1-3 1 1 1 1 1-4 1 2 1 1 1 1 1-1 1 3 1-1 1-1 1 2 1-2 1 3 1-4 1 1 1 0 1-2 1 2 1 2 1-5 1 4 1 4 1-5 1 1 1 0 1 2 1 3 1-8 1 1 1 3 1 1 1-7 1 7 1-4 1 10 1-7 1-3 1 1 1-4 1 4 1 11 1-9 1-2 1-11 1 9 1 0 1-1 1 1 1 1 1-2 1-1 1 4 1 0 1 0 1 1 1-2 1 0 1 3 1-4 1 5 1-2 1 0 1-2"/><path vector-effect="non-scaling-stroke" stroke="#fed884" d="M-38 860l1 2 1 9 1-9 1 8 1-3 1 3 1-5 1 6 1-4 1 0 1 1 1-1 1-4 1 4 1-47 1 47 1-2 1 1 1-2 1 4 1-3 1 3 1 0 1 1 1-1 1 0 1-4 1 7 1-3 1 0 1 0 1 5 1-8 1 8 1 3 1-9 1-2 1-732 1-7 1-1 1-4 1 2 1-2 1-2 1 0 1 1 1 0 1 1 1-17 1 13 1 3 1 3 1-2 1 0 1-2 1 0 1 1 1 1 1 0 1 3 1-1 1-1 1-4 1 2 1 1 1-2 1 3 1-1 1 1 1 0 1-2 1 2 1-2 1 2 1 0 1 5 1-8 1 6 1-3 1-1 1 0 1 0 1 3 1-1 1 0 1 1 1-4 1-1 1 5 1-1 1-2 1 5 1 1 1-1 1-3 1 5 1-1 1-6 1 3 1-1 1-3 1 0 1 3 1-4 1 1 1 1 1 0 1-1 1 2 1 3 1-3 1-2 1-1 1 2 1 0 1 1 1 2 1-5 1-4 1 9 1 0 1 0 1-2 1 0 1 4 1-3 1 1 1-1 1-4 1 6 1 0 1-3 1 4 1-2 1-12 1 10 1-1 1 1 1-5 1 6 1 0 1-2 1 5 1-2 1-1 1 1 1-1 1-1 1-4 1 7 1-4 1 0 1 5 1-4 1 2 1-2 1 1 1-1 1 0 1 3 1-1 1-1 1 3 1-2 1-1 1 1 1 0 1 18 1-20 1-1 1 1 1-1 1 6 1-6 1 6 1-3 1 1 1-5 1 3 1 2 1-3 1 5 1-2 1-1 1 3 1-3 1 0 1 1 1-3 1 3 1 7 1-6 1 0 1-1 1-3 1 7 1-8 1 4 1-5 1 4 1 5 1-8 1 6 1-4 1-1 1 1 1 0 1 1 1 1 1-1 1 0 1-1 1 4 1-2 1-3 1 1 1 0 1 2 1-3 1 0 1 1 1-1 1-2 1 7 1-4 1-1 1-1 1-1 1-1 1 0 1-1 1 0 1 2 1 1 1-3 1 2 1 1 1-1 1-2 1 2 1 0 1 3 1-3 1 2 1 0 1 1 1-6 1 4 1-1 1 0 1-3 1 3 1 1 1 2 1-4 1 3 1-3 1-11 1 14 1-16 1 15 1 1 1 3 1-4 1-2 1 3 1 2 1 1 1-3 1 0 1 0 1 1 1 0 1-1 1 2 1-3 1-1 1 2 1 1 1 1 1-3 1-3 1 3 1 1 1-1 1 1 1 4 1-3 1 3 1-13 1 0 1-1 1-1 1-1 1 0 1 2 1 0 1-2 1-3 1 4 1 2 1-3 1 16 1-3 1-1 1 3 1-3 1 3 1 3 1-3 1-2 1 2 1-4 1 3 1 0 1 1 1 1 1-2 1 1 1 2 1-2 1 0 1 4 1-6 1 2 1 1 1 1 1-4 1 2 1 1 1-2 1 2 1-1 1-1 1-2 1 4 1 0 1-2 1 0 1-1 1-4 1 6 1 0 1 2 1-5 1 4 1-1 1-1 1 2 1-1 1 6 1-6 1 14 1-10 1-4 1 0 1 1 1-15 1 13 1 2 1-4 1 4 1-3 1-1 1 5 1-5 1 1 1 2 1-1 1-3 1 3 1 1 1-1 1-1 1 2 1-2 1 2 1 0 1-2 1 3 1-5 1 4 1-2 1-1 1-2 1 3 1 4 1-4 1 1 1-3 1 5 1-1 1-2 1 3 1-2 1-1 1 2 1-1 1 3 1-4 1 2 1-2 1 1 1-1 1 0 1-1 1 2 1 1 1 0 1-9 1 9 1-3 1 2 1-1 1-2 1 1 1-3 1 3 1 2 1 0 1-4 1 6 1-1 1-3 1-1 1 3 1 0 1-4 1 3 1 1 1-5 1 6 1-4 1 1 1 1 1 0 1-11 1 12"/><path vector-effect="non-scaling-stroke" stroke="#fee28f" d="M-38 862l1 4 1-3 1-1 1 5 1-1 1-2 1 3 1-7 1 4 1 1 1-7 1 13 1-8 1 0 1 5 1 0 1-2 1 0 1-3 1-4 1 1 1 4 1 6 1-9 1 7 1-7 1 4 1 5 1-7 1-6 1 13 1-9 1 11 1-2 1 1 1-6 1 6 1-743 1-8 1 3 1-3 1-4 1-1 1 5 1 4 1-4 1 0 1 2 1-3 1 2 1-5 1 2 1-7 1 7 1-4 1 3 1 2 1-3 1 3 1-2 1 0 1-5 1 7 1 7 1-6 1-4 1 2 1 3 1-3 1 0 1-2 1 6 1-1 1-5 1 5 1 0 1-1 1-1 1 0 1-4 1 3 1 0 1-2 1 5 1-2 1 2 1-3 1-2 1 4 1-4 1 5 1-1 1 2 1-3 1 5 1-3 1 1 1-4 1 4 1-1 1 2 1-4 1 2 1-4 1 5 1 1 1 0 1-2 1 1 1-1 1-2 1 2 1-1 1 2 1 0 1 0 1 1 1-6 1 6 1 1 1-2 1 0 1 0 1-3 1 3 1-1 1 1 1-2 1-1 1 0 1 3 1-3 1-1 1 1 1-1 1 12 1-9 1 0 1-3 1-5 1 8 1-5 1 0 1 4 1-3 1 3 1 0 1-1 1-1 1 11 1-7 1-5 1 3 1-1 1 1 1-2 1 0 1-2 1 3 1-3 1-9 1 12 1-1 1 1 1 9 1-12 1 7 1-3 1-3 1 0 1 14 1-10 1-10 1 7 1 8 1-5 1-3 1 4 1 5 1-8 1 2 1-4 1 7 1-3 1-4 1 3 1-18 1 16 1 5 1-2 1-10 1 18 1-11 1 1 1 12 1-10 1 0 1-1 1 4 1-5 1-1 1-1 1 5 1 1 1-4 1 2 1-2 1-2 1 3 1-3 1 0 1 0 1-1 1-11 1 11 1-1 1 5 1-2 1 2 1-3 1-3 1 1 1 2 1 3 1-4 1 1 1-1 1 2 1-2 1 2 1 6 1 2 1-3 1 3 1-1 1 1 1-1 1 6 1-5 1-1 1-6 1-2 1 5 1-9 1 5 1 1 1-2 1 2 1-2 1 2 1 0 1-4 1 0 1 3 1-2 1 3 1 0 1-5 1 4 1-2 1 2 1 3 1-8 1 3 1-4 1 2 1 4 1-1 1 1 1 0 1-2 1-2 1 4 1-3 1-2 1 4 1 0 1-1 1-1 1-2 1 4 1 2 1-4 1 2 1-3 1 1 1 2 1 0 1-2 1 0 1 1 1 0 1-1 1-6 1 13 1-7 1 4 1-13 1 11 1-3 1 1 1 1 1-2 1 3 1 0 1-4 1-3 1-2 1-1 1 6 1-3 1-2 1 3 1-1 1 1 1 9 1 2 1-2 1-1 1 7 1-9 1-2 1 3 1 5 1-1 1-6 1-4 1-5 1 8 1 2 1-3 1 2 1-4 1 6 1 1 1-2 1-4 1 1 1 0 1 1 1 1 1-1 1 2 1 4 1-6 1 2 1-3 1 3 1-4 1 2 1 6 1-14 1 12 1-5 1 1 1 0 1 2 1-1 1-1 1-1 1 0 1 3 1-4 1 2 1 3 1 4 1 4 1-4 1-9 1 4 1-4 1 6 1-3 1-3 1 4 1-4 1 3 1-1 1 4 1-1 1-3 1 2 1 0 1-2 1 4 1-1 1 4 1-3 1 0 1-1 1-2 1 0 1 1 1 2 1-1 1 1 1-2 1 3 1 1 1 3 1-4 1-4 1 1 1 0 1 3 1-3 1 4 1-4 1 2 1 1 1-1 1 2 1-2 1 1 1 0 1 1 1-4 1-2 1 3 1-1 1 1 1 1 1-1 1-1 1 2 1 0 1 0 1-4 1 4 1-3 1 4 1-3 1 1 1 3 1-1 1 0 1-1 1-1"/><path vector-effect="non-scaling-stroke" stroke="#feea9b" d="M-38 868l1 4 1-5 1-2 1-1 1 5 1-6 1 7 1-1 1-5 1-2 1 11 1-7 1-1 1 0 1 6 1-1 1 0 1-5 1 6 1-6 1 2 1 0 1-4 1 5 1 0 1-3 1 4 1 0 1-2 1-107 1 0 1 105 1-2 1 7 1-4 1 0 1 6 1-749 1-8 1 4 1-6 1 1 1 2 1-5 1 4 1-1 1-2 1 0 1 3 1-4 1 2 1 1 1 1 1 0 1 7 1-10 1 3 1-3 1 1 1-2 1 5 1-2 1-1 1 0 1-11 1-5 1 8 1-2 1 2 1 0 1 3 1 1 1-9 1 4 1 2 1 1 1-3 1-3 1 4 1-3 1 0 1 2 1-6 1 8 1-5 1 6 1-6 1 4 1-4 1 5 1-4 1 8 1-1 1-5 1 3 1-4 1 10 1-4 1 3 1 4 1-5 1 1 1-3 1-1 1 10 1-6 1 8 1-1 1 1 1-2 1 0 1 1 1 0 1-1 1-1 1 3 1 0 1-1 1-6 1 21 1-17 1 1 1-2 1 0 1 3 1-2 1 1 1 0 1-1 1-9 1 2 1 0 1 6 1-4 1 0 1 1 1-1 1 1 1 1 1 0 1 1 1-5 1 2 1-5 1 5 1-1 1 4 1-6 1 4 1-1 1-1 1 2 1-3 1 4 1-1 1 0 1 1 1-1 1 3 1-2 1 0 1 3 1-5 1 5 1-3 1 2 1 0 1-1 1 1 1-4 1 0 1 3 1-2 1 0 1 0 1 4 1 1 1-4 1 2 1 0 1 0 1-3 1 1 1 0 1 1 1-2 1-1 1 4 1-1 1 3 1-2 1-3 1 4 1-2 1-3 1 6 1-4 1-1 1 2 1 1 1-2 1 1 1 1 1-1 1-4 1 3 1 1 1-2 1 4 1-2 1-2 1 4 1-8 1 5 1-2 1 2 1-4 1 4 1-4 1 0 1 6 1-5 1 5 1-3 1 1 1-2 1-1 1 1 1 3 1-4 1-1 1 2 1-1 1 0 1 6 1-6 1 1 1 0 1 1 1 0 1-5 1 5 1-3 1 0 1 3 1-2 1-2 1 2 1-1 1 4 1-4 1 0 1 2 1 2 1 0 1 1 1-1 1-3 1-6 1 7 1 0 1 2 1-2 1 4 1-3 1 1 1-2 1-3 1 3 1 1 1-5 1 3 1 4 1-2 1-4 1-3 1 6 1 1 1 2 1 1 1-8 1 4 1 0 1 3 1-4 1 2 1-3 1 1 1 2 1 1 1 2 1-2 1-4 1 2 1 2 1-1 1-6 1 8 1-5 1 2 1 0 1 0 1-1 1 2 1 4 1-4 1-2 1 0 1 0 1 0 1 0 1-1 1 3 1-1 1-1 1 1 1 5 1-6 1 3 1 1 1-4 1 4 1-16 1 12 1 2 1 2 1-5 1-1 1 4 1-10 1-3 1 3 1 2 1 0 1 0 1-3 1 3 1 0 1 11 1-3 1 0 1 1 1-1 1 0 1 0 1 1 1-4 1 5 1-2 1 1 1-4 1 5 1-3 1-2 1 6 1-3 1 1 1 3 1-3 1 0 1-1 1-2 1 4 1-1 1-1 1 4 1-6 1 5 1-4 1 2 1-2 1 1 1 0 1 1 1 0 1-2 1 5 1-3 1 1 1-4 1 6 1 0 1-4 1 2 1 1 1-1 1 3 1 0 1-3 1-2 1-7 1 7 1 3 1 2 1-5 1 0 1 6 1-4 1 0 1 0 1 2 1-3 1 1 1 0 1-2 1 1 1 2 1-1 1 1 1-1 1-1 1 0 1 3 1-10 1 8 1-1 1 1 1-3 1 2 1 2 1 1 1-1 1-3 1 3 1-1 1 2 1-6 1 6 1-3 1 0 1 0 1-2 1 5 1 0 1 3 1-6 1-1 1 1"/><path vector-effect="non-scaling-stroke" stroke="#fff7b2" d="M-38 862l1 0 1 1 1 1 1-7 1-3 1 12 1-11 1 8 1 0 1-2 1-1 1 1 1 1 1-2 1 1 1 6 1-6 1 5 1-2 1 2 1-2 1 3 1-2 1-4 1 1 1 7 1-9 1 8 1-8 1 3 1 7 1-6 1-3 1-6 1 10 1-3 1 6 1-754 1-11 1-2 1-4 1 4 1-1 1 2 1-1 1-1 1 2 1-2 1-2 1-2 1 8 1-4 1 0 1-5 1 5 1 0 1 13 1-14 1 3 1 1 1-4 1 2 1 3 1-2 1-2 1 13 1-7 1-5 1-3 1 3 1 1 1 0 1 1 1 2 1 0 1 0 1 2 1-6 1 0 1-1 1 4 1-3 1 2 1 0 1 1 1-2 1 1 1 1 1 2 1-3 1 0 1-1 1-2 1 4 1 0 1-3 1 3 1-5 1 3 1 2 1-1 1-3 1 7 1-5 1 3 1 0 1-4 1 1 1 2 1-2 1 0 1-2 1 1 1 0 1 2 1 0 1-3 1 1 1 0 1 1 1-1 1-1 1 3 1 0 1-1 1-1 1 1 1 1 1-2 1 0 1-2 1 4 1 1 1 3 1-6 1-3 1 3 1-1 1-3 1 6 1-2 1 0 1 3 1 3 1-7 1 3 1 0 1 1 1-4 1 1 1-1 1 1 1 10 1-6 1 4 1 3 1-18 1 13 1 4 1-2 1-1 1 1 1 1 1-1 1 0 1 0 1-3 1 5 1 1 1-3 1 0 1 1 1-2 1 2 1-2 1 1 1 1 1-5 1 2 1-11 1 12 1 3 1-4 1-4 1 2 1-1 1 1 1-2 1 0 1 0 1 1 1-2 1 2 1 1 1-1 1-14 1 15 1 2 1-1 1-4 1 0 1 1 1-1 1 2 1 2 1-5 1 4 1-1 1 2 1-5 1 3 1 0 1-1 1 0 1-1 1 0 1 2 1-1 1-1 1 1 1 0 1 2 1-3 1 0 1 0 1 2 1-1 1 2 1-5 1 5 1-1 1 1 1-15 1 5 1-3 1 3 1 3 1-4 1-3 1 3 1-2 1 2 1 0 1 0 1-2 1 6 1-3 1-2 1 5 1-4 1 3 1-1 1-1 1 4 1-4 1 1 1 1 1 0 1 2 1-2 1 0 1-1 1 0 1 0 1 2 1 3 1-2 1 1 1-3 1 4 1 10 1-2 1 5 1 2 1-4 1 1 1-3 1 4 1-1 1-12 1-2 1-4 1 5 1 0 1 2 1 1 1-4 1 3 1-7 1 8 1-2 1-2 1-1 1-2 1 5 1 1 1-4 1 4 1-4 1 10 1-1 1-2 1 3 1-2 1-3 1 6 1-2 1 1 1 0 1 1 1-4 1 2 1 4 1-3 1 0 1-2 1 4 1-1 1 0 1-1 1 0 1-1 1-1 1 2 1 1 1 0 1-1 1 0 1 1 1-2 1-8 1 9 1-1 1 1 1 0 1-1 1 0 1 0 1-6 1 7 1 0 1 1 1-2 1 3 1-4 1 4 1-1 1 1 1-4 1 1 1 1 1 0 1-1 1 4 1-5 1-2 1 3 1 1 1 0 1-5 1 7 1-8 1 2 1 1 1 1 1 2 1-2 1 3 1-4 1 4 1-5 1-1 1-1 1 4 1-2 1-1 1-1 1 3 1 0 1 1 1 1 1-3 1 0 1-1 1 1 1 3 1 1 1-4 1 1 1-4 1 0 1 2 1 0 1-2 1 0 1 1 1 3 1 1 1-3 1 2 1-3 1 1 1 1 1 0 1 0 1-1 1-1 1 1 1 1 1 1 1 2 1-4 1-1 1 2 1-1 1 0 1 1 1-1 1-2 1 1 1 3 1-1 1 0 1-1 1 2 1 2 1-6 1 2 1-1 1 1 1 2 1-5 1 4 1 3 1-2 1-2 1 2 1 1"/><path vector-effect="non-scaling-stroke" stroke="#fefebd" d="M-38 862l1-1 1 3 1-2 1 1 1-1 1-1 1 1 1 0 1-1 1 8 1-6 1-2 1 3 1 2 1-7 1 2 1-2 1 4 1-3 1 5 1-7 1 8 1 0 1-4 1-1 1 2 1 8 1-12 1-4 1 4 1 6 1-3 1-1 1-3 1 3 1 2 1-7 1-748 1 0 1-6 1 3 1-2 1 1 1 1 1-1 1 0 1-1 1 0 1 1 1 1 1-2 1-1 1 0 1-1 1 2 1 2 1 1 1-7 1 3 1 0 1 1 1 2 1-3 1-1 1 4 1-5 1 3 1-1 1 1 1-2 1-1 1 2 1 0 1 0 1 1 1-4 1-4 1 6 1 1 1-4 1 3 1 0 1-2 1 3 1-5 1 3 1-2 1 1 1 0 1 2 1-5 1 5 1-4 1-2 1 4 1-1 1 2 1-2 1 1 1-3 1 1 1 0 1-1 1 3 1 4 1-5 1 2 1-1 1 2 1-4 1-9 1 12 1-2 1-2 1 5 1-1 1-4 1 0 1 1 1-1 1 2 1 4 1-3 1-3 1 2 1-1 1-1 1 2 1-4 1 3 1 6 1-17 1 12 1 1 1-3 1 1 1 4 1-3 1-1 1-1 1 4 1-1 1 4 1-4 1-2 1-1 1-1 1 4 1-2 1 0 1 2 1 1 1-8 1 6 1-7 1 7 1-4 1 4 1-1 1 3 1 0 1-3 1 1 1-2 1 2 1 0 1-2 1 1 1-3 1 2 1-4 1 5 1-2 1-4 1 3 1 1 1 3 1-3 1 1 1 0 1-3 1 3 1-6 1-2 1-3 1 0 1 3 1 3 1-7 1 3 1 3 1-2 1 1 1-3 1-1 1-9 1 13 1 0 1 2 1-6 1 5 1-3 1 1 1-3 1 3 1 1 1-10 1 11 1 8 1-1 1 3 1 1 1-2 1-4 1 1 1 3 1 3 1-4 1 2 1-1 1-1 1-1 1 1 1 2 1-2 1-3 1 2 1 2 1 0 1-4 1 4 1 1 1-2 1-2 1 2 1-1 1 1 1-1 1 9 1-10 1 0 1 2 1 1 1-3 1-1 1 3 1-2 1 3 1-7 1 7 1-2 1 1 1 1 1 1 1-3 1 1 1-1 1 2 1-3 1-1 1 4 1-14 1 19 1-8 1 0 1 3 1-4 1 3 1 1 1 5 1-10 1 2 1 0 1 0 1-1 1 2 1 0 1 1 1-1 1 1 1-2 1 3 1-4 1-1 1 3 1 0 1-5 1 5 1-3 1 1 1 12 1-10 1 2 1-2 1 0 1 11 1-14 1 1 1 2 1-2 1 3 1 0 1-2 1 4 1-2 1 0 1 2 1-4 1-1 1 7 1-8 1 3 1 0 1-2 1 0 1 1 1 3 1-5 1 2 1 0 1 3 1-2 1-1 1-1 1 4 1 0 1 0 1-3 1 3 1-3 1 1 1-1 1 8 1-4 1-3 1-2 1 11 1-1 1 1 1 0 1 2 1-2 1-1 1-1 1 4 1-4 1 0 1 0 1 0 1 1 1 3 1-5 1 6 1-3 1 1 1-4 1 1 1 2 1-1 1 0 1-1 1 2 1-6 1 5 1 2 1-2 1 0 1 2 1-2 1 0 1 1 1 1 1-8 1-2 1-2 1 16 1-3 1-1 1 0 1 0 1 2 1-2 1-1 1 5 1 4 1-8 1 0 1 1 1 1 1-2 1 3 1-2 1 1 1 0 1 4 1-2 1 3 1-5 1 1 1-5 1 5 1-12 1-3 1 0 1 2 1-1 1 5 1-3 1-2 1 3 1 0 1 0 1 0 1-2 1 1 1 1 1 1 1-3 1 3 1-1 1 0 1-1 1-1 1 0 1-1 1 3 1-3 1-2 1 5 1 2 1-2 1-10 1 8 1 0 1 4 1-5 1 2 1 1"/><path vector-effect="non-scaling-stroke" stroke="#f8fcb4" d="M-38 862l1-4 1 3 1-5 1 15 1-5 1-4 1 3 1-4 1-3 1 3 1 0 1 4 1-5 1-4 1 10 1-4 1-2 1 3 1-7 1 8 1-2 1-4 1-3 1 11 1-5 1-2 1 0 1 4 1-5 1 7 1-7 1 8 1-13 1 8 1 3 1-4 1 3 1-760 1-4 1 3 1-1 1-1 1 0 1 0 1 1 1-1 1-7 1 0 1 3 1 0 1-5 1 3 1 1 1-3 1-10 1 10 1 0 1 0 1-3 1 2 1 1 1-2 1 5 1-1 1-3 1 2 1 3 1-1 1-4 1 2 1-1 1 0 1 3 1 0 1-1 1 0 1 2 1 2 1 4 1 3 1-11 1 1 1 2 1-3 1 1 1 3 1-4 1 2 1-1 1-1 1 4 1-4 1 0 1 1 1 3 1-15 1 22 1-8 1-2 1-1 1 2 1-3 1 1 1-6 1 6 1 2 1-2 1 2 1-3 1 1 1 1 1-2 1-1 1 2 1-2 1 4 1-1 1-2 1 2 1 1 1-2 1-1 1-1 1 2 1-1 1 3 1-3 1-1 1 6 1-3 1-1 1-4 1 1 1 4 1-2 1 4 1-6 1 6 1-2 1 0 1-3 1 2 1 2 1-1 1-1 1 3 1-4 1 2 1-1 1 1 1 0 1 0 1-5 1 3 1 1 1 0 1-6 1 3 1 3 1 1 1-1 1-2 1 3 1 0 1-1 1-1 1 1 1 2 1-5 1 2 1 3 1-2 1 1 1 1 1-2 1-2 1-2 1 2 1-1 1-3 1 5 1-3 1 4 1-2 1 2 1-2 1-2 1 0 1 1 1-1 1 4 1-5 1 3 1 2 1-6 1 4 1 2 1-2 1 2 1-1 1 2 1-4 1 4 1 1 1-5 1 2 1 3 1-2 1-2 1-3 1 3 1 2 1-2 1-1 1 2 1-5 1 4 1 0 1 1 1 0 1 0 1 11 1-11 1 1 1 3 1 4 1-9 1 1 1 0 1 2 1-4 1 0 1 1 1 2 1-4 1 2 1 2 1-1 1-5 1 3 1 3 1-3 1 3 1-6 1 1 1-5 1 7 1-3 1-1 1-2 1 5 1-3 1 4 1 11 1-9 1-2 1-4 1 2 1 3 1-3 1 2 1 1 1-1 1 1 1-4 1 2 1 0 1-2 1 2 1 0 1 1 1-1 1 3 1-5 1 3 1-1 1 3 1-2 1 3 1-1 1 1 1-1 1-2 1 2 1-1 1 0 1 2 1-1 1-1 1-3 1-1 1 3 1-1 1 1 1-4 1 3 1 0 1-1 1 3 1-1 1 2 1 0 1-2 1-2 1 7 1-3 1 1 1-5 1 0 1 5 1-5 1 3 1 3 1-1 1-3 1 3 1-5 1 9 1-1 1 10 1-10 1 4 1-2 1 0 1 1 1 0 1-4 1 4 1 0 1-2 1 5 1-4 1 1 1-2 1-1 1 0 1 0 1 4 1-2 1-7 1 2 1-6 1 0 1 3 1 0 1-1 1 1 1 1 1 3 1-2 1-2 1-1 1 5 1-2 1 0 1-3 1 5 1 0 1 0 1-3 1 3 1 9 1-11 1-2 1 4 1-6 1 4 1-1 1 5 1-1 1-2 1-2 1 3 1-2 1 0 1 8 1-4 1-3 1-1 1-5 1 7 1 1 1 5 1-3 1-6 1 1 1 3 1-1 1-2 1 3 1-1 1-3 1 3 1-2 1-1 1 5 1-3 1 1 1-2 1 0 1-1 1-1 1 2 1 0 1 1 1-2 1 1 1-1 1 2 1 9 1-5 1-3 1 0 1-1 1 4 1-4 1-2 1 5 1 1 1-3 1 4 1-6 1 3 1 0 1 1 1-4 1 4 1-5 1 3 1 3 1-3 1 3 1-4 1 2"/><path vector-effect="non-scaling-stroke" stroke="#f3faac" d="M-38 863l1-2 1-1 1 1 1-3 1 5 1-11 1 3 1 7 1-9 1 7 1 0 1-7 1 5 1 7 1-3 1 0 1-3 1 3 1-4 1 1 1 6 1 1 1-3 1-5 1-1 1 1 1 2 1 3 1 1 1-1 1-3 1 4 1 4 1-14 1 10 1-4 1 2 1-763 1-11 1 1 1 2 1-5 1-2 1-2 1-9 1 12 1 1 1-4 1 3 1 0 1 1 1 2 1 0 1 2 1-2 1-2 1 2 1 2 1-2 1 1 1-2 1 2 1-3 1 4 1-12 1 16 1-5 1-3 1 1 1 1 1 0 1 0 1 0 1-1 1 0 1 1 1 2 1-1 1 2 1-1 1-2 1 2 1-8 1 5 1 0 1 4 1 0 1-2 1 1 1-2 1 1 1 3 1 1 1-1 1-2 1-2 1 0 1-1 1 4 1-1 1 1 1-2 1 4 1-1 1-5 1 3 1 0 1-2 1-1 1-1 1 2 1 0 1-1 1 2 1-3 1 6 1-5 1 2 1-1 1 4 1-2 1 1 1-4 1 4 1-5 1 0 1 4 1 1 1-3 1 3 1 1 1-4 1 6 1-3 1-1 1-1 1 4 1-3 1 1 1 0 1-2 1 2 1-3 1 2 1 0 1 0 1 1 1 0 1 2 1-2 1 1 1-1 1-2 1 1 1-1 1 2 1-3 1 2 1 1 1 1 1-2 1 2 1 0 1 4 1-4 1-1 1-1 1-1 1 3 1-1 1-1 1-1 1 5 1-1 1-4 1 1 1-1 1 2 1-2 1 4 1-1 1-4 1 3 1-2 1 6 1-7 1 4 1-3 1-2 1 3 1 5 1-3 1 1 1-3 1 3 1-3 1 3 1 2 1-5 1 1 1 5 1-6 1 0 1 2 1-1 1-4 1 5 1 1 1-3 1 0 1-3 1 2 1-4 1 5 1-3 1-1 1-4 1 7 1 2 1-2 1-1 1 1 1-1 1-5 1 11 1-6 1 3 1-7 1 11 1-7 1 3 1 1 1-1 1 1 1-1 1 3 1-5 1 7 1-7 1 4 1-4 1 2 1-2 1-2 1 2 1-2 1 2 1-2 1-1 1 5 1-2 1 0 1-1 1 0 1-1 1 0 1 4 1-5 1 1 1 2 1 0 1-3 1 0 1 2 1 0 1 2 1-1 1-3 1 4 1-2 1 1 1-1 1 2 1-2 1 2 1-3 1 4 1-6 1 5 1-4 1 6 1-7 1 3 1 1 1-2 1 2 1 2 1-2 1-1 1 1 1 2 1-4 1 7 1-9 1 4 1 1 1-1 1-1 1 3 1-4 1 2 1 0 1 0 1-1 1 4 1-3 1 0 1 1 1 0 1-2 1 1 1 0 1 2 1 2 1-5 1 2 1 0 1 1 1-1 1 0 1-1 1 2 1-3 1 0 1-3 1 3 1-1 1 1 1 1 1-1 1 1 1 0 1-1 1-3 1 4 1 0 1-1 1-3 1 7 1-1 1-3 1 0 1 0 1 0 1 0 1-3 1 3 1 1 1-3 1 2 1 0 1-2 1 2 1-2 1 1 1 1 1-1 1 1 1-4 1 3 1-1 1-3 1 3 1 0 1 3 1 1 1-3 1-2 1 0 1 2 1-1 1 2 1 1 1-2 1 3 1-3 1 1 1 1 1 1 1 1 1-4 1 3 1-3 1 3 1 0 1-1 1-2 1 0 1-6 1 18 1-12 1 1 1 0 1 0 1 0 1-2 1 4 1-2 1-1 1-2 1 2 1-1 1 1 1 0 1 1 1 0 1 0 1 1 1 1 1 3 1-5 1 2 1-1 1 1 1-4 1 0 1 3 1 4 1-3 1-1 1 0 1 1 1-3 1 4 1-7 1 4 1 1 1-1 1 4 1-3 1-1 1 2 1 3 1-5 1 3 1-2 1-3 1 2"/><path vector-effect="non-scaling-stroke" stroke="#caea9e" d="M-38 852l1 10 1-6 1 5 1-5 1 0 1-2 1 4 1 4 1 0 1-4 1-2 1 11 1-3 1-5 1 0 1-7 1 5 1 3 1 2 1-8 1-2 1 5 1-1 1-1 1 2 1 0 1-3 1 8 1-5 1-4 1 2 1-3 1 8 1-2 1-2 1 4 1-5 1-774 1-12 1 0 1 2 1-3 1-1 1 1 1 2 1-4 1 3 1 0 1 3 1-8 1 6 1 1 1-3 1 0 1 1 1 3 1-1 1 2 1-1 1 0 1 6 1-5 1-3 1 1 1 0 1 1 1 4 1-5 1 0 1-2 1 2 1 0 1 4 1-5 1 2 1-1 1 1 1 1 1-3 1 2 1 0 1 3 1 2 1-3 1-1 1 0 1 1 1 0 1-3 1 4 1-1 1-1 1 1 1-1 1 2 1-1 1 0 1-1 1 1 1-2 1 2 1 1 1-4 1 5 1-1 1-1 1-2 1 2 1 0 1 0 1-3 1 5 1 0 1-1 1 0 1-1 1 0 1-2 1 2 1-3 1 4 1 0 1-4 1 4 1-1 1-5 1 4 1-4 1 2 1 0 1 1 1 1 1 0 1 0 1-1 1-1 1 0 1 3 1 0 1 0 1 1 1-2 1 0 1 0 1 0 1-1 1 0 1 1 1 0 1 0 1 0 1 0 1 1 1-2 1-2 1 5 1-1 1 2 1 2 1-4 1 0 1-3 1 1 1 2 1-4 1 0 1 5 1-2 1 1 1-4 1 2 1 2 1-2 1 1 1-1 1 0 1 3 1-6 1 0 1 4 1 2 1-2 1-1 1 2 1-3 1 3 1 3 1-8 1 0 1 0 1 2 1-1 1 0 1 2 1-1 1 3 1-2 1-3 1 9 1-6 1 0 1 1 1-2 1 1 1-2 1 3 1 1 1-2 1-1 1 0 1 2 1-2 1 0 1 1 1 1 1 2 1 0 1-2 1 1 1-3 1-1 1 3 1-1 1 1 1-3 1 2 1 3 1 0 1 3 1-3 1 0 1 0 1 0 1 1 1 0 1-4 1 4 1 3 1-6 1 2 1-3 1 4 1-1 1 0 1 5 1-4 1 7 1-7 1-3 1 1 1 2 1-3 1 0 1 3 1-2 1 1 1-2 1 0 1 1 1-1 1 0 1-3 1 1 1 1 1-1 1-1 1-9 1 9 1 3 1-1 1-2 1-1 1 2 1 0 1 0 1 2 1 0 1-4 1 1 1 0 1-2 1 1 1-1 1 0 1 0 1 0 1 4 1 0 1 1 1-1 1-1 1 3 1-5 1 1 1 1 1 0 1-1 1 1 1 1 1-3 1 0 1 2 1-1 1-2 1 3 1-1 1 5 1-5 1 0 1-2 1 1 1-3 1 0 1 7 1-7 1 1 1 3 1 1 1-2 1-2 1 1 1 1 1-3 1 0 1-2 1 4 1-2 1 5 1-3 1 2 1-2 1 0 1 1 1-2 1-2 1 4 1 0 1 1 1-2 1-1 1 5 1-6 1 1 1 3 1-3 1-2 1 2 1 1 1-2 1 3 1 1 1 0 1-2 1 4 1-3 1-1 1 0 1 0 1 1 1-2 1 0 1 2 1 1 1 0 1-1 1 0 1 2 1 0 1-2 1 0 1 1 1 3 1-4 1 1 1-1 1 0 1 1 1 0 1 0 1-2 1 2 1 0 1 2 1-2 1-1 1 0 1 1 1-1 1 0 1 2 1-2 1 2 1-1 1 2 1-1 1 0 1 4 1-4 1-4 1 4 1-8 1 9 1-4 1 4 1 1 1 2 1-4 1 1 1-1 1-3 1 2 1 0 1 1 1-2 1 0 1 4 1-3 1 2 1-10 1 9 1-1 1 1 1-3 1 1 1 2 1-2 1 3 1-1 1 0 1 0 1 1 1 3 1-7 1-1 1 3 1 2 1-1 1-2"/><path vector-effect="non-scaling-stroke" stroke="#b3e0a2" d="M-38 863l1-2 1 8 1-9 1 0 1 4 1-1 1-5 1-1 1 0 1 9 1-3 1-2 1-1 1-5 1 6 1 8 1-12 1 4 1-2 1 2 1-7 1 7 1-1 1 2 1-6 1 2 1 3 1 0 1 1 1-1 1-2 1-4 1 3 1 2 1 5 1-8 1 6 1-788 1-9 1-1 1-1 1 3 1-1 1-2 1-1 1 0 1 1 1 4 1-6 1 4 1-2 1 0 1-3 1 3 1-1 1 4 1-1 1-2 1 0 1 3 1-3 1 1 1-1 1-2 1 3 1 1 1-5 1 6 1-2 1 0 1-2 1 1 1 0 1 3 1-1 1 1 1-2 1 0 1 3 1-2 1-2 1 3 1 0 1-2 1-2 1 5 1-15 1 14 1-1 1-8 1 9 1 0 1-1 1-1 1-1 1-1 1 1 1 3 1-3 1 1 1 3 1-3 1-3 1 3 1 5 1-7 1 2 1-1 1 2 1 0 1 1 1 0 1 0 1 2 1-4 1 1 1-3 1-4 1 1 1-1 1 3 1 0 1-3 1 3 1 1 1 1 1-5 1 4 1-1 1 6 1 2 1-2 1 0 1-1 1 0 1 3 1-2 1-1 1 0 1-1 1 0 1 0 1-1 1 4 1 0 1-1 1-3 1 1 1 2 1-3 1 1 1 2 1 1 1-1 1-5 1 2 1 2 1 0 1 1 1 0 1 1 1-1 1 3 1-2 1 0 1 6 1-7 1 0 1-7 1 5 1 1 1-1 1 2 1 6 1-10 1 2 1 0 1 0 1-2 1 2 1-6 1 8 1-1 1-2 1 2 1-2 1 2 1-4 1 3 1-3 1 4 1 0 1 1 1-3 1 0 1-3 1 3 1 0 1-2 1 3 1 2 1-2 1 1 1-2 1 1 1 1 1 2 1 0 1-5 1 0 1 2 1-1 1 1 1 3 1-2 1 2 1-3 1 3 1 0 1-1 1-1 1-3 1 3 1 1 1-2 1 0 1 0 1 2 1-2 1 1 1-1 1 0 1-4 1 1 1 6 1-5 1 2 1 2 1-4 1 1 1 2 1-1 1-1 1-2 1 2 1-1 1 2 1 2 1 1 1-1 1-3 1 0 1 1 1-1 1 2 1-2 1 1 1-2 1 2 1-3 1 3 1 1 1-1 1-1 1 2 1-3 1 3 1-1 1 0 1 0 1-4 1 3 1-2 1 1 1 1 1 0 1-2 1-1 1 1 1 0 1 1 1 0 1-2 1-1 1 6 1-2 1 0 1 0 1 0 1-2 1 2 1 1 1-3 1-1 1-2 1 7 1-1 1-2 1 2 1-5 1 4 1 0 1-1 1-4 1 2 1 3 1-2 1-1 1 0 1 1 1 1 1 2 1 4 1 0 1-5 1 2 1-2 1 1 1 0 1-2 1-2 1 3 1 1 1 3 1-6 1 5 1-1 1-2 1-1 1 0 1-2 1-5 1 1 1-9 1 10 1 0 1-2 1 2 1-3 1 13 1-12 1 0 1-3 1 4 1-3 1 8 1-7 1 0 1-1 1 1 1 1 1 1 1 1 1-2 1-1 1 0 1 7 1 6 1-7 1-1 1 0 1 0 1 2 1 1 1-6 1 6 1 0 1 1 1-1 1-2 1-3 1 7 1 5 1-5 1-2 1-4 1 2 1 0 1 1 1 2 1 3 1-5 1 0 1 3 1-3 1-1 1 0 1 0 1 0 1 1 1 3 1-2 1 2 1-3 1 0 1 1 1-4 1 3 1 1 1 1 1-4 1 2 1 0 1-2 1 3 1 2 1-3 1-2 1-3 1 6 1-2 1 3 1-2 1 1 1 0 1-5 1 6 1-7 1 8 1-2 1 0 1 2 1-5 1 3 1-1 1 2 1-1 1 1 1 7 1-7 1 0 1 2 1-4 1 1 1 0 1 4 1-3 1 1"/><path vector-effect="non-scaling-stroke" stroke="#97d5a4" d="M-38 861l1 1 1 4 1-9 1 1 1 2 1 0 1-5 1 8 1 5 1-5 1-2 1 4 1 1 1 0 1-1 1-6 1-3 1 2 1 3 1 1 1-2 1 2 1-6 1 1 1 10 1-14 1 7 1-1 1-2 1 6 1-1 1 3 1-5 1 3 1-9 1 10 1 1 1-796 1-9 1 2 1-2 1-3 1 2 1 5 1-1 1-6 1 6 1-4 1 3 1-5 1 4 1 3 1-3 1-3 1 5 1-5 1 1 1 3 1 0 1-1 1-4 1 6 1-3 1 1 1-12 1-1 1 3 1-1 1 1 1-2 1-1 1 4 1 0 1 0 1-3 1 0 1 1 1 11 1-5 1 4 1-2 1-1 1 4 1 0 1-3 1 0 1 0 1 4 1-4 1 1 1-3 1 2 1 0 1 4 1-2 1 0 1 1 1 1 1-3 1 3 1-4 1-1 1 4 1-1 1 0 1-1 1 3 1-3 1 0 1 1 1-1 1 0 1 1 1-2 1 1 1-2 1 4 1-1 1-1 1 1 1 1 1 2 1 1 1 2 1-4 1-5 1 6 1-2 1 0 1-1 1 0 1 3 1-3 1 3 1-2 1-4 1 4 1 0 1-2 1 7 1-5 1 0 1-3 1 3 1 1 1-4 1 2 1 1 1-2 1 2 1-3 1 4 1-3 1 0 1 2 1-1 1-7 1 7 1-2 1-8 1 0 1 12 1 2 1-5 1 4 1-1 1-1 1-1 1 1 1-2 1 5 1-3 1 1 1 2 1 1 1-4 1 1 1 2 1-6 1 2 1-1 1 3 1-4 1-1 1 6 1-1 1 0 1 2 1 1 1-7 1 5 1 0 1-2 1 2 1-1 1-4 1 3 1 2 1 0 1-4 1 6 1-4 1 1 1-1 1 0 1 2 1 0 1-1 1 1 1 0 1-1 1 1 1-6 1 5 1 0 1 1 1-2 1 1 1 1 1-3 1 0 1 2 1-2 1-1 1 0 1-2 1 5 1-4 1 3 1 0 1-5 1 11 1-9 1 4 1-4 1 4 1-4 1 3 1-2 1 3 1-3 1 6 1-6 1 0 1 0 1 1 1 4 1-3 1-1 1-1 1-2 1 4 1-3 1-4 1 7 1-4 1 3 1-2 1 0 1 2 1-2 1-3 1 4 1-4 1 1 1 3 1-3 1 2 1 1 1-3 1 0 1 2 1-2 1 0 1 2 1-2 1 1 1 0 1 2 1 0 1-4 1 3 1-1 1 2 1 0 1-3 1 3 1-1 1 0 1 1 1-1 1-3 1-7 1 0 1 0 1-6 1-1 1-2 1-3 1 4 1 5 1 5 1-2 1 3 1-2 1 0 1-2 1 3 1 0 1-2 1 1 1-1 1 1 1 8 1 1 1-3 1 4 1 0 1-7 1 6 1 2 1 0 1-2 1 2 1-5 1 3 1 2 1-1 1-3 1 1 1 2 1 0 1-3 1 3 1 0 1-1 1 3 1 1 1-5 1 1 1 2 1-1 1 1 1 1 1-2 1 2 1 1 1-4 1 1 1 3 1-1 1-3 1 1 1 1 1-1 1-3 1 0 1 3 1 0 1 0 1 3 1-4 1 0 1-1 1 2 1-3 1 1 1 2 1-2 1-1 1 3 1-2 1-2 1 1 1 2 1-1 1 0 1 1 1-1 1-1 1-5 1 7 1 0 1-1 1 1 1-2 1 5 1-4 1 2 1-2 1 2 1-3 1 2 1-1 1 0 1-1 1 2 1-1 1-3 1 4 1-4 1 0 1 6 1-2 1 0 1 3 1-2 1-3 1-2 1 4 1 0 1 0 1-1 1-3 1 3 1-2 1 4 1-3 1 2 1-1 1-2 1 1 1-1 1 3 1 2 1-5 1 1 1-2 1 2 1 1 1 2 1-2 1 0 1 1 1 0 1-1 1-1 1 0"/><path vector-effect="non-scaling-stroke" stroke="#86cfa5" d="M-38 867l1-2 1-9 1 5 1 3 1-3 1 1 1-1 1 3 1-2 1-3 1 4 1 2 1-6 1 2 1 4 1-8 1 8 1-4 1-2 1 8 1-1 1-7 1 5 1 0 1-5 1 4 1 0 1 4 1-9 1 8 1-8 1 4 1 4 1-4 1 6 1-7 1 0 1-795 1-8 1-4 1 1 1 0 1 0 1 1 1 0 1-1 1 1 1-1 1-1 1-4 1-8 1 12 1 0 1 1 1 0 1 0 1 0 1-2 1 2 1-2 1-1 1 2 1 2 1-5 1 0 1 3 1-1 1 0 1-3 1 5 1-2 1 1 1-1 1 1 1-4 1 6 1-2 1 0 1 1 1-6 1 8 1-1 1-1 1 3 1 0 1-2 1 1 1-1 1-1 1 2 1 2 1-3 1 1 1-2 1 3 1 1 1-2 1-3 1-2 1 4 1-2 1 3 1 1 1-1 1 0 1-2 1 2 1 0 1-1 1 0 1 3 1-1 1 0 1 1 1-6 1 1 1 0 1 2 1 3 1-4 1-1 1 3 1-2 1 1 1-1 1 0 1 1 1 0 1-1 1 2 1-2 1 1 1-3 1 7 1-4 1 1 1 1 1-8 1 5 1-6 1 7 1 3 1-3 1 5 1-5 1 2 1 0 1 2 1-5 1 8 1-10 1 5 1-2 1 0 1-2 1 3 1 0 1-1 1 1 1-1 1 2 1-2 1 1 1 1 1-2 1 0 1 3 1-2 1 1 1 8 1-8 1-6 1 5 1-3 1 5 1 1 1-4 1 1 1 1 1 0 1 2 1-3 1 3 1-2 1 0 1-1 1 3 1-2 1-1 1-1 1 0 1 1 1-1 1 1 1 1 1 1 1-2 1 1 1 0 1 1 1 0 1-2 1 4 1-6 1 3 1-9 1 0 1 0 1 2 1-1 1 1 1-3 1 1 1 4 1-3 1 2 1-2 1 0 1 0 1 0 1-2 1 1 1 3 1 1 1-3 1 1 1-1 1 3 1-4 1 2 1-2 1 8 1 0 1 2 1-3 1-2 1 2 1-2 1 3 1 0 1-3 1 5 1-2 1 4 1-5 1 0 1-1 1-1 1 2 1 1 1-3 1 2 1 2 1-4 1 4 1-2 1-1 1 4 1-4 1 1 1 0 1 1 1-5 1 3 1 0 1 0 1 0 1 1 1-1 1-3 1 3 1 0 1-1 1 4 1-5 1-4 1 5 1 0 1-1 1 3 1-3 1-1 1 2 1 1 1-2 1 2 1-1 1-1 1 2 1 0 1-1 1 0 1-1 1 12 1-2 1-1 1-2 1 4 1-1 1 0 1-1 1-1 1 1 1 1 1 1 1-1 1-4 1 4 1-7 1-3 1 0 1-1 1 0 1 2 1-1 1 2 1 0 1-3 1 0 1 17 1-6 1 10 1-11 1 1 1 3 1-2 1-2 1 2 1 2 1-2 1-1 1 4 1-1 1 0 1-6 1 7 1 1 1-4 1-8 1 1 1-1 1-1 1-1 1 0 1 5 1-1 1 3 1-6 1 0 1 0 1 1 1-6 1 5 1 2 1-1 1 2 1-1 1 0 1 2 1-1 1-4 1 3 1 0 1-2 1 2 1-3 1 0 1 0 1 6 1-5 1 2 1 2 1 0 1-3 1 1 1 2 1-2 1-1 1-1 1 0 1 1 1 2 1 0 1-3 1 2 1 1 1 1 1 2 1-7 1 10 1-7 1 3 1-2 1 8 1-11 1 4 1-2 1 0 1 0 1-1 1 2 1 0 1-2 1 2 1-1 1 1 1-2 1 3 1 3 1-10 1 3 1 1 1 1 1-1 1 3 1-4 1 4 1 0 1-2 1 4 1-6 1 7 1-9 1 3 1 3 1-2 1 0 1-3 1 5 1-4 1 0 1 1 1 1 1 1 1-1 1-2 1 0 1 0"/><path vector-effect="non-scaling-stroke" stroke="#6bc4a5" d="M-38 854l1 1 1-5 1 10 1-5 1-1 1-1 1-6 1 9 1-2 1-1 1 1 1 7 1-9 1 4 1-7 1 5 1 5 1-5 1-2 1 3 1 2 1-3 1-3 1-3 1 7 1-1 1 1 1 3 1-2 1 5 1-4 1 2 1-6 1-2 1 4 1-4 1 2 1-792 1-7 1 0 1 7 1-4 1-4 1 0 1 1 1 5 1-8 1 0 1 1 1 4 1-4 1 2 1 8 1-8 1 0 1-2 1 3 1-3 1 5 1 0 1-2 1 3 1-3 1 1 1 0 1-1 1-2 1 1 1 1 1-2 1 2 1 1 1-3 1-4 1 7 1-2 1 0 1 4 1-3 1-3 1 3 1 3 1-6 1 5 1-2 1-3 1 0 1 4 1-3 1-3 1 5 1-1 1-1 1-2 1 8 1-7 1 1 1 0 1 1 1-1 1 0 1 1 1 2 1-2 1-3 1 2 1-6 1 6 1 2 1-2 1 3 1 0 1-3 1-2 1 4 1-2 1-1 1 3 1-1 1-4 1 2 1 4 1-3 1-4 1 6 1-2 1 1 1-2 1-1 1 8 1-12 1 4 1 1 1 0 1-1 1 0 1 2 1 0 1-1 1 1 1-1 1 1 1 1 1-3 1 2 1-7 1 0 1 6 1 2 1-3 1-4 1 6 1 0 1-1 1 0 1 2 1-4 1-1 1 2 1-3 1 4 1 0 1-1 1-1 1 0 1 1 1 0 1 0 1-2 1 0 1 0 1 1 1 4 1-3 1 0 1 0 1 1 1-2 1 0 1 1 1 0 1-2 1 0 1 2 1-2 1 4 1-1 1-10 1-2 1 1 1 2 1 0 1-3 1 11 1-3 1 0 1 2 1-2 1-2 1 3 1 1 1-1 1 0 1 2 1-1 1-1 1 0 1 0 1 3 1-3 1 0 1-2 1 1 1 2 1 1 1-3 1 2 1 0 1-1 1 2 1-1 1 1 1-2 1 2 1 0 1-2 1 5 1-4 1 3 1 4 1-6 1-1 1 0 1 0 1 8 1-6 1-2 1 2 1-1 1-3 1 3 1 0 1-1 1 0 1-1 1 5 1-4 1 2 1-3 1-11 1 12 1-1 1 3 1 0 1-4 1 1 1 3 1-3 1 1 1 1 1 1 1-3 1 0 1 0 1 1 1-2 1 1 1-2 1 8 1-11 1 7 1-2 1-1 1 1 1-2 1 3 1-3 1 4 1 0 1-1 1-2 1 1 1 2 1-1 1 1 1-1 1 0 1 1 1-1 1 1 1 0 1-1 1 0 1-1 1 3 1 1 1-2 1 0 1-2 1 0 1 1 1 0 1-1 1-1 1 2 1-1 1 0 1 3 1-3 1 0 1 1 1 1 1 1 1-4 1 4 1-4 1 3 1-2 1 0 1 3 1-1 1-2 1 2 1 1 1-1 1-1 1 0 1 0 1 0 1 1 1 0 1-1 1-1 1 2 1 0 1-1 1-1 1 2 1 1 1-1 1 5 1-5 1-2 1 2 1 3 1-2 1 0 1 0 1 0 1-2 1 3 1-5 1 6 1-6 1-1 1 3 1-4 1 3 1 0 1-8 1 8 1-2 1 2 1-2 1 3 1-1 1 1 1-3 1 2 1 0 1-1 1 1 1-1 1-7 1 7 1 8 1-8 1 1 1 1 1-1 1 3 1-5 1 3 1-2 1-1 1 0 1 2 1 1 1 1 1-3 1 0 1 2 1-2 1 5 1-5 1 3 1 2 1-5 1 3 1 1 1-3 1 2 1-1 1 0 1-2 1 3 1 3 1-2 1-4 1 2 1-1 1 2 1-1 1 2 1-3 1 3 1-3 1 0 1 1 1 5 1-5 1-2 1 3 1-2 1 1 1 0 1-2 1 4 1-1 1-5 1-2 1 6 1-1 1 2 1-1 1 1 1-1 1 1"/><path vector-effect="non-scaling-stroke" stroke="#5cb7aa" d="M-38 856l1-7 1 13 1-8 1-1 1-3 1 8 1-3 1-2 1-2 1 7 1-6 1 4 1 0 1 0 1 6 1-4 1 0 1-3 1 0 1-4 1 5 1-9 1 7 1 5 1-9 1 1 1 9 1-6 1-5 1 6 1-3 1 0 1 9 1-3 1-3 1-4 1 5 1-799 1-11 1-1 1 3 1-3 1 2 1-3 1 2 1-3 1 4 1 0 1-4 1 4 1-2 1-1 1-3 1 1 1 3 1 2 1 0 1-1 1 0 1 0 1 6 1-7 1 2 1-1 1 3 1 0 1-4 1 2 1 0 1 3 1-2 1 0 1-3 1 5 1-2 1 0 1 0 1 0 1 0 1-1 1-1 1 0 1 2 1 0 1-2 1 4 1-2 1 1 1-2 1 0 1 1 1-2 1 0 1 1 1 2 1-2 1-2 1 2 1-6 1 4 1 3 1-1 1-2 1 1 1-3 1 4 1-4 1 3 1 1 1-3 1-6 1 10 1-2 1 1 1-3 1 3 1 0 1-1 1 1 1-4 1 1 1 6 1-2 1-1 1-1 1 3 1-8 1 6 1 1 1-2 1-1 1 1 1 2 1-2 1-1 1 0 1-2 1 4 1 1 1-2 1 0 1 2 1-1 1-2 1 3 1-1 1 0 1-1 1 0 1 2 1-6 1 4 1 2 1 0 1-3 1 3 1-3 1 1 1 2 1 0 1-5 1 3 1-2 1 6 1-5 1 2 1 0 1 0 1-2 1 2 1-2 1 4 1-3 1 3 1-1 1 2 1-5 1 2 1 0 1 0 1-3 1 2 1 3 1-1 1-3 1 1 1 8 1-6 1 1 1-1 1-1 1 1 1-2 1 4 1-1 1 0 1 0 1 1 1-6 1 4 1-2 1 1 1 0 1 0 1 0 1 1 1-3 1 3 1 0 1-2 1 4 1-4 1 1 1 0 1 1 1 0 1-1 1 0 1 0 1-2 1 0 1 2 1 1 1 0 1-1 1 7 1-5 1 7 1-10 1 2 1 2 1-1 1 0 1-4 1 4 1 3 1-3 1 1 1-1 1 3 1-3 1 1 1 1 1-7 1 6 1-3 1 2 1 1 1-2 1 2 1-2 1 0 1 0 1 2 1-6 1 5 1 1 1-5 1 7 1-7 1 3 1 0 1 2 1 3 1-4 1-1 1-2 1 2 1-3 1 5 1-8 1 5 1 2 1-2 1 2 1-1 1 0 1 1 1-1 1-1 1 3 1 1 1-1 1-2 1 1 1 1 1-1 1 1 1 1 1 1 1-2 1 0 1 1 1-3 1 0 1 0 1 0 1 2 1-2 1 1 1 0 1-1 1 0 1 1 1-1 1 1 1 0 1 2 1 0 1 2 1-5 1 5 1-3 1-4 1 0 1 2 1-6 1 5 1 1 1-1 1 0 1 1 1 0 1-1 1 11 1-8 1-4 1 2 1-1 1 2 1 0 1-1 1 0 1-1 1 3 1-6 1 3 1-2 1 3 1-1 1 0 1 0 1 2 1 0 1-3 1-1 1-1 1 3 1-2 1 2 1 4 1-3 1 1 1-2 1-2 1 2 1-1 1 0 1 5 1-12 1 8 1-1 1 1 1-3 1-1 1 1 1 3 1-3 1 0 1 1 1 1 1-1 1 2 1 1 1-1 1 0 1-3 1 2 1-1 1 3 1-4 1 4 1-4 1 1 1-1 1 11 1 0 1-2 1 1 1-1 1 1 1-1 1 3 1-1 1-1 1-1 1-2 1 3 1-4 1 5 1-2 1 1 1-2 1 0 1 1 1 1 1 1 1 0 1-3 1 4 1-3 1 2 1 0 1-3 1 2 1 1 1 0 1 0 1 0 1 1 1-2 1 3 1-10 1-5 1 5 1-1 1-4 1 4 1-5 1 4 1-2 1 2 1-1 1 1 1-2"/><path vector-effect="non-scaling-stroke" stroke="#459eb4" d="M-38 857l1-1 1-1 1 4 1-5 1 10 1-7 1 2 1-10 1 7 1 2 1-4 1-1 1 1 1 1 1 6 1 1 1-3 1-4 1 4 1-7 1 4 1-4 1 5 1-1 1 3 1-2 1-9 1 5 1 3 1 2 1-3 1 6 1-7 1 4 1 2 1-8 1 5 1-806 1-12 1 0 1 4 1-3 1-2 1 6 1-2 1-1 1 0 1 2 1-2 1 0 1 0 1-3 1 3 1 1 1-8 1 8 1 1 1-4 1 1 1-2 1 0 1 5 1-5 1 3 1-5 1 5 1-3 1 4 1-1 1 1 1 0 1-3 1 2 1 1 1 1 1-2 1 2 1-1 1-1 1-1 1 0 1 0 1-2 1 5 1-3 1-1 1 4 1-2 1-1 1 1 1-1 1-2 1 1 1 1 1-1 1 0 1 1 1-1 1 0 1 1 1-2 1 4 1-2 1-1 1 0 1 0 1 0 1 4 1-3 1 2 1 0 1 0 1 0 1-1 1-2 1 1 1 1 1 1 1-1 1 0 1 0 1 1 1-1 1-4 1 2 1-3 1 5 1-1 1-1 1-1 1 2 1 0 1-3 1 0 1 2 1 3 1-3 1 1 1 0 1-1 1 0 1 0 1 1 1-1 1 0 1-1 1 2 1 1 1 2 1-4 1 3 1 6 1-8 1-1 1 0 1-1 1 4 1-2 1 2 1-1 1-1 1 1 1-1 1 2 1-1 1 1 1-3 1 3 1-1 1-1 1 0 1 1 1-1 1 0 1 0 1-2 1 2 1 0 1 3 1-3 1-1 1-1 1 0 1 2 1-1 1-6 1 4 1 0 1 1 1 2 1 0 1 0 1-1 1 3 1-4 1 2 1 2 1-2 1 1 1 0 1 0 1-1 1 1 1-2 1 4 1-2 1 0 1 0 1 1 1-1 1 0 1 0 1-2 1-1 1 2 1 1 1-2 1-1 1 3 1-1 1 3 1-1 1-1 1-1 1 3 1 0 1-1 1-1 1 2 1-1 1-1 1 1 1-1 1 0 1 2 1-1 1 1 1-3 1 1 1 0 1 2 1-3 1 0 1 4 1-3 1 1 1-2 1 1 1 0 1 4 1-2 1-3 1 0 1 2 1-2 1 2 1-1 1 0 1 0 1-1 1-2 1 3 1 1 1 0 1-2 1 2 1-5 1 5 1 1 1-4 1 3 1 0 1-3 1 0 1 1 1 2 1 3 1-1 1-3 1-1 1 4 1-2 1 1 1 1 1 1 1-4 1 1 1-1 1 0 1 2 1-3 1 1 1 2 1-3 1 2 1-2 1 3 1 0 1 1 1-2 1-1 1 0 1 2 1 0 1-2 1 1 1-1 1 2 1 4 1-1 1-1 1 0 1 0 1-1 1 2 1-1 1 1 1 0 1 2 1-2 1-1 1-1 1-1 1 2 1 5 1-4 1-6 1 3 1 4 1 0 1 1 1-1 1-1 1-1 1 3 1-2 1 1 1-2 1 1 1 0 1 2 1-3 1-1 1 2 1 0 1 1 1-10 1 5 1-7 1 1 1 1 1 1 1-2 1 1 1-2 1 0 1 0 1 1 1 4 1-5 1 10 1-2 1-2 1 0 1 0 1 1 1 2 1-1 1-1 1 2 1-2 1-1 1-1 1 5 1-2 1-3 1 4 1 0 1 0 1-3 1 2 1-1 1 0 1 1 1-2 1 5 1-6 1 4 1-3 1 0 1-5 1 1 1 1 1 0 1-5 1 7 1-1 1-2 1 1 1-1 1 9 1 2 1-2 1 3 1-4 1 3 1 2 1 1 1-3 1 2 1 3 1-1 1-1 1 0 1-1 1 4 1-2 1-2 1 4 1-3 1 2 1-4 1 3 1 1 1-2 1 1 1 0 1 0 1 0 1 1 1-1 1 2 1-6 1 8 1-2 1-1 1 1 1-10"/><path vector-effect="non-scaling-stroke" stroke="#3387bc" d="M-38 863l1-9 1 7 1-4 1 0 1 3 1 4 1-2 1-2 1-6 1-4 1 9 1-1 1-104 1 0 1 102 1 4 1-6 1 7 1-1 1-8 1 9 1 0 1 2 1 1 1-9 1 6 1-4 1 3 1 0 1-1 1-8 1 9 1-1 1-2 1 2 1-2 1 5 1-817 1-9 1-1 1 3 1-4 1 1 1 3 1-2 1 0 1-4 1 3 1 2 1-1 1-1 1 0 1 3 1-3 1 1 1-1 1 2 1-5 1 4 1-3 1 1 1-1 1 1 1-1 1 1 1 0 1 3 1-2 1 1 1-1 1 0 1 0 1 0 1 1 1-3 1 1 1 1 1-3 1 3 1-1 1 1 1 2 1-4 1-1 1 2 1 2 1-1 1 1 1-1 1-3 1 1 1-1 1 2 1 0 1-1 1 11 1-4 1 4 1-7 1 2 1 1 1 2 1-1 1 1 1 1 1 2 1-5 1-3 1 3 1-8 1 1 1-2 1 0 1 2 1 0 1 1 1-2 1 1 1-1 1 5 1-4 1 0 1 2 1-2 1-3 1 2 1 2 1-2 1 0 1 2 1 0 1-4 1 3 1 1 1-3 1 2 1 1 1-3 1 0 1 2 1-4 1 4 1 1 1 0 1-4 1 6 1-2 1 0 1-1 1 6 1 0 1-5 1 2 1-1 1-1 1 2 1 3 1-1 1-1 1 0 1 0 1-2 1-3 1 2 1-3 1 0 1 3 1 2 1-1 1 1 1-2 1 0 1-1 1 7 1-5 1-2 1 1 1 0 1-1 1 1 1 4 1-2 1 1 1-3 1 2 1-7 1 5 1-1 1 0 1-2 1 1 1-1 1 1 1 0 1 2 1 0 1-2 1 0 1 1 1-1 1 1 1 4 1-2 1-2 1-1 1 3 1-1 1 4 1-3 1-2 1 2 1-2 1 1 1 3 1-2 1 1 1-1 1 2 1-2 1 0 1-2 1 3 1 1 1-3 1 3 1 0 1-3 1 3 1-2 1 2 1-3 1-1 1 5 1-5 1 2 1-2 1 4 1-7 1 6 1-2 1 1 1-1 1-1 1 1 1 3 1-2 1 0 1 3 1-1 1 0 1 0 1 1 1-4 1 2 1-1 1 3 1-2 1 1 1 0 1-1 1-2 1 2 1 3 1-7 1 2 1 7 1-7 1-5 1 8 1 0 1 2 1 0 1-2 1-1 1-3 1 1 1-2 1 1 1-2 1 5 1-4 1-1 1 1 1 2 1-4 1 0 1 0 1 0 1 4 1-3 1-2 1-1 1 1 1 1 1 1 1 0 1 0 1 3 1 1 1 0 1 0 1-3 1 3 1-5 1 5 1 0 1 0 1-1 1 1 1-2 1 1 1 0 1 0 1 3 1 1 1-1 1-1 1-1 1 1 1 0 1-2 1 1 1-2 1 3 1 0 1 1 1-4 1 3 1 0 1-2 1 1 1 0 1-1 1 3 1-1 1 0 1-1 1 0 1 1 1-1 1 0 1 3 1-3 1 4 1-6 1 3 1-2 1 2 1 2 1 2 1-7 1 3 1 3 1-3 1 0 1-2 1 1 1 1 1 0 1-1 1 2 1 0 1-5 1 5 1-11 1 10 1 0 1 1 1-1 1 3 1-3 1 0 1 0 1 1 1 2 1-2 1 2 1-3 1 2 1-1 1 2 1 0 1-4 1 0 1-1 1 2 1 0 1 0 1-2 1 0 1 2 1 0 1 2 1-1 1-3 1-2 1 2"/><path vector-effect="non-scaling-stroke" stroke="#3f77b5" d="M-38 864l1-3 1 0 1 4 1-1 1-8 1 3 1-3 1 8 1-1 1-3 1-1 1 2 1 0 1 0 1 0 1 3 1-2 1-3 1-119 1 0 1 118 1 0 1-1 1 2 1 0 1 1 1-6 1 6 1-5 1-2 1 1 1 7 1-9 1 2 1 5 1 0 1 5 1-825 1-13 1 3 1 0 1 0 1-3 1 1 1-1 1 0 1 2 1 0 1-2 1 2 1 1 1 3 1-4 1 0 1-3 1 3 1 0 1 1 1-2 1 4 1-2 1 0 1-1 1-1 1-7 1 3 1-7 1 2 1 5 1-1 1 1 1-2 1-1 1 1 1 1 1-2 1 1 1-4 1 2 1 3 1 1 1-3 1 1 1-2 1 0 1 2 1-1 1 2 1-3 1 2 1-1 1-5 1 5 1 0 1-1 1 2 1 0 1 0 1 1 1 0 1-1 1-1 1-1 1 6 1 5 1-3 1 0 1-1 1 3 1 0 1-3 1 4 1-3 1 1 1 1 1-2 1 3 1-3 1 0 1 1 1-1 1 2 1-4 1 0 1 1 1 1 1 1 1-3 1 0 1 1 1 0 1 2 1 1 1 0 1-3 1 2 1 0 1 1 1-4 1 2 1-1 1-7 1 7 1 0 1 0 1 1 1 2 1-2 1-4 1 4 1-2 1 2 1-6 1 7 1-3 1-2 1 5 1-2 1-2 1 3 1-5 1 6 1-2 1 1 1 4 1-4 1-1 1 1 1-3 1 3 1 1 1-2 1 1 1-1 1 0 1 5 1-3 1-1 1 0 1 2 1-2 1 4 1-2 1-5 1 4 1-3 1 4 1-2 1 1 1 0 1-1 1 1 1 0 1-1 1-1 1 2 1 2 1 1 1-1 1 0 1-1 1 1 1-2 1 0 1 0 1 0 1 0 1 1 1-2 1 2 1 0 1-1 1 0 1-1 1 0 1 6 1-7 1 1 1-1 1 1 1-10 1 10 1 0 1 2 1-2 1-1 1-1 1 8 1-4 1-2 1-1 1-2 1 2 1 2 1 1 1-1 1 1 1-3 1 1 1 2 1 0 1 0 1-4 1 3 1-1 1 1 1 1 1 1 1-2 1 1 1-1 1 0 1 1 1-4 1 5 1-4 1 3 1-1 1-2 1 3 1-2 1-2 1 2 1 0 1 1 1 2 1-2 1 1 1-1 1 1 1-1 1-1 1 3 1-2 1 2 1 0 1-1 1 1 1-1 1 1 1 0 1-2 1 3 1-1 1-2 1 3 1-3 1 2 1 0 1-1 1 0 1 1 1 1 1-5 1 0 1 3 1-1 1 2 1 1 1-2 1 0 1 0 1 1 1 1 1 1 1-3 1 1 1 2 1-1 1-1 1-1 1 0 1 2 1-1 1 2 1-3 1 0 1 2 1 0 1-4 1 1 1 2 1 2 1-2 1-1 1 0 1 0 1 1 1 0 1-1 1 0 1-1 1 2 1 1 1 1 1-2 1 0 1 1 1 1 1-4 1 2 1 0 1 3 1-1 1 0 1-3 1 1 1-2 1 2 1 1 1-5 1 5 1 1 1 1 1-1 1 0 1 0 1 0 1 1 1 2 1-2 1-1 1 6 1-5 1-2 1 2 1-2 1 2 1 0 1 0 1-2 1 0 1 0 1 1 1 2 1 1 1-3 1-1 1 2 1-1 1-1 1 4 1-1 1-4 1 1 1 1 1 1 1 1 1-3 1 2 1 1 1 0 1-2 1 0 1 1 1-2 1-1 1 4 1-3 1 1 1 2 1-1 1-1 1 0 1-1 1 0 1 3 1-2 1 1 1-2 1-1 1 2 1 1 1 0 1-1 1 0 1-1 1 0 1-2 1 6 1-7 1 5 1-1 1-2 1-4 1 7 1-4 1 3 1-2 1-7 1 6 1-1 1 3 1-3 1 1 1 4 1-3 1-1"/><path vector-effect="non-scaling-stroke" stroke="#4b68ae" d="M-38 859l1-5 1 3 1-5 1 5 1-10 1 1 1 2 1 4 1-3 1 0 1 4 1-4 1 4 1-1 1 6 1-9 1 4 1 0 1-4 1 6 1-6 1-2 1 6 1-3 1 3 1-4 1-3 1 10 1-8 1 2 1-2 1 4 1-6 1 4 1 4 1 0 1-7 1-816 1-11 1 0 1-1 1 3 1-2 1-1 1-3 1 4 1-1 1-2 1-1 1 5 1-3 1-1 1-5 1 4 1 2 1-2 1-1 1 3 1 0 1 0 1 3 1-4 1 0 1 3 1-3 1 3 1-1 1-1 1 3 1-4 1 3 1 3 1-3 1 0 1 0 1 0 1-2 1 1 1 1 1 0 1-1 1 0 1 1 1-4 1 3 1-5 1 2 1-2 1-3 1 2 1 2 1 2 1 3 1 0 1-2 1-1 1 4 1-3 1 3 1-1 1-2 1 2 1-3 1 4 1 0 1-1 1-1 1 1 1 0 1-1 1-1 1 0 1 0 1 1 1 1 1 1 1-1 1-1 1-2 1 5 1-1 1-2 1 1 1 0 1 0 1 1 1-1 1-1 1 2 1-4 1 2 1 0 1 0 1 2 1 2 1-2 1 1 1 0 1-1 1-1 1-1 1 3 1-1 1 0 1 3 1-4 1 1 1 2 1-1 1-2 1 3 1-2 1 2 1-2 1 1 1-3 1-1 1 3 1 0 1-1 1-2 1 2 1-1 1 3 1-1 1 1 1 0 1-3 1 11 1-2 1 1 1 0 1-1 1 3 1-2 1 2 1 0 1-5 1 3 1 1 1 0 1 0 1-1 1-9 1 3 1 2 1-1 1-3 1 1 1-10 1 4 1-1 1-3 1 10 1-1 1 0 1 1 1 0 1 1 1-3 1 3 1-4 1-3 1 6 1-1 1 0 1 0 1 1 1 0 1 0 1-1 1 2 1-1 1 3 1-2 1-3 1 1 1 2 1-5 1 6 1-4 1 5 1-2 1 2 1-3 1 2 1-2 1-1 1 1 1 0 1 0 1-1 1 0 1 1 1-2 1 2 1-1 1 2 1-1 1-5 1 4 1 1 1 0 1 1 1 0 1-3 1 1 1 1 1 0 1-2 1 2 1 0 1 0 1 0 1 0 1-1 1 1 1 1 1 0 1 2 1-6 1 3 1 3 1-3 1-2 1 3 1 5 1-4 1-2 1 2 1 0 1-2 1 2 1 3 1-4 1-2 1 2 1-1 1 0 1 1 1 0 1 4 1-3 1-2 1 0 1 2 1 0 1-1 1 1 1-1 1-1 1 3 1-6 1 5 1 0 1-2 1 0 1 0 1 1 1 0 1 0 1-1 1 2 1-3 1-1 1 3 1-9 1 8 1 2 1-2 1-3 1 1 1 4 1-3 1-1 1 3 1 1 1-3 1 0 1 0 1 1 1 2 1-2 1-1 1 0 1-2 1 1 1 2 1-2 1 1 1-1 1-1 1 2 1-1 1-1 1 1 1 3 1-4 1 1 1 1 1 1 1-1 1-2 1 1 1 4 1-4 1 0 1 1 1 2 1-1 1-1 1 0 1-1 1 2 1-3 1 5 1-2 1-1 1 0 1-1 1 2 1-4 1 3 1 2 1 1 1-4 1 0 1 1 1-1 1 0 1-1 1 2 1 8 1-8 1-2 1 0 1 3 1 0 1 0 1-1 1 1 1 1 1-1 1 0 1-2 1 2 1-1 1 0 1 0 1 2 1-1 1 0 1 2 1-4 1 1 1 2 1-3 1 1 1-4 1 1 1 0 1-2 1 0 1-1 1 2 1-4 1 3 1 0 1 1 1-1 1 0 1 0 1 3 1-2 1 1 1-4 1 2 1 4 1-4 1-1 1 2 1-1 1-2 1 4 1-3 1 0 1-1 1-5 1 8 1 0 1-2 1 1 1 4 1 0 1-1 1 0 1 1 1 0"/><path vector-effect="non-scaling-stroke" stroke="#555aa7" d="M-38 852l1 0 1 0 1-2 1 2 1-3 1 0 1-3 1 8 1-1 1 3 1-6 1 3 1 5 1-9 1 4 1-3 1 7 1 1 1-6 1-2 1 9 1-6 1-38 1 0 1 34 1 1 1 5 1-3 1 0 1 2 1-3 1 5 1 2 1-1 1-2 1-3 1-3 1-822 1-13 1 5 1-5 1 2 1 3 1-5 1 2 1 0 1 2 1-1 1 2 1 1 1-4 1 1 1 0 1 2 1-1 1 1 1-4 1 4 1 0 1-2 1 1 1 1 1-1 1-2 1 3 1 0 1 0 1-1 1 0 1-1 1-1 1 3 1 0 1 2 1-6 1 2 1 3 1-3 1 1 1 0 1 0 1 2 1-4 1 2 1 2 1-1 1-2 1 0 1-2 1 4 1 0 1-3 1 1 1 1 1 0 1-2 1 1 1 2 1-3 1 1 1 1 1-1 1-3 1 4 1-2 1-1 1 4 1-2 1 2 1-2 1-2 1 3 1-4 1 2 1 1 1-2 1 1 1 0 1-1 1 1 1 0 1 7 1-6 1-2 1 0 1 3 1-3 1 2 1-2 1 0 1 1 1 0 1-1 1 2 1 0 1 1 1-2 1 2 1-3 1 4 1 0 1 1 1-2 1-2 1 1 1 0 1-5 1 3 1-1 1 4 1-1 1 1 1 1 1-3 1-1 1 2 1-2 1 0 1 0 1 0 1 2 1-1 1 1 1-1 1-3 1 2 1 3 1-1 1-1 1 1 1 8 1-1 1 1 1 2 1 0 1-2 1 0 1-2 1 1 1 2 1-2 1-9 1-2 1 4 1-1 1 0 1 4 1-9 1 7 1 0 1-2 1-1 1 5 1-3 1 2 1-3 1 0 1-1 1 4 1-2 1 0 1 1 1 0 1-3 1 3 1-3 1 3 1 0 1 0 1 1 1-2 1 1 1 2 1-3 1 1 1-1 1 0 1 2 1 0 1 0 1-2 1 3 1-3 1 3 1-4 1 0 1 4 1-2 1 0 1-1 1 2 1 0 1-3 1 2 1-1 1 1 1-2 1 0 1 0 1 1 1-2 1 2 1 0 1 0 1 0 1 0 1 1 1-2 1-5 1 4 1 3 1-1 1 0 1 2 1-2 1 0 1 1 1 0 1-3 1 2 1 3 1-3 1 2 1-4 1 1 1 0 1-7 1 2 1-3 1-1 1 2 1-1 1 2 1-2 1 0 1 1 1 1 1-2 1 1 1-1 1 3 1 2 1-4 1 1 1-1 1-1 1 3 1-4 1 1 1 3 1 1 1-9 1 8 1-3 1-1 1 11 1 0 1-1 1 2 1-2 1 0 1-1 1 1 1 3 1-4 1 1 1-1 1 2 1-2 1 2 1-1 1-1 1-1 1 2 1 0 1-1 1 2 1 1 1-2 1 3 1-2 1-1 1 0 1 0 1 1 1-1 1 1 1 1 1-2 1 1 1 0 1-1 1 2 1-3 1 3 1-1 1 1 1 1 1-2 1 2 1-3 1 2 1 2 1-2 1 2 1 0 1 3 1-1 1-1 1-2 1 2 1 1 1-3 1 2 1 1 1-2 1 3 1-6 1 0 1-2 1 3 1 0 1-2 1 1 1 1 1-4 1 1 1 0 1 1 1-2 1 3 1-2 1-2 1 4 1-1 1-3 1 3 1 1 1-1 1-4 1 4 1-1 1 2 1-3 1 2 1-1 1 2 1-3 1 2 1 0 1-2 1 2 1 1 1-1 1 0 1-2 1 2 1 1 1-1 1-3 1-3 1 0 1 2 1-2 1-1 1 6 1 0 1 1 1-1 1-5 1 4 1-2 1 4 1-1 1-3 1 3 1 0 1-1 1-1 1-1 1 3 1 1 1-1 1-1 1 0 1 2 1-6 1 5 1 3 1-2 1 0 1-3 1 1 1 1 1 1 1-4 1 2 1 0"/><path vector-effect="non-scaling-stroke" stroke="#5e4fa2" d="M-38 860l1-6 1 1 1-2 1 0 1-2 1 8 1-4 1 0 1 7 1-4 1-9 1 6 1-1 1 4 1 2 1-7 1 9 1-6 1-1 1 10 1-7 1-2 1-2 1 6 1-7 1 5 1-2 1-1 1 1 1 3 1-4 1 4 1-4 1-1 1-2 1-3 1 12 1-840 1-12 1-2 1 0 1-2 1 2 1-1 1 2 1-1 1-1 1 3 1-3 1 4 1-5 1 2 1 2 1-2 1-1 1 0 1 0 1 1 1-4 1 3 1 1 1 1 1-1 1-5 1 5 1 0 1 2 1-2 1 0 1-2 1 3 1 0 1-3 1-1 1 4 1 0 1-2 1-1 1 3 1 0 1-2 1 2 1-3 1 5 1-1 1-1 1 0 1 2 1 1 1 0 1-2 1-2 1 1 1 2 1-2 1 2 1-3 1 3 1-4 1 2 1-1 1 4 1 0 1-1 1-2 1 3 1-1 1-4 1 2 1 1 1 0 1-1 1 0 1 1 1 2 1-3 1 0 1 3 1-3 1 0 1 2 1 1 1 2 1-4 1 2 1-1 1 2 1-1 1-1 1 0 1 2 1-2 1 4 1-2 1 0 1 1 1-2 1-1 1 2 1-4 1 3 1 3 1-4 1 1 1 0 1 0 1 0 1 3 1-2 1 0 1 1 1 0 1-2 1-1 1 1 1 0 1 1 1-2 1 3 1-2 1 2 1 0 1 0 1-1 1 3 1-5 1 1 1 2 1-2 1-1 1 0 1 1 1 1 1 0 1 0 1 2 1 3 1-4 1-1 1-1 1-1 1-2 1 4 1 1 1-3 1 0 1 0 1 6 1-3 1-6 1 5 1 1 1 0 1-1 1 8 1-6 1 6 1-3 1 0 1-2 1 5 1-3 1 2 1 0 1-2 1 1 1 1 1-1 1 2 1-2 1-1 1 0 1 1 1-5 1-1 1 0 1-1 1 0 1 2 1 0 1-8 1 5 1-1 1 3 1-2 1 3 1 0 1-2 1 2 1-1 1 0 1-1 1 0 1 2 1-2 1 1 1 0 1 4 1-4 1-1 1 1 1 0 1 1 1-1 1-1 1 2 1 0 1 0 1 1 1 0 1-5 1 6 1-2 1 0 1 0 1 1 1-1 1 0 1 2 1-4 1 2 1 1 1-1 1 2 1 0 1-2 1 2 1 2 1 1 1-5 1-1 1 0 1-3 1 4 1 4 1-1 1-2 1 3 1-1 1-1 1-1 1 0 1-3 1 2 1 2 1-2 1 2 1 1 1-4 1 3 1 1 1-3 1 1 1-2 1 3 1 2 1-4 1 2 1-3 1 2 1-3 1 2 1-2 1-1 1 1 1 1 1-1 1 0 1 2 1-4 1 7 1-4 1 0 1-1 1 1 1-1 1 0 1-1 1 3 1 1 1-1 1-1 1-1 1 1 1 1 1 1 1-1 1-2 1 1 1-2 1-1 1 3 1 1 1-1 1-1 1 3 1-1 1-4 1 5 1-2 1 2 1-2 1-2 1 2 1 0 1 2 1-5 1 5 1-1 1-2 1-1 1 2 1-1 1 0 1 1 1 5 1-5 1 1 1-3 1 1 1 0 1-1 1 1 1 2 1-3 1 0 1 2 1-2 1 1 1 1 1 2 1-3 1-2 1-1 1 2 1-1 1 2 1 1 1-2 1 0 1 1 1 0 1 1 1 0 1-1 1-2 1 0 1 8 1-6 1 0 1 1 1 0 1-2 1 1 1-1 1 1 1 2 1 0 1-2 1 3 1-2 1-6 1 6 1-3 1 1 1 1 1 1 1-3 1 0 1 2 1-3 1 0 1 2 1 2 1-1 1-1 1 0 1 0 1-2 1 1 1 2 1-3 1 2 1-2 1 1 1 1 1-3 1 2 1-1 1 0 1-1 1 0 1 1 1-1 1 0 1 1 1 2 1-2"/></g><clipPath id="cm"><rect x="792" y="560" width="806" height="442"/></clipPath><clipPath id="ci"><rect x="1113.3" y="553.7" width="511" height="358.9"/></clipPath></defs>
<g clip-path="url(#cm)"><use href="#tr" stroke-width="3.3" transform="matrix(1.8390 0 0 -0.4797 861.90 1001.50)"/></g>
<rect x="1045.8" y="857.6" width="551.7" height="143.9" fill="#a0a0a0" fill-opacity="0.45" stroke="#000" stroke-width="1.4" stroke-dasharray="5.5 3.5"/>
<path d="M782.3 569.8H1114M792 569.8V1001.5H1597.5" fill="none" stroke="#000" stroke-width="1.3"/>
<text transform="translate(754.4 1009.1) scale(1.150 1)" font-size="23">0</text>
<text transform="translate(739.9 961.1) scale(1.150 1)" font-size="23">10</text>
<text transform="translate(739.9 913.2) scale(1.150 1)" font-size="23">20</text>
<text transform="translate(739.9 865.2) scale(1.150 1)" font-size="23">30</text>
<text transform="translate(739.9 817.2) scale(1.150 1)" font-size="23">40</text>
<text transform="translate(739.9 769.2) scale(1.150 1)" font-size="23">50</text>
<text transform="translate(739.9 721.3) scale(1.150 1)" font-size="23">60</text>
<text transform="translate(739.9 673.3) scale(1.150 1)" font-size="23">70</text>
<text transform="translate(739.9 625.3) scale(1.150 1)" font-size="23">80</text>
<text transform="translate(739.9 577.4) scale(1.150 1)" font-size="23">90</text>
<text transform="translate(854.5 1040.6) scale(1.150 1)" font-size="23">0</text>
<text transform="translate(1030.6 1040.6) scale(1.150 1)" font-size="23">10</text>
<text transform="translate(1214.9 1040.6) scale(1.150 1)" font-size="23">20</text>
<text transform="translate(1398.9 1040.6) scale(1.150 1)" font-size="23">30</text>
<text transform="translate(1583.1 1040.6) scale(1.150 1)" font-size="23">40</text>
<path d="M782.3 1001.5H792M782.3 953.5H792M782.3 905.6H792M782.3 857.6H792M782.3 809.6H792M782.3 761.6H792M782.3 713.7H792M782.3 665.7H792M782.3 617.7H792M782.3 569.8H792M861.9 1001.5V1011M1045.8 1001.5V1011M1229.7 1001.5V1011M1413.6 1001.5V1011M1597.5 1001.5V1011" stroke="#000" stroke-width="1.3"/>
<path d="M1045.8 857.6L1113.3 553.7M1045.8 1001.5L1113.3 912.6M1597.5 1001.5L1624.3 912.6" stroke="#000" stroke-width="1.2" stroke-dasharray="6 5" fill="none"/>
<rect x="1113.3" y="553.7" width="511" height="358.9" fill="#fff"/>
<g clip-path="url(#ci)"><use href="#tr" stroke-width="4.3" transform="matrix(1.7030 0 0 -1.1980 943.00 912.60)"/></g>
<rect x="1113.3" y="553.7" width="511" height="358.9" fill="none" stroke="#000" stroke-width="1.3"/>
<path d="M1105.3 553.7H1113.3M1105.3 673H1113.3M1105.3 792.8H1113.3M1105.3 912.6H1113.3" stroke="#000" stroke-width="1.3"/>
<text transform="translate(1170.9 1080.8) scale(0.972 1)" font-size="28"><tspan font-style="italic">t</tspan> (s)</text>
<text transform="translate(719 827.7) rotate(-90) scale(1.002 1)" font-size="28">|<tspan font-style="italic">I</tspan>| (pA)</text>
<text transform="translate(884.9 617.8) scale(0.946 1)" font-size="28"><tspan font-style="italic">V</tspan> = –160 mV</text>
<rect x="1696" y="553.9" width="113.3" height="462.3" fill="none" stroke="#000" stroke-width="1.3"/>
<path d="M1686 1001.5H1696M1686 953.5H1696M1686 905.6H1696M1686 857.6H1696M1686 809.6H1696M1686 761.6H1696M1686 713.7H1696M1686 665.7H1696M1686 617.7H1696M1686 569.8H1696" stroke="#000" stroke-width="1.3"/>
<text transform="translate(1643.7 577.6) scale(1.150 1)" font-size="23">90</text>
<text transform="translate(1658.2 1008.8) scale(1.150 1)" font-size="23">0</text>
<text transform="translate(1667 826.2) rotate(-90) scale(0.998 1)" font-size="28">|<tspan font-style="italic">I</tspan>| (pA)</text>
<path d="M1752.3 565.9C1751.9 566 1750.7 566.2 1749.9 566.6C1749.1 567 1747.9 567.1 1747.5 568.5C1747.1 569.9 1747.6 573.2 1747.5 575C1747.4 576.8 1747.5 577.8 1747.1 579C1746.8 580.2 1746.5 581 1745.4 582C1744.3 583 1743.4 584 1740.4 585C1737.4 586 1731.7 587.2 1727.4 588C1723.1 588.8 1718.2 589.3 1714.4 590C1710.6 590.7 1704.8 591.4 1704.8 592.1C1704.8 592.8 1710.1 593.4 1714.4 594C1718.7 594.6 1725.7 595.3 1730.4 596C1735.1 596.7 1739.6 597.3 1742.4 598C1745.2 598.7 1746.3 599.2 1747.4 600C1748.5 600.8 1748.1 601.9 1748.9 602.5C1749.7 603.1 1751.7 603.2 1752.3 603.4C1752.9 603.5 1751.9 603.5 1752.5 603.4C1753.1 603.2 1755.1 603.1 1755.9 602.5C1756.7 601.9 1756.3 600.8 1757.4 600C1758.5 599.2 1759.6 598.7 1762.4 598C1765.2 597.3 1769.7 596.7 1774.4 596C1779.1 595.3 1786.1 594.6 1790.4 594C1794.7 593.4 1800 592.8 1800 592.1C1800 591.4 1794.2 590.7 1790.4 590C1786.6 589.3 1781.7 588.8 1777.4 588C1773.1 587.2 1767.4 586 1764.4 585C1761.4 584 1760.5 583 1759.4 582C1758.3 581 1758 580.2 1757.7 579C1757.4 577.8 1757.4 576.8 1757.3 575C1757.2 573.2 1757.7 569.9 1757.3 568.5C1756.9 567.1 1755.7 567 1754.9 566.6C1754.1 566.2 1752.9 566 1752.5 565.9C1752.1 565.8 1752.7 565.8 1752.3 565.9Z" fill="#4aab45"/>
<path d="M1752.3 834.5C1751.9 834.6 1750.5 833.2 1750.2 835C1750 836.8 1750.6 842.2 1750.8 845C1751 847.8 1751.4 849.8 1751.4 852C1751.4 854.2 1751.1 856 1750.8 858C1750.5 860 1750.3 862 1749.8 864C1749.3 866 1748.7 868 1748 870C1747.3 872 1746.5 874 1745.8 876C1745.1 878 1744.4 880 1743.8 882C1743.2 884 1742.8 886 1742.2 888C1741.6 890 1740.7 892 1740 894C1739.3 896 1738.5 898 1738 900C1737.5 902 1737.3 904.2 1736.8 906C1736.3 907.8 1736.1 909.3 1735.2 911C1734.3 912.7 1732.6 914.3 1731.4 916C1730.2 917.7 1728.9 919 1727.8 921C1726.8 923 1726.2 925.2 1725.1 928C1724 930.8 1722 934.7 1721.3 938C1720.6 941.3 1720.7 945.3 1720.8 947.8C1720.9 950.3 1721.6 951.3 1721.8 953C1722 954.7 1722.7 956.3 1722 958C1721.3 959.7 1719.3 961.3 1717.4 963C1715.5 964.7 1712.6 965.9 1710.4 968C1708.2 970.1 1704.6 973.1 1704.1 975.4C1703.6 977.7 1706 980.2 1707.4 982C1708.8 983.8 1709.7 984.5 1712.4 986C1715.1 987.5 1720.4 989.5 1723.6 991C1726.8 992.5 1729.4 993.8 1731.4 995C1733.4 996.2 1731.9 997.7 1735.4 998.2C1738.9 998.8 1749.5 998.3 1752.3 998.3C1755.2 998.3 1749.7 998.3 1752.5 998.3C1755.3 998.3 1765.9 998.8 1769.4 998.2C1772.9 997.7 1771.4 996.2 1773.4 995C1775.4 993.8 1778 992.5 1781.2 991C1784.4 989.5 1789.7 987.5 1792.4 986C1795.1 984.5 1796 983.8 1797.4 982C1798.8 980.2 1801.2 977.7 1800.7 975.4C1800.2 973.1 1796.6 970.1 1794.4 968C1792.2 965.9 1789.3 964.7 1787.4 963C1785.5 961.3 1783.5 959.7 1782.8 958C1782.1 956.3 1782.8 954.7 1783 953C1783.2 951.3 1783.9 950.3 1784 947.8C1784.1 945.3 1784.2 941.3 1783.5 938C1782.8 934.7 1780.8 930.8 1779.7 928C1778.6 925.2 1778 923 1777 921C1776 919 1774.6 917.7 1773.4 916C1772.2 914.3 1770.5 912.7 1769.6 911C1768.7 909.3 1768.5 907.8 1768 906C1767.5 904.2 1767.3 902 1766.8 900C1766.3 898 1765.5 896 1764.8 894C1764.1 892 1763.2 890 1762.6 888C1762 886 1761.6 884 1761 882C1760.4 880 1759.7 878 1759 876C1758.3 874 1757.5 872 1756.8 870C1756.1 868 1755.5 866 1755 864C1754.5 862 1754.3 860 1754 858C1753.7 856 1753.4 854.2 1753.4 852C1753.4 849.8 1753.8 847.8 1754 845C1754.2 842.2 1754.9 836.8 1754.6 835C1754.4 833.2 1752.9 834.6 1752.5 834.5C1752.1 834.4 1752.7 834.4 1752.3 834.5Z" fill="#c94848"/>
<g fill="#555" fill-opacity="0.3" stroke="#454545" stroke-width="1"><circle cx="1764.6" cy="828.5" r="2.1"/><circle cx="1737.1" cy="870.5" r="2.1"/><circle cx="1754.9" cy="880.6" r="2.1"/><circle cx="1749" cy="883.4" r="2.1"/><circle cx="1749.7" cy="886.9" r="2.1"/><circle cx="1751.1" cy="899.5" r="2.1"/><circle cx="1740.3" cy="903.3" r="2.1"/><circle cx="1751" cy="916.7" r="2.1"/><circle cx="1747.2" cy="920.3" r="2.1"/><circle cx="1772.3" cy="920.3" r="2.1"/><circle cx="1753.8" cy="924.2" r="2.1"/><circle cx="1750.3" cy="927.2" r="2.1"/><circle cx="1750.7" cy="929.8" r="2.1"/><circle cx="1748.4" cy="934.1" r="2.1"/><circle cx="1746.1" cy="938.6" r="2.1"/><circle cx="1750.1" cy="942.8" r="2.1"/><circle cx="1755.3" cy="944.8" r="2.1"/><circle cx="1751" cy="947.5" r="2.1"/><circle cx="1758.1" cy="951.9" r="2.1"/><circle cx="1751.2" cy="954.1" r="2.1"/><circle cx="1752.5" cy="956.6" r="2.1"/><circle cx="1761.7" cy="958.8" r="2.1"/><circle cx="1755.7" cy="967.3" r="2.1"/><circle cx="1749.4" cy="970.5" r="2.1"/><circle cx="1751.3" cy="973.6" r="2.1"/><circle cx="1755.6" cy="974.5" r="2.1"/><circle cx="1764" cy="977.1" r="2.1"/><circle cx="1750.8" cy="978.6" r="2.1"/><circle cx="1750.9" cy="981.3" r="2.1"/><circle cx="1758.4" cy="984.8" r="2.1"/><circle cx="1747.1" cy="988" r="2.1"/><circle cx="1750.6" cy="990.6" r="2.1"/><circle cx="1757.7" cy="993.5" r="2.1"/><circle cx="1755.9" cy="996.1" r="2.1"/><circle cx="1757.1" cy="967.7" r="2.1"/><circle cx="1759.5" cy="946.5" r="2.1"/><circle cx="1740.7" cy="997.9" r="2.1"/><circle cx="1757.3" cy="962.4" r="2.1"/><circle cx="1744.9" cy="983.1" r="2.1"/><circle cx="1752" cy="969.6" r="2.1"/><circle cx="1757.6" cy="929.9" r="2.1"/><circle cx="1760.2" cy="964.7" r="2.1"/><circle cx="1745.9" cy="976.2" r="2.1"/><circle cx="1756.5" cy="953.5" r="2.1"/><circle cx="1746.9" cy="976.5" r="2.1"/><circle cx="1734.9" cy="963.7" r="2.1"/><circle cx="1755.8" cy="950.5" r="2.1"/><circle cx="1752.8" cy="980.7" r="2.1"/><circle cx="1757.7" cy="998.1" r="2.1"/><circle cx="1746" cy="969.3" r="2.1"/><circle cx="1760.5" cy="949.9" r="2.1"/><circle cx="1748.9" cy="965.8" r="2.1"/><circle cx="1748.1" cy="960.9" r="2.1"/><circle cx="1744.1" cy="924.5" r="2.1"/><circle cx="1745.1" cy="960.1" r="2.1"/><circle cx="1752.2" cy="929.9" r="2.1"/><circle cx="1744.7" cy="592.3" r="2.1"/><circle cx="1755.8" cy="584.4" r="2.1"/><circle cx="1757.5" cy="588" r="2.1"/><circle cx="1749.5" cy="589.5" r="2.1"/><circle cx="1748.8" cy="593.9" r="2.1"/><circle cx="1745.8" cy="585.6" r="2.1"/><circle cx="1751" cy="593.2" r="2.1"/><circle cx="1755" cy="590" r="2.1"/><circle cx="1744.6" cy="595.7" r="2.1"/><circle cx="1757.9" cy="590.9" r="2.1"/><circle cx="1753.4" cy="588" r="2.1"/><circle cx="1753.7" cy="592.1" r="2.1"/><circle cx="1756.1" cy="591.8" r="2.1"/><circle cx="1753" cy="593.9" r="2.1"/><circle cx="1754.8" cy="591.3" r="2.1"/><circle cx="1762.4" cy="590" r="2.1"/><circle cx="1759.1" cy="585.1" r="2.1"/><circle cx="1750.9" cy="598.7" r="2.1"/><circle cx="1754.8" cy="593.2" r="2.1"/><circle cx="1757.7" cy="599.6" r="2.1"/><circle cx="1746.5" cy="586.8" r="2.1"/><circle cx="1748.8" cy="594.6" r="2.1"/><circle cx="1755.3" cy="590.7" r="2.1"/><circle cx="1751.5" cy="583" r="2.1"/><circle cx="1753.1" cy="587.9" r="2.1"/><circle cx="1755.7" cy="584.1" r="2.1"/><circle cx="1747.6" cy="585.6" r="2.1"/><circle cx="1748.7" cy="591.6" r="2.1"/><circle cx="1755.4" cy="585.1" r="2.1"/><circle cx="1750.4" cy="592" r="2.1"/><circle cx="1749.2" cy="589" r="2.1"/><circle cx="1754.6" cy="594.4" r="2.1"/><circle cx="1751.3" cy="581.4" r="2.1"/><circle cx="1747.1" cy="593" r="2.1"/><circle cx="1754.8" cy="596" r="2.1"/><circle cx="1752.4" cy="587.6" r="2.1"/><circle cx="1752.9" cy="589.6" r="2.1"/><circle cx="1745.5" cy="590.3" r="2.1"/><circle cx="1752.9" cy="592.6" r="2.1"/><circle cx="1750.3" cy="593.9" r="2.1"/><circle cx="1750.9" cy="594" r="2.1"/><circle cx="1750.6" cy="587.6" r="2.1"/><circle cx="1756.1" cy="591.5" r="2.1"/><circle cx="1760" cy="588.4" r="2.1"/><circle cx="1756.3" cy="598.9" r="2.1"/><circle cx="1753" cy="592.7" r="2.1"/><circle cx="1757.3" cy="587.7" r="2.1"/><circle cx="1753.1" cy="586.9" r="2.1"/><circle cx="1755.9" cy="575.1" r="2.1"/><circle cx="1746" cy="574.8" r="2.1"/><circle cx="1757.4" cy="576" r="2.1"/><circle cx="1758.8" cy="574" r="2.1"/><circle cx="1748.8" cy="583.2" r="2.1"/><circle cx="1754.4" cy="570.7" r="2.1"/><circle cx="1754" cy="574.1" r="2.1"/><circle cx="1754.3" cy="568.9" r="2.1"/><circle cx="1752.4" cy="574.3" r="2.1"/><circle cx="1748.6" cy="572.3" r="2.1"/></g>
<path d="M1752.4 913.5V983.3M1743.4 913.5h18.4M1743.4 983.3h18.4M1746.3 948.5h12" stroke="#fff" stroke-width="1.8" fill="none"/>
<text transform="translate(1715.5 623.4) scale(1.055 1)" font-size="28">Open</text>
<text transform="translate(1707.5 828.7) scale(1.043 1)" font-size="28">Closed</text>
</svg></body></html>
